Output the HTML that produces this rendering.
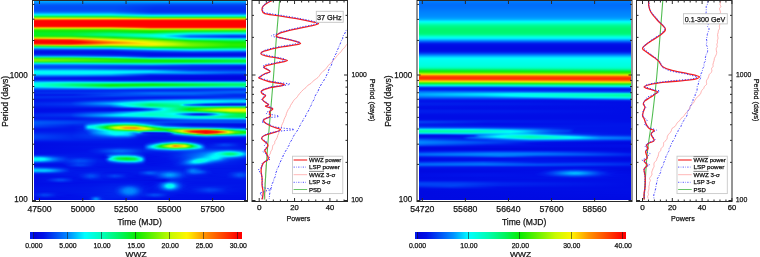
<!DOCTYPE html>
<html><head><meta charset="utf-8"><title>WWZ</title>
<style>
html,body{margin:0;padding:0;background:#fff;}
body{width:760px;height:257px;overflow:hidden;position:relative;font-family:"Liberation Sans", sans-serif;}
.a,.b,.c1,.c2{position:absolute;height:1px;}
.a{left:34px;width:212px;}
.b{left:419px;width:212px;}
.c1{left:30px;width:212px;top:232px;height:7px;}
.c2{left:415px;width:211px;top:232px;height:7px;}
svg{position:absolute;left:0;top:0;will-change:transform;}
svg text{font-family:"Liberation Sans", sans-serif;fill:#111;stroke:#111;stroke-width:0.25px;}
</style></head><body>
<div class="a" style="top:1px;background:linear-gradient(90deg,#00a3ff 0.5px,#00a6ff 90.5px,#00adff 136.5px,#00adff 211.5px)"></div>
<div class="a" style="top:2px;background:linear-gradient(90deg,#008efe 0.5px,#008bfd 211.5px)"></div>
<div class="a" style="top:3px;background:linear-gradient(90deg,#0077fc 0.5px,#0074fb 86.5px,#006afa 130.5px,#006afa 211.5px)"></div>
<div class="a" style="top:4px;background:linear-gradient(90deg,#0064f9 0.5px,#0060f9 83.5px,#0051f6 124.5px,#0051f6 211.5px)"></div>
<div class="a" style="top:5px;background:linear-gradient(90deg,#0057f7 0.5px,#0055f7 81.5px,#0042f4 122.5px,#0042f4 211.5px)"></div>
<div class="a" style="top:6px;background:linear-gradient(90deg,#0052f7 0.5px,#004ff6 81.5px,#003af2 122.5px,#003af2 211.5px)"></div>
<div class="a" style="top:7px;background:linear-gradient(90deg,#0050f6 0.5px,#004df6 80.5px,#0035f1 120.5px,#0035f1 211.5px)"></div>
<div class="a" style="top:8px;background:linear-gradient(90deg,#0050f6 0.5px,#004df6 80.5px,#0033f0 120.5px,#0033f0 211.5px)"></div>
<div class="a" style="top:9px;background:linear-gradient(90deg,#0051f6 0.5px,#004ff6 79.5px,#0031f0 119.5px,#0031f0 211.5px)"></div>
<div class="a" style="top:10px;background:linear-gradient(90deg,#0057f7 0.5px,#0054f7 79.5px,#0031f0 119.5px,#0031f0 211.5px)"></div>
<div class="a" style="top:11px;background:linear-gradient(90deg,#0067f9 0.5px,#0064f9 78.5px,#0035f1 117.5px,#0035f1 211.5px)"></div>
<div class="a" style="top:12px;background:linear-gradient(90deg,#0085fd 0.5px,#0083fd 77.5px,#0042f4 117.5px,#0042f3 211.5px)"></div>
<div class="a" style="top:13px;background:linear-gradient(90deg,#00b5fe 0.5px,#00b4fe 76.5px,#0074fa 107.5px,#0064f8 117.5px,#0064f8 211.5px)"></div>
<div class="a" style="top:14px;background:linear-gradient(90deg,#00e8ee 0.5px,#00e5ef 77.5px,#00a1fd 117.5px,#00a1fd 211.5px)"></div>
<div class="a" style="top:15px;background:linear-gradient(90deg,#02f9aa 0.5px,#02f8ad 77.5px,#00e7e9 117.5px,#00e7e9 211.5px)"></div>
<div class="a" style="top:16px;background:linear-gradient(90deg,#1bf347 0.5px,#1af44a 77.5px,#08f88f 114.5px,#08f892 211.5px)"></div>
<div class="a" style="top:17px;background:linear-gradient(90deg,#74f10d 0.5px,#72f00e 77.5px,#3ef123 117.5px,#3ef123 211.5px)"></div>
<div class="a" style="top:18px;background:linear-gradient(90deg,#dcd801 0.5px,#dad801 78.5px,#b6d702 118.5px,#b6d702 211.5px)"></div>
<div class="a" style="top:19px;background:linear-gradient(90deg,#fd7800 0.5px,#f97600 92.5px,#f47200 148.5px,#f47200 211.5px)"></div>
<div class="a" style="top:20px;background:linear-gradient(90deg,#ff1b00 0.5px,#ff1800 211.5px)"></div>
<div class="a" style="top:21px;background:linear-gradient(90deg,#ff0100 0.5px,#ff0100 211.5px)"></div>
<div class="a" style="top:22px;background:linear-gradient(90deg,#ff0000 0.5px,#ff0000 211.5px)"></div>
<div class="a" style="top:23px;background:linear-gradient(90deg,#ff0000 0.5px,#ff0000 211.5px)"></div>
<div class="a" style="top:24px;background:linear-gradient(90deg,#ff0000 0.5px,#ff0000 211.5px)"></div>
<div class="a" style="top:25px;background:linear-gradient(90deg,#ff0200 0.5px,#ff0000 211.5px)"></div>
<div class="a" style="top:26px;background:linear-gradient(90deg,#fe2400 0.5px,#ff2100 78.5px,#ff0400 120.5px,#ff0400 211.5px)"></div>
<div class="a" style="top:27px;background:linear-gradient(90deg,#f29200 0.5px,#f29000 76.5px,#fe4c00 105.5px,#fe2d00 116.5px,#fe2d00 211.5px)"></div>
<div class="a" style="top:28px;background:linear-gradient(90deg,#b7e300 0.5px,#b9e100 77.5px,#e3ca00 101.5px,#ea9f00 116.5px,#ea9f00 211.5px)"></div>
<div class="a" style="top:29px;background:linear-gradient(90deg,#56ef00 0.5px,#59ef00 77.5px,#8fec00 105.5px,#9fe500 118.5px,#9ce501 211.5px)"></div>
<div class="a" style="top:30px;background:linear-gradient(90deg,#1ded03 0.5px,#22ed05 78.5px,#46ee00 118.5px,#45f00c 167.5px,#3cef10 210.5px,#3cef10 211.5px)"></div>
<div class="a" style="top:31px;background:linear-gradient(90deg,#0cec0c 0.5px,#0bed12 46.5px,#0bee1d 78.5px,#16ec03 110.5px,#17ec05 120.5px,#11f23a 159.5px,#0cf34c 202.5px,#0cf34c 211.5px)"></div>
<div class="a" style="top:32px;background:linear-gradient(90deg,#07ee19 0.5px,#07ef23 39.5px,#03f24a 76.5px,#0aee1a 115.5px,#03f55f 139.5px,#02f88b 157.5px,#01f99e 202.5px,#01f99e 211.5px)"></div>
<div class="a" style="top:33px;background:linear-gradient(90deg,#06ef22 0.5px,#05f02f 37.5px,#00f772 75.5px,#02f66c 116.5px,#00fabf 144.5px,#00efd8 157.5px,#00e6e5 207.5px,#00e6e5 211.5px)"></div>
<div class="a" style="top:34px;background:linear-gradient(90deg,#07ef20 0.5px,#05f034 37.5px,#00f87c 69.5px,#00fa92 84.5px,#00fdb6 117.5px,#00fbdf 133.5px,#00ecf2 143.5px,#00c0f8 156.5px,#009bfb 198.5px,#009bfb 211.5px)"></div>
<div class="a" style="top:35px;background:linear-gradient(90deg,#11ee13 0.5px,#0cef27 37.5px,#02f561 64.5px,#00ffd7 119.5px,#00fdf7 130.5px,#00bafe 145.5px,#008bfd 155.5px,#0058f7 197.5px,#0058f7 211.5px)"></div>
<div class="a" style="top:36px;background:linear-gradient(90deg,#3fee04 0.5px,#33ef0a 37.5px,#1cee16 51.5px,#05f34a 79.5px,#00fec7 119.5px,#00fef3 130.5px,#00c2fe 142.5px,#0084fd 152.5px,#0072fb 156.5px,#003bf2 197.5px,#003bf2 211.5px)"></div>
<div class="a" style="top:37px;background:linear-gradient(90deg,#9be800 0.5px,#8ef200 36.5px,#4cf008 62.5px,#1dee13 80.5px,#03f66d 111.5px,#02f988 118.5px,#00fdcb 131.5px,#00f0ee 140.5px,#009afc 155.5px,#0063f6 197.5px,#0063f6 211.5px)"></div>
<div class="a" style="top:38px;background:linear-gradient(90deg,#e9af00 0.5px,#e5cf00 27.5px,#dad400 38.5px,#aeed00 58.5px,#8ef300 68.5px,#5df103 83.5px,#1cef1d 110.5px,#14f133 117.5px,#03f77b 131.5px,#01f8b6 142.5px,#00e2e8 156.5px,#00bbed 199.5px,#00bbed 211.5px)"></div>
<div class="a" style="top:39px;background:linear-gradient(90deg,#fe4500 0.5px,#fb6500 36.5px,#f3a700 52.5px,#e7df00 64.5px,#bef500 79.5px,#59f105 113.5px,#1cef1c 129.5px,#05f673 148.5px,#02f794 156.5px,#00f0b3 199.5px,#00f0b3 211.5px)"></div>
<div class="a" style="top:40px;background:linear-gradient(90deg,#ff0b00 0.5px,#ff1600 37.5px,#ff4b00 49.5px,#fab000 68.5px,#f3df00 78.5px,#d5f400 94.5px,#aef600 108.5px,#74f201 123.5px,#4df007 133.5px,#13ef20 151.5px,#0df132 157.5px,#03f45d 194.5px,#03f45f 211.5px)"></div>
<div class="a" style="top:41px;background:linear-gradient(90deg,#ff0000 0.5px,#ff0400 39.5px,#ff0f00 46.5px,#ff9000 73.5px,#fcbd00 84.5px,#f3ec00 98.5px,#d4f700 111.5px,#9df600 127.5px,#35ee04 153.5px,#27ee08 160.5px,#0eed12 181.5px,#07ef25 198.5px,#07ef25 211.5px)"></div>
<div class="a" style="top:42px;background:linear-gradient(90deg,#ff0100 0.5px,#ff0400 44.5px,#ff1100 50.5px,#ff8e00 81.5px,#fae500 104.5px,#f5f100 109.5px,#cbf800 125.5px,#80f300 144.5px,#4eef00 156.5px,#14ec06 192.5px,#0fec07 202.5px,#0fec07 211.5px)"></div>
<div class="a" style="top:43px;background:linear-gradient(90deg,#fe1d00 0.5px,#ff1200 38.5px,#ff1d00 44.5px,#fe5e00 62.5px,#fe9900 77.5px,#fed000 100.5px,#fbed00 113.5px,#f0f600 120.5px,#b7f800 138.5px,#67f100 156.5px,#1eec00 197.5px,#1eec00 211.5px)"></div>
<div class="a" style="top:44px;background:linear-gradient(90deg,#e57d01 0.5px,#f55d00 36.5px,#f19000 55.5px,#ebd600 76.5px,#f7ef00 116.5px,#ecf700 122.5px,#baf900 139.5px,#71f200 157.5px,#27ed00 197.5px,#27ed00 211.5px)"></div>
<div class="a" style="top:45px;background:linear-gradient(90deg,#86d911 0.5px,#b2d004 32.5px,#b1d503 44.5px,#9af102 76.5px,#caf301 109.5px,#d1f500 117.5px,#abf700 135.5px,#69f100 159.5px,#25ed00 196.5px,#25ed00 211.5px)"></div>
<div class="a" style="top:46px;background:linear-gradient(90deg,#21f357 0.5px,#34f02b 38.5px,#2df124 76.5px,#7df30b 116.5px,#58f001 151.5px,#1eed06 190.5px,#16ed08 199.5px,#16ed08 211.5px)"></div>
<div class="a" style="top:47px;background:linear-gradient(90deg,#02e6c1 0.5px,#04eca0 42.5px,#06f192 78.5px,#0ef67b 91.5px,#20f33b 119.5px,#1fef1a 142.5px,#28ee13 157.5px,#10ee1c 179.5px,#09f02f 198.5px,#09f02f 211.5px)"></div>
<div class="a" style="top:48px;background:linear-gradient(90deg,#009ef3 0.5px,#00b9ec 46.5px,#00c5e9 76.5px,#00e2e1 87.5px,#03f898 123.5px,#0af45c 156.5px,#02f77f 194.5px,#02f781 211.5px)"></div>
<div class="a" style="top:49px;background:linear-gradient(90deg,#0054f5 0.5px,#0071f7 76.5px,#00a1f7 95.5px,#00dfea 120.5px,#01f1bc 157.5px,#00eed1 201.5px,#00eed1 211.5px)"></div>
<div class="a" style="top:50px;background:linear-gradient(90deg,#0027ed 0.5px,#0031ef 75.5px,#0091fa 124.5px,#00c3f2 157.5px,#00b7f6 207.5px,#00b7f6 211.5px)"></div>
<div class="a" style="top:51px;background:linear-gradient(90deg,#0012e8 0.5px,#0018ea 78.5px,#006ff8 149.5px,#0077f9 158.5px,#006cf8 210.5px,#006cf8 211.5px)"></div>
<div class="a" style="top:52px;background:linear-gradient(90deg,#000fe7 0.5px,#0011e8 83.5px,#003cf2 159.5px,#0033f0 211.5px)"></div>
<div class="a" style="top:53px;background:linear-gradient(90deg,#0017ea 0.5px,#0012e9 114.5px,#001ceb 164.5px,#0017ea 211.5px)"></div>
<div class="a" style="top:54px;background:linear-gradient(90deg,#002eef 0.5px,#002aee 46.5px,#000ee7 120.5px,#000fe7 211.5px)"></div>
<div class="a" style="top:55px;background:linear-gradient(90deg,#0061f5 0.5px,#005ef6 39.5px,#0037f1 85.5px,#0013e8 117.5px,#0016e9 211.5px)"></div>
<div class="a" style="top:56px;background:linear-gradient(90deg,#01b2df 0.5px,#00afe1 38.5px,#007bf7 84.5px,#0033ef 115.5px,#0039f0 206.5px,#0039f0 211.5px)"></div>
<div class="a" style="top:57px;background:linear-gradient(90deg,#0fe77c 0.5px,#0ce77e 37.5px,#02dcc7 79.5px,#01d6d7 86.5px,#0087ec 113.5px,#0082ed 119.5px,#0087f1 211.5px)"></div>
<div class="a" style="top:58px;background:linear-gradient(90deg,#42f01c 0.5px,#30ef1d 39.5px,#12ef31 66.5px,#0ef045 77.5px,#04ee70 90.5px,#01deb4 116.5px,#00e0ca 206.5px,#00e0ca 211.5px)"></div>
<div class="a" style="top:59px;background:linear-gradient(90deg,#77f201 0.5px,#49ef01 46.5px,#29ed07 75.5px,#0eee20 96.5px,#08f14b 117.5px,#02f469 170.5px,#01f67b 201.5px,#01f67b 211.5px)"></div>
<div class="a" style="top:60px;background:linear-gradient(90deg,#7cf301 0.5px,#1fed02 93.5px,#0eed0f 128.5px,#08ee1b 156.5px,#03f246 198.5px,#03f246 211.5px)"></div>
<div class="a" style="top:61px;background:linear-gradient(90deg,#4ef118 0.5px,#2aef16 50.5px,#19ed0e 89.5px,#08ed13 148.5px,#06ef29 172.5px,#04f243 198.5px,#04f243 211.5px)"></div>
<div class="a" style="top:62px;background:linear-gradient(90deg,#13f172 0.5px,#0bf375 39.5px,#08f254 81.5px,#08f24c 120.5px,#03f363 164.5px,#01f57d 199.5px,#01f57d 211.5px)"></div>
<div class="a" style="top:63px;background:linear-gradient(90deg,#01dadd 0.5px,#00dede 39.5px,#01e4d5 56.5px,#01eabe 97.5px,#01ecb7 120.5px,#00e0cc 169.5px,#00e0d6 206.5px,#00e0d6 211.5px)"></div>
<div class="a" style="top:64px;background:linear-gradient(90deg,#0094fb 0.5px,#0098fc 43.5px,#00a9f5 87.5px,#00b9f1 117.5px,#008ef4 157.5px,#0087f6 211.5px)"></div>
<div class="a" style="top:65px;background:linear-gradient(90deg,#0061f9 0.5px,#0065f8 85.5px,#006ef8 118.5px,#004af4 159.5px,#0040f2 211.5px)"></div>
<div class="a" style="top:66px;background:linear-gradient(90deg,#004cf6 0.5px,#0047f5 53.5px,#003af2 130.5px,#0021ec 204.5px,#0021ec 211.5px)"></div>
<div class="a" style="top:67px;background:linear-gradient(90deg,#004df6 0.5px,#004af5 44.5px,#002aee 124.5px,#0025ed 164.5px,#0017ea 203.5px,#0017ea 211.5px)"></div>
<div class="a" style="top:68px;background:linear-gradient(90deg,#0067f9 0.5px,#0064f9 41.5px,#0032f0 125.5px,#001beb 204.5px,#001beb 211.5px)"></div>
<div class="a" style="top:69px;background:linear-gradient(90deg,#0096fe 0.5px,#0092fe 40.5px,#0064f8 118.5px,#0030ef 157.5px,#0029ee 211.5px)"></div>
<div class="a" style="top:70px;background:linear-gradient(90deg,#00cefe 0.5px,#00cbfe 43.5px,#00abfe 116.5px,#0072fa 138.5px,#004af5 157.5px,#003df3 205.5px,#003df3 211.5px)"></div>
<div class="a" style="top:71px;background:linear-gradient(90deg,#00f5fa 0.5px,#00effd 71.5px,#00daff 114.5px,#0079fc 153.5px,#005df8 184.5px,#0055f7 202.5px,#0055f7 211.5px)"></div>
<div class="a" style="top:72px;background:linear-gradient(90deg,#00fef5 0.5px,#00f9fa 75.5px,#00ebff 90.5px,#007ffd 166.5px,#0060f9 198.5px,#0060f9 211.5px)"></div>
<div class="a" style="top:73px;background:linear-gradient(90deg,#00f5fa 0.5px,#00f1fc 51.5px,#00e1fe 77.5px,#0084fc 116.5px,#0077fb 158.5px,#0048f4 197.5px,#0048f4 211.5px)"></div>
<div class="a" style="top:74px;background:linear-gradient(90deg,#00cdfe 0.5px,#00c9fe 42.5px,#00b2fe 76.5px,#0079fb 95.5px,#0044f3 116.5px,#0045f3 159.5px,#0026ed 199.5px,#0026ed 211.5px)"></div>
<div class="a" style="top:75px;background:linear-gradient(90deg,#008efd 0.5px,#008afc 43.5px,#0074fa 77.5px,#001eeb 116.5px,#0010e6 211.5px)"></div>
<div class="a" style="top:76px;background:linear-gradient(90deg,#0057f7 0.5px,#004ef5 48.5px,#003df2 79.5px,#000fe6 114.5px,#0009e1 200.5px,#0009e1 211.5px)"></div>
<div class="a" style="top:77px;background:linear-gradient(90deg,#002eef 0.5px,#0018e9 82.5px,#0009e1 123.5px,#0006de 211.5px)"></div>
<div class="a" style="top:78px;background:linear-gradient(90deg,#001beb 0.5px,#0005dd 158.5px,#0006dd 211.5px)"></div>
<div class="a" style="top:79px;background:linear-gradient(90deg,#0025ed 0.5px,#0021ec 43.5px,#0012e6 88.5px,#000be1 200.5px,#000be1 211.5px)"></div>
<div class="a" style="top:80px;background:linear-gradient(90deg,#004df5 0.5px,#004cf4 39.5px,#0033ef 81.5px,#002aeb 195.5px,#002aeb 211.5px)"></div>
<div class="a" style="top:81px;background:linear-gradient(90deg,#008dfd 0.5px,#009af9 35.5px,#007ff7 80.5px,#0081ef 128.5px,#0080f1 211.5px)"></div>
<div class="a" style="top:82px;background:linear-gradient(90deg,#00d1fd 0.5px,#00e6f0 23.5px,#00e6e2 38.5px,#00dedf 79.5px,#01debe 117.5px,#00dfd0 166.5px,#00e0d1 211.5px)"></div>
<div class="a" style="top:83px;background:linear-gradient(90deg,#00f7f4 0.5px,#00fcbc 28.5px,#00faa7 38.5px,#03f35d 117.5px,#01f784 170.5px,#00f892 202.5px,#00f892 211.5px)"></div>
<div class="a" style="top:84px;background:linear-gradient(90deg,#00ffea 0.5px,#00fca6 25.5px,#00f87e 39.5px,#07ef29 77.5px,#08ed1a 118.5px,#03f34c 167.5px,#00f66f 198.5px,#00f66f 211.5px)"></div>
<div class="a" style="top:85px;background:linear-gradient(90deg,#00feec 0.5px,#00fca9 25.5px,#07ee23 71.5px,#08ed16 76.5px,#06f030 124.5px,#03f358 164.5px,#00f780 197.5px,#00f780 211.5px)"></div>
<div class="a" style="top:86px;background:linear-gradient(90deg,#00eff9 0.5px,#00faab 39.5px,#04f250 76.5px,#02f586 119.5px,#00edbc 200.5px,#00edbc 211.5px)"></div>
<div class="a" style="top:87px;background:linear-gradient(90deg,#00b7fe 0.5px,#00e3e8 38.5px,#01ebae 76.5px,#00dbe2 118.5px,#00b7ec 178.5px,#00aeee 205.5px,#00aeee 211.5px)"></div>
<div class="a" style="top:88px;background:linear-gradient(90deg,#0078fa 0.5px,#0097f8 46.5px,#00aeed 76.5px,#0084f7 110.5px,#0062f6 180.5px,#005cf6 211.5px)"></div>
<div class="a" style="top:89px;background:linear-gradient(90deg,#0049f5 0.5px,#0054f5 55.5px,#005af5 78.5px,#003ff3 122.5px,#003af2 172.5px,#003bf2 211.5px)"></div>
<div class="a" style="top:90px;background:linear-gradient(90deg,#002cef 0.5px,#0030f0 62.5px,#0031f0 152.5px,#0047f5 203.5px,#0047f5 211.5px)"></div>
<div class="a" style="top:91px;background:linear-gradient(90deg,#0025ed 0.5px,#0029ee 52.5px,#003df3 103.5px,#0043f3 126.5px,#0046f4 161.5px,#005af8 201.5px,#005af8 211.5px)"></div>
<div class="a" style="top:92px;background:linear-gradient(90deg,#002bef 0.5px,#002ff0 50.5px,#003cf3 81.5px,#005df8 118.5px,#005af8 211.5px)"></div>
<div class="a" style="top:93px;background:linear-gradient(90deg,#0029ee 0.5px,#002cef 41.5px,#0047f5 84.5px,#0067fa 119.5px,#0064f9 159.5px,#0047f5 200.5px,#0047f5 211.5px)"></div>
<div class="a" style="top:94px;background:linear-gradient(90deg,#001deb 0.5px,#0020ec 39.5px,#0048f5 83.5px,#005af8 122.5px,#0057f8 158.5px,#0032f0 199.5px,#0032f0 211.5px)"></div>
<div class="a" style="top:95px;background:linear-gradient(90deg,#001deb 0.5px,#0020ec 38.5px,#0045f4 78.5px,#0042f4 160.5px,#002aef 200.5px,#002aef 211.5px)"></div>
<div class="a" style="top:96px;background:linear-gradient(90deg,#0029ee 0.5px,#002def 46.5px,#0036f1 81.5px,#002def 129.5px,#002eef 211.5px)"></div>
<div class="a" style="top:97px;background:linear-gradient(90deg,#002cef 0.5px,#0028ee 52.5px,#001eeb 121.5px,#0028ee 163.5px,#003ef3 200.5px,#003ef3 211.5px)"></div>
<div class="a" style="top:98px;background:linear-gradient(90deg,#0024ed 0.5px,#001eeb 53.5px,#001aeb 81.5px,#0036f1 137.5px,#005ef8 199.5px,#005ef8 211.5px)"></div>
<div class="a" style="top:99px;background:linear-gradient(90deg,#0019ea 0.5px,#001eec 63.5px,#0024ed 79.5px,#008cfb 158.5px,#0091fd 211.5px)"></div>
<div class="a" style="top:100px;background:linear-gradient(90deg,#0016ea 0.5px,#001aeb 39.5px,#003af2 77.5px,#00a3fd 121.5px,#00dcfa 157.5px,#00c9ff 193.5px,#00c7ff 211.5px)"></div>
<div class="a" style="top:101px;background:linear-gradient(90deg,#001aea 0.5px,#0020ec 37.5px,#0063f8 77.5px,#00b7fc 101.5px,#00e5f3 117.5px,#00faec 158.5px,#00f0fe 179.5px,#00d5ff 197.5px,#00d5ff 211.5px)"></div>
<div class="a" style="top:102px;background:linear-gradient(90deg,#0021ec 0.5px,#0029ee 36.5px,#008afd 75.5px,#00cffc 90.5px,#00edf3 99.5px,#00fcca 116.5px,#00feda 149.5px,#00fae8 158.5px,#00ddfd 172.5px,#00a7fd 196.5px,#00a7fd 211.5px)"></div>
<div class="a" style="top:103px;background:linear-gradient(90deg,#0026ee 0.5px,#0030f0 36.5px,#0093fe 70.5px,#00b1ff 77.5px,#00f1fe 87.5px,#00fed1 101.5px,#00fa94 116.5px,#00febd 144.5px,#00fdd6 148.5px,#00eae2 151.5px,#00d8f6 157.5px,#0083f9 171.5px,#0073f7 177.5px,#0051f3 197.5px,#0051f3 211.5px)"></div>
<div class="a" style="top:104px;background:linear-gradient(90deg,#0027ee 0.5px,#0033f1 37.5px,#008efe 73.5px,#00a3fe 77.5px,#00f3fe 87.5px,#00fee8 93.5px,#00fca6 106.5px,#00f672 115.5px,#00f775 119.5px,#00fca8 144.5px,#00feb2 145.5px,#00ffd7 147.5px,#00f9ea 148.5px,#00e2f3 149.5px,#00c9f5 150.5px,#00adf7 152.5px,#0074f8 159.5px,#0035ef 171.5px,#002ceb 178.5px,#0025e8 205.5px,#0025e8 211.5px)"></div>
<div class="a" style="top:105px;background:linear-gradient(90deg,#0023ed 0.5px,#002cef 37.5px,#006efa 75.5px,#0098fe 81.5px,#00e7fc 90.5px,#00f5f4 93.5px,#00fed2 100.5px,#00f673 115.5px,#00f774 120.5px,#00fa8e 143.5px,#00fa92 144.5px,#00fb9d 145.5px,#00fdc3 147.5px,#00f9d8 148.5px,#00e9e3 149.5px,#00d2e7 150.5px,#00b8e9 152.5px,#008eeb 157.5px,#005aeb 172.5px,#0060e5 211.5px)"></div>
<div class="a" style="top:106px;background:linear-gradient(90deg,#001deb 0.5px,#0024ed 39.5px,#004df5 76.5px,#008efd 86.5px,#00ccfb 94.5px,#00e2f4 98.5px,#00f6ac 113.5px,#00f99d 117.5px,#00f983 144.5px,#00f990 147.5px,#00efa0 150.5px,#01ddaf 158.5px,#02d0c1 173.5px,#07d2a6 196.5px,#07d2a6 211.5px)"></div>
<div class="a" style="top:107px;background:linear-gradient(90deg,#0017ea 0.5px,#001ceb 45.5px,#0029ed 76.5px,#006ef7 93.5px,#009df3 104.5px,#00dce4 116.5px,#00fec0 130.5px,#00f670 148.5px,#03f254 156.5px,#11f251 170.5px,#16f14d 175.5px,#2af02d 191.5px,#35f12b 197.5px,#35f12b 211.5px)"></div>
<div class="a" style="top:108px;background:linear-gradient(90deg,#0012e9 0.5px,#0013e6 78.5px,#002dec 97.5px,#0048f2 106.5px,#0080f8 116.5px,#00aff8 122.5px,#00fbf0 129.5px,#00fec5 135.5px,#03f246 150.5px,#0aee1b 155.5px,#15ed10 159.5px,#71f307 183.5px,#9ef402 196.5px,#9ef402 211.5px)"></div>
<div class="a" style="top:109px;background:linear-gradient(90deg,#000fe7 0.5px,#000ce3 89.5px,#0018e7 102.5px,#002aee 108.5px,#0059f7 116.5px,#0096fe 122.5px,#00ecfd 128.5px,#00fdf5 130.5px,#00fb9c 140.5px,#03f243 149.5px,#0bed11 154.5px,#24ed02 159.5px,#bbf800 184.5px,#ebf500 196.5px,#ebf400 211.5px)"></div>
<div class="a" style="top:110px;background:linear-gradient(90deg,#000ee6 0.5px,#0014e7 78.5px,#0026eb 96.5px,#0040f1 105.5px,#0074f9 114.5px,#00a8fd 120.5px,#00f2f7 127.5px,#00fee9 130.5px,#00f983 144.5px,#09f032 155.5px,#16ee19 160.5px,#7df402 177.5px,#b7f701 185.5px,#ecf500 195.5px,#f0f300 211.5px)"></div>
<div class="a" style="top:111px;background:linear-gradient(90deg,#000fe7 0.5px,#0013e9 39.5px,#0032ef 77.5px,#006bf8 96.5px,#009afb 106.5px,#00e9f4 120.5px,#00ffdf 128.5px,#00fa9f 147.5px,#02f57d 158.5px,#13f255 168.5px,#28f029 176.5px,#91f401 192.5px,#adf501 196.5px,#b9f500 211.5px)"></div>
<div class="a" style="top:112px;background:linear-gradient(90deg,#0015e9 0.5px,#001ceb 37.5px,#005af7 76.5px,#009cfd 91.5px,#00e7f9 106.5px,#00fade 117.5px,#00ffd3 134.5px,#00fcd7 141.5px,#00d9e1 156.5px,#01d1ce 166.5px,#03daaa 174.5px,#12f575 183.5px,#27f124 191.5px,#4bf114 196.5px,#5df109 206.5px,#60f207 211.5px)"></div>
<div class="a" style="top:113px;background:linear-gradient(90deg,#001eec 0.5px,#0027ee 36.5px,#0084fd 75.5px,#00beff 87.5px,#00f2fa 98.5px,#00fede 109.5px,#00ffca 116.5px,#00ffd4 129.5px,#00ffee 138.5px,#00fbf5 140.5px,#00c4f8 146.5px,#0094f9 151.5px,#006cf5 157.5px,#005bf0 162.5px,#005aec 167.5px,#006deb 172.5px,#0097ea 177.5px,#01ecdc 183.5px,#02fbbf 186.5px,#06f877 192.5px,#10f34c 197.5px,#16f12f 204.5px,#19f023 211.5px)"></div>
<div class="a" style="top:114px;background:linear-gradient(90deg,#0025ed 0.5px,#0030f0 36.5px,#0090fe 67.5px,#00f3fe 90.5px,#00fee7 101.5px,#00ffc3 116.5px,#00ffcd 128.5px,#00ffe6 136.5px,#00fef4 139.5px,#00f1f9 141.5px,#00bafe 146.5px,#0067f8 153.5px,#003af0 158.5px,#002bea 162.5px,#002bea 168.5px,#003bef 172.5px,#0065f7 176.5px,#00b3fc 181.5px,#00e3f4 184.5px,#00fae9 186.5px,#00fec8 189.5px,#01f87d 196.5px,#02f45b 202.5px,#04f246 210.5px,#04f244 211.5px)"></div>
<div class="a" style="top:115px;background:linear-gradient(90deg,#0027ee 0.5px,#0031f0 36.5px,#008ffe 64.5px,#00d6ff 81.5px,#00f0fd 89.5px,#00fecf 117.5px,#00ffce 130.5px,#00ffde 138.5px,#00f2f0 144.5px,#00ddf6 147.5px,#0092f4 155.5px,#0077f1 160.5px,#006fee 166.5px,#007cef 171.5px,#0098f1 175.5px,#00e1ec 181.5px,#00f9d3 185.5px,#00fdb0 189.5px,#00f774 196.5px,#02f354 204.5px,#03f249 211.5px)"></div>
<div class="a" style="top:116px;background:linear-gradient(90deg,#0024ed 0.5px,#0029ee 36.5px,#008bfd 71.5px,#00adfe 82.5px,#00d9f7 104.5px,#00e6f1 114.5px,#00fadc 134.5px,#00fde0 145.5px,#00dfe4 159.5px,#00dddf 169.5px,#00eecc 177.5px,#00fbb8 182.5px,#00f66f 195.5px,#02f459 204.5px,#02f354 211.5px)"></div>
<div class="a" style="top:117px;background:linear-gradient(90deg,#001fec 0.5px,#0020ec 37.5px,#0079fa 90.5px,#00a0fb 117.5px,#00e8f4 139.5px,#00f5df 162.5px,#00f9cc 175.5px,#00f78f 197.5px,#01f689 211.5px)"></div>
<div class="a" style="top:118px;background:linear-gradient(90deg,#001eec 0.5px,#0019eb 38.5px,#004cf5 95.5px,#0060f8 117.5px,#00a9fb 143.5px,#00c9f6 157.5px,#00e3e7 187.5px,#00e2dd 200.5px,#00e2dc 211.5px)"></div>
<div class="a" style="top:119px;background:linear-gradient(90deg,#0028ee 0.5px,#001eec 41.5px,#0035f1 100.5px,#0039f1 117.5px,#0082fb 157.5px,#0094fa 197.5px,#0094fa 211.5px)"></div>
<div class="a" style="top:120px;background:linear-gradient(90deg,#003cf3 0.5px,#0029ee 58.5px,#0035f1 94.5px,#002bef 117.5px,#0055f7 159.5px,#005df8 211.5px)"></div>
<div class="a" style="top:121px;background:linear-gradient(90deg,#0050f6 0.5px,#0034f1 53.5px,#0042f3 73.5px,#0058f7 90.5px,#004ef5 102.5px,#003cf2 114.5px,#0043f4 136.5px,#004ff6 162.5px,#004ef6 211.5px)"></div>
<div class="a" style="top:122px;background:linear-gradient(90deg,#0059f8 0.5px,#0039f2 50.5px,#005bf8 67.5px,#0090fb 84.5px,#0097fa 92.5px,#0088fb 101.5px,#0064f9 108.5px,#0049f5 119.5px,#0040f3 136.5px,#0049f5 211.5px)"></div>
<div class="a" style="top:123px;background:linear-gradient(90deg,#0058f8 0.5px,#0035f1 48.5px,#0041f4 51.5px,#005bf8 55.5px,#0077fb 62.5px,#00a5f9 70.5px,#00dbe7 82.5px,#01e3df 88.5px,#01e4dd 92.5px,#01dce6 98.5px,#00d0ea 101.5px,#0094fb 109.5px,#0062f9 116.5px,#0044f4 123.5px,#0030f0 134.5px,#0020ec 158.5px,#0027ed 211.5px)"></div>
<div class="a" style="top:124px;background:linear-gradient(90deg,#0052f7 0.5px,#002eef 39.5px,#002eef 48.5px,#003ff3 50.5px,#007dfb 54.5px,#00b7fa 62.5px,#00e5eb 68.5px,#06f491 81.5px,#15f679 91.5px,#0af296 101.5px,#01e6d4 107.5px,#01dde3 109.5px,#0095fa 116.5px,#0064f8 121.5px,#003ef3 128.5px,#002cef 135.5px,#0012e8 155.5px,#0010e6 211.5px)"></div>
<div class="a" style="top:125px;background:linear-gradient(90deg,#0049f6 0.5px,#0024ed 38.5px,#0029ee 48.5px,#0034f1 49.5px,#0047f5 50.5px,#007efc 52.5px,#009dfe 53.5px,#00b6fe 54.5px,#00cafd 56.5px,#00ecf0 61.5px,#00faaf 68.5px,#04f56e 73.5px,#28f126 80.5px,#62f21c 89.5px,#68f21b 91.5px,#4ff123 100.5px,#3af129 102.5px,#2bf341 104.5px,#16f67a 108.5px,#04eda6 112.5px,#01e1dc 116.5px,#00bdec 119.5px,#009bf5 122.5px,#0068f7 128.5px,#0053f5 131.5px,#002bee 146.5px,#001bea 159.5px,#000de5 209.5px,#000de5 211.5px)"></div>
<div class="a" style="top:126px;background:linear-gradient(90deg,#003ff3 0.5px,#001deb 38.5px,#0021ec 47.5px,#0026ed 48.5px,#0034f1 49.5px,#004ef6 50.5px,#0070fa 51.5px,#00c5ff 53.5px,#00e5fe 54.5px,#00f1fb 55.5px,#00fde0 60.5px,#00fdbc 63.5px,#02f45d 69.5px,#0cef26 72.5px,#17ee1b 73.5px,#87f402 80.5px,#b1f501 84.5px,#d2e201 90.5px,#cbdf01 97.5px,#c5df02 100.5px,#a9e805 103.5px,#77f317 107.5px,#3cf227 111.5px,#2df231 112.5px,#11f578 116.5px,#03eda1 119.5px,#01e4c8 122.5px,#00d9e3 125.5px,#00a2f2 130.5px,#008ff4 134.5px,#0062f5 147.5px,#0048f2 157.5px,#0016e9 203.5px,#0013e8 211.5px)"></div>
<div class="a" style="top:127px;background:linear-gradient(90deg,#0031f0 0.5px,#0019ea 38.5px,#001fec 47.5px,#0024ed 48.5px,#0033f0 49.5px,#004df5 50.5px,#0071fb 51.5px,#00c9ff 53.5px,#00e8fe 54.5px,#00f2fb 55.5px,#00fedf 60.5px,#00fdb5 63.5px,#02f45b 68.5px,#0bee1a 71.5px,#28ed04 73.5px,#b1f700 79.5px,#d0f700 81.5px,#ebf500 84.5px,#f5d900 87.5px,#fab700 90.5px,#fbad00 92.5px,#f8a400 100.5px,#f4b200 102.5px,#e3e301 106.5px,#baf402 110.5px,#86f40a 113.5px,#2af125 118.5px,#17f243 120.5px,#0af56e 123.5px,#01eab4 129.5px,#00e5c4 131.5px,#01dbdc 140.5px,#01c3e0 145.5px,#019de4 157.5px,#0183eb 175.5px,#0064f4 188.5px,#003bf1 201.5px,#002eee 211.5px)"></div>
<div class="a" style="top:128px;background:linear-gradient(90deg,#0022ec 0.5px,#0017ea 38.5px,#0023ed 48.5px,#002fef 49.5px,#0044f4 50.5px,#0082fc 52.5px,#00a4fe 53.5px,#00bcfe 54.5px,#00cbfc 56.5px,#00ecf3 60.5px,#00fbc7 64.5px,#01f671 69.5px,#0bf030 72.5px,#15ef1f 73.5px,#7af303 78.5px,#a8f601 80.5px,#c2f601 82.5px,#def201 85.5px,#e9e201 87.5px,#f3b700 91.5px,#fba000 100.5px,#fda800 102.5px,#f7d900 107.5px,#ebf100 110.5px,#d6f700 112.5px,#a8f701 115.5px,#59f006 119.5px,#31ef14 122.5px,#15ef21 125.5px,#05f35b 130.5px,#06f461 132.5px,#11f46c 138.5px,#15ef7e 144.5px,#20e884 152.5px,#23e48d 158.5px,#28df97 171.5px,#04d6c7 185.5px,#01a2e8 195.5px,#0087f3 201.5px,#0070f7 211.5px)"></div>
<div class="a" style="top:129px;background:linear-gradient(90deg,#0018ea 0.5px,#0017ea 39.5px,#0022ec 48.5px,#0037f1 50.5px,#0074fb 53.5px,#0083fc 54.5px,#009efe 58.5px,#00dcf5 63.5px,#00f0e9 65.5px,#00fbae 70.5px,#09f569 74.5px,#28f126 78.5px,#5af319 81.5px,#93f10e 87.5px,#afe506 91.5px,#c6dc02 99.5px,#dbdf01 103.5px,#d8e701 106.5px,#bef502 111.5px,#9ff602 114.5px,#4cf009 120.5px,#20ee0e 126.5px,#0aee1d 130.5px,#12ee18 132.5px,#46f116 138.5px,#6af31c 145.5px,#82ee1d 149.5px,#91d621 158.5px,#9fc624 168.5px,#9ac426 172.5px,#44e334 183.5px,#3bec40 185.5px,#29ed6f 190.5px,#04e2ac 198.5px,#01dfc7 201.5px,#00d8e3 208.5px,#00cce7 211.5px)"></div>
<div class="a" style="top:130px;background:linear-gradient(90deg,#0016ea 0.5px,#0018ea 39.5px,#0023ec 48.5px,#0038f2 51.5px,#0063f9 55.5px,#0097ff 61.5px,#00d2fa 66.5px,#00f4eb 70.5px,#01fcb9 75.5px,#09f882 79.5px,#15f76a 82.5px,#33f233 92.5px,#39f12c 96.5px,#46f12c 99.5px,#6cf21f 103.5px,#73f21c 105.5px,#54f22f 111.5px,#25ef39 117.5px,#16f049 121.5px,#06f047 130.5px,#08ef3e 131.5px,#16ee23 133.5px,#5df104 138.5px,#a4f701 143.5px,#d8f301 147.5px,#e0eb01 148.5px,#e6a201 153.5px,#e97101 158.5px,#ed4702 166.5px,#ed3702 171.5px,#e94002 173.5px,#d09302 182.5px,#c6ca09 186.5px,#a2e217 190.5px,#6af222 194.5px,#38f22b 197.5px,#29f132 198.5px,#14f35b 201.5px,#02f48a 209.5px,#02f296 211.5px)"></div>
<div class="a" style="top:131px;background:linear-gradient(90deg,#001beb 0.5px,#001aeb 38.5px,#0027ed 49.5px,#0035f1 52.5px,#007bfc 59.5px,#00a7ff 64.5px,#00e3fc 71.5px,#00fbf1 75.5px,#01fdc7 81.5px,#04f6a9 94.5px,#09ebaa 99.5px,#10ed9c 101.5px,#18f37e 104.5px,#18f07d 105.5px,#13d1a2 109.5px,#09c8ba 114.5px,#02c9c6 121.5px,#01d0b5 130.5px,#02d1ab 131.5px,#0fdc69 135.5px,#1ded40 137.5px,#3ff124 139.5px,#88f505 143.5px,#d9f201 147.5px,#e5e701 148.5px,#fb9b00 152.5px,#fd4a00 156.5px,#fe2b00 158.5px,#fe1200 162.5px,#fe0400 172.5px,#fd2700 182.5px,#fd2f00 183.5px,#f68501 188.5px,#e9bd01 191.5px,#dee701 193.5px,#d2f201 194.5px,#9af602 197.5px,#58f10e 200.5px,#3ff014 202.5px,#10ef20 208.5px,#07f035 211.5px)"></div>
<div class="a" style="top:132px;background:linear-gradient(90deg,#0023ed 0.5px,#001deb 38.5px,#002def 51.5px,#003ff3 54.5px,#0077fc 59.5px,#00a3ff 64.5px,#00d3ff 70.5px,#00fbfd 76.5px,#00ffec 81.5px,#00faf2 89.5px,#00e9f1 94.5px,#00bdf2 99.5px,#01c0ec 101.5px,#01d2e4 103.5px,#01d7e1 104.5px,#01cce1 105.5px,#0178e5 108.5px,#0162e5 109.5px,#0153e4 110.5px,#0045e7 113.5px,#0042e9 119.5px,#0056e5 130.5px,#006edd 133.5px,#018bd5 135.5px,#03cac2 137.5px,#0de493 139.5px,#1af360 141.5px,#2af235 143.5px,#4ff324 145.5px,#8ef116 148.5px,#bede04 151.5px,#ccd402 152.5px,#e98101 156.5px,#f94801 160.5px,#fd2b00 163.5px,#fe0500 171.5px,#fe0d00 175.5px,#fd2600 182.5px,#fd2f00 183.5px,#f59401 189.5px,#e7e201 193.5px,#dff101 194.5px,#acf601 197.5px,#66f102 200.5px,#55f003 201.5px,#15ee13 209.5px,#0bee1a 211.5px)"></div>
<div class="a" style="top:133px;background:linear-gradient(90deg,#002def 0.5px,#0021ec 38.5px,#0030f0 52.5px,#0043f4 55.5px,#006cfb 59.5px,#0094fe 64.5px,#00f4ff 76.5px,#00fef4 81.5px,#00f8fe 88.5px,#00e3fe 93.5px,#00bffe 96.5px,#0096fe 99.5px,#0088fc 101.5px,#0086fa 104.5px,#007ef9 105.5px,#0033f0 109.5px,#0021ec 111.5px,#0013e7 116.5px,#0016e5 130.5px,#0028e9 134.5px,#0032ec 135.5px,#0046ee 136.5px,#0082ed 138.5px,#01c6dd 140.5px,#02dace 141.5px,#08e6a1 144.5px,#22f26d 148.5px,#3bf036 151.5px,#81de23 155.5px,#abd219 158.5px,#c6bf0d 161.5px,#cd9203 164.5px,#eb3c02 171.5px,#ec3a02 172.5px,#d19202 182.5px,#c7ca08 186.5px,#a7e612 191.5px,#87f318 194.5px,#3bf122 199.5px,#20f026 201.5px,#04f35a 211.5px)"></div>
<div class="a" style="top:134px;background:linear-gradient(90deg,#0037f2 0.5px,#0024ed 37.5px,#0034f1 53.5px,#004ef6 57.5px,#009efe 69.5px,#00ebfd 79.5px,#00f2fb 82.5px,#00e4ff 89.5px,#00d5ff 93.5px,#00bfff 95.5px,#005df8 102.5px,#002eef 109.5px,#0017ea 116.5px,#0012e7 131.5px,#0020eb 135.5px,#0037f1 137.5px,#0073f6 140.5px,#008df2 142.5px,#02d0da 148.5px,#03dbc4 150.5px,#17e39b 154.5px,#38ed53 161.5px,#3ee43b 163.5px,#5cd530 166.5px,#99c526 171.5px,#9bc425 172.5px,#46e233 183.5px,#3ceb3c 185.5px,#32f257 189.5px,#04eb98 201.5px,#01e8bc 211.5px)"></div>
<div class="a" style="top:135px;background:linear-gradient(90deg,#003ff4 0.5px,#0027ee 37.5px,#0036f1 54.5px,#0078fc 69.5px,#00aafe 77.5px,#00c1fe 81.5px,#00b4fe 92.5px,#00a9fe 94.5px,#0063f9 100.5px,#0039f2 103.5px,#0028ee 106.5px,#0013e9 117.5px,#0013e9 132.5px,#0022ec 137.5px,#005ff5 146.5px,#007ef3 150.5px,#0198e9 154.5px,#04d6cb 162.5px,#14dbaf 167.5px,#26e098 171.5px,#25df99 173.5px,#04d8c4 185.5px,#03d6d2 189.5px,#00b1ec 204.5px,#00a5f1 211.5px)"></div>
<div class="a" style="top:136px;background:linear-gradient(90deg,#0043f5 0.5px,#0028ee 37.5px,#0034f1 55.5px,#005ef8 71.5px,#0083fc 81.5px,#007cfb 93.5px,#0052f6 99.5px,#0028ee 103.5px,#001beb 106.5px,#000fe7 118.5px,#0012e8 136.5px,#002bee 147.5px,#004ef3 155.5px,#0078f2 164.5px,#028fe7 172.5px,#0072f5 188.5px,#0057f5 210.5px,#0056f5 211.5px)"></div>
<div class="a" style="top:137px;background:linear-gradient(90deg,#0042f4 0.5px,#0028ee 38.5px,#0034f1 61.5px,#0053f6 82.5px,#004cf5 94.5px,#0027ee 101.5px,#0016ea 105.5px,#000de6 119.5px,#0012e8 145.5px,#0034ef 166.5px,#0040f1 172.5px,#002dee 188.5px,#0027ed 211.5px)"></div>
<div class="a" style="top:138px;background:linear-gradient(90deg,#003cf3 0.5px,#0026ed 40.5px,#002fef 71.5px,#0033f0 85.5px,#002cef 95.5px,#0012e9 105.5px,#000de6 128.5px,#0015e9 164.5px,#0019ea 175.5px,#0014e9 207.5px,#0014e9 211.5px)"></div>
<div class="a" style="top:139px;background:linear-gradient(90deg,#0031f0 0.5px,#0022ec 44.5px,#0022ec 86.5px,#0018ea 98.5px,#000ee7 111.5px,#0014e9 138.5px,#000ee6 188.5px,#000ee7 211.5px)"></div>
<div class="a" style="top:140px;background:linear-gradient(90deg,#0024ed 0.5px,#001deb 65.5px,#0016ea 95.5px,#000ee7 116.5px,#0018ea 127.5px,#0030ef 141.5px,#000fe7 164.5px,#000de6 211.5px)"></div>
<div class="a" style="top:141px;background:linear-gradient(90deg,#0018ea 0.5px,#0017ea 84.5px,#0010e8 113.5px,#001beb 121.5px,#0039f1 128.5px,#006af5 138.5px,#0076f6 141.5px,#0052f3 151.5px,#002bee 158.5px,#0013e9 165.5px,#000ee7 177.5px,#000ee7 202.5px,#000ee7 211.5px)"></div>
<div class="a" style="top:142px;background:linear-gradient(90deg,#0010e7 0.5px,#0017ea 80.5px,#0011e8 111.5px,#0026ed 118.5px,#0049f4 123.5px,#0080f6 128.5px,#01afe5 135.5px,#03d8d3 140.5px,#03d7d4 142.5px,#01aee4 150.5px,#0079f7 156.5px,#0038f1 162.5px,#001aeb 167.5px,#000fe7 172.5px,#001aeb 193.5px,#000ee7 208.5px,#000ee7 211.5px)"></div>
<div class="a" style="top:143px;background:linear-gradient(90deg,#000de5 0.5px,#0015e9 84.5px,#0011e8 109.5px,#001eec 112.5px,#004cf5 118.5px,#0092f7 123.5px,#00d0e3 127.5px,#01dbd9 128.5px,#09e5a0 133.5px,#2ef35b 140.5px,#30f358 141.5px,#18e98a 150.5px,#05e1ae 153.5px,#00d7de 156.5px,#0097f6 160.5px,#0054f6 164.5px,#0026ee 168.5px,#0013e9 171.5px,#0014e9 177.5px,#002eef 190.5px,#0023ed 197.5px,#0011e8 206.5px,#000fe8 211.5px)"></div>
<div class="a" style="top:144px;background:linear-gradient(90deg,#000ce4 0.5px,#0014e9 86.5px,#0011e8 108.5px,#001aeb 110.5px,#0032f0 112.5px,#0078fa 117.5px,#00b5f7 120.5px,#00dcea 122.5px,#00e8c9 124.5px,#04f288 127.5px,#2cf12f 132.5px,#83f01b 137.5px,#ace210 140.5px,#afe00f 141.5px,#90eb19 146.5px,#71f320 150.5px,#5ff324 151.5px,#2df134 153.5px,#13f464 155.5px,#03f190 157.5px,#00e5d6 160.5px,#00dde7 161.5px,#00b3f7 163.5px,#0084fb 165.5px,#0044f4 168.5px,#0024ed 170.5px,#0016e9 172.5px,#001beb 178.5px,#003df3 189.5px,#0038f2 194.5px,#0017ea 204.5px,#0010e8 211.5px)"></div>
<div class="a" style="top:145px;background:linear-gradient(90deg,#000ce4 0.5px,#0015e9 88.5px,#0013e9 108.5px,#0024ed 110.5px,#004bf5 112.5px,#0091fd 115.5px,#00d1fb 118.5px,#00e5f2 119.5px,#00f5ce 121.5px,#00f99c 123.5px,#08f13d 126.5px,#14ef25 127.5px,#43f013 129.5px,#9ef602 133.5px,#d7f201 136.5px,#e2e501 137.5px,#f2aa01 140.5px,#f3a501 141.5px,#edbd01 144.5px,#dfee01 149.5px,#d7f301 150.5px,#c6f502 151.5px,#89f505 153.5px,#27f01d 156.5px,#10f02e 157.5px,#05f24e 158.5px,#00f895 160.5px,#00f5cb 162.5px,#00e3f2 164.5px,#00ccfb 165.5px,#0089fc 167.5px,#004cf5 169.5px,#0035f1 170.5px,#0025ed 171.5px,#0018ea 173.5px,#0023ed 180.5px,#003ef3 189.5px,#0039f2 194.5px,#0016ea 205.5px,#0011e8 211.5px)"></div>
<div class="a" style="top:146px;background:linear-gradient(90deg,#000ce4 0.5px,#0015e9 67.5px,#0018ea 92.5px,#0016ea 108.5px,#001deb 109.5px,#002cef 110.5px,#005ef8 112.5px,#009dfe 114.5px,#00e1fd 117.5px,#00f2f6 118.5px,#00fbe5 119.5px,#00fb9a 122.5px,#05f13e 125.5px,#0cef21 126.5px,#1eee12 127.5px,#66f103 130.5px,#acf601 133.5px,#def101 136.5px,#ebcf01 138.5px,#f1ab01 140.5px,#f2a601 141.5px,#edbc01 144.5px,#e3ec01 149.5px,#ddf301 150.5px,#cdf501 151.5px,#b5f601 152.5px,#52f007 155.5px,#17ee1b 157.5px,#08f035 158.5px,#01f77b 160.5px,#00fdcd 163.5px,#00fbe4 164.5px,#00f1f5 165.5px,#00d6fd 166.5px,#0084fd 168.5px,#0061f9 169.5px,#0044f4 170.5px,#002ff0 171.5px,#0022ed 172.5px,#001ceb 174.5px,#002eef 186.5px,#0031f0 192.5px,#0014e9 207.5px,#0012e9 211.5px)"></div>
<div class="a" style="top:147px;background:linear-gradient(90deg,#000ce4 0.5px,#0013e9 60.5px,#0024ed 85.5px,#0019ea 108.5px,#0020ec 109.5px,#002eef 110.5px,#0060f9 112.5px,#0099fe 114.5px,#00d1fe 117.5px,#00e3fa 118.5px,#00f4dd 120.5px,#00f9a3 123.5px,#05f460 126.5px,#1df030 129.5px,#39f224 131.5px,#83f319 136.5px,#aae210 140.5px,#aae211 142.5px,#7df41c 150.5px,#70f31e 151.5px,#2ff129 154.5px,#1ef135 155.5px,#09f35f 157.5px,#00f9a8 160.5px,#00f0ed 164.5px,#00e6f9 165.5px,#00cdfe 166.5px,#0065f9 169.5px,#004af5 170.5px,#0035f1 171.5px,#0028ee 172.5px,#0021ec 174.5px,#0027ee 192.5px,#0014e9 211.5px)"></div>
<div class="a" style="top:148px;background:linear-gradient(90deg,#000ce5 0.5px,#0012e9 56.5px,#002aee 73.5px,#0037f1 85.5px,#002bef 97.5px,#001deb 108.5px,#002cef 110.5px,#0076fb 114.5px,#00a6fd 118.5px,#00deec 122.5px,#06ea99 130.5px,#2ef45c 140.5px,#2df45e 142.5px,#18ee84 151.5px,#03e9a8 155.5px,#00e2e8 160.5px,#00c7f6 163.5px,#00aefd 165.5px,#005bf8 169.5px,#0039f2 171.5px,#002bef 173.5px,#0029ee 196.5px,#0018ea 211.5px)"></div>
<div class="a" style="top:149px;background:linear-gradient(90deg,#000de6 0.5px,#0011e8 53.5px,#0023ed 65.5px,#004ff6 82.5px,#004ef6 90.5px,#0022ec 108.5px,#0028ee 110.5px,#004ef6 114.5px,#0064f8 118.5px,#008ff9 123.5px,#02dbd6 139.5px,#03dcd5 142.5px,#01c3e3 151.5px,#008efb 161.5px,#0063f9 167.5px,#003ef3 171.5px,#0037f1 174.5px,#0043f3 194.5px,#0032f0 204.5px,#0023ed 211.5px)"></div>
<div class="a" style="top:150px;background:linear-gradient(90deg,#000de6 0.5px,#0011e8 52.5px,#0023ed 63.5px,#0060f8 81.5px,#0063f9 88.5px,#004df6 96.5px,#0025ed 108.5px,#002bef 112.5px,#004ef5 124.5px,#007ff7 140.5px,#0070f8 152.5px,#005bf8 162.5px,#0048f5 172.5px,#005df8 182.5px,#007cfa 192.5px,#007af9 197.5px,#0060f7 203.5px,#0036f1 211.5px)"></div>
<div class="a" style="top:151px;background:linear-gradient(90deg,#000de6 0.5px,#0012e9 52.5px,#0023ed 63.5px,#0060f9 81.5px,#0065f9 87.5px,#0052f7 95.5px,#0025ed 108.5px,#0023ed 118.5px,#0042f3 144.5px,#0057f7 170.5px,#0069fa 176.5px,#0095fd 183.5px,#00b3f9 187.5px,#00cbf1 192.5px,#00ceef 196.5px,#00bef3 200.5px,#0093fc 205.5px,#005cf8 210.5px,#0055f7 211.5px)"></div>
<div class="a" style="top:152px;background:linear-gradient(90deg,#000de5 0.5px,#0014e9 54.5px,#0026ed 66.5px,#0052f7 81.5px,#0056f7 88.5px,#0042f4 97.5px,#001eec 109.5px,#001aea 122.5px,#002bef 142.5px,#0053f7 162.5px,#0071fb 172.5px,#0092fe 177.5px,#00dffa 184.5px,#00ecef 186.5px,#00f5c2 192.5px,#00f5b9 195.5px,#00f4bf 198.5px,#00eddc 202.5px,#00e7f0 204.5px,#00cffa 206.5px,#0086fd 210.5px,#0079fc 211.5px)"></div>
<div class="a" style="top:153px;background:linear-gradient(90deg,#000fe7 0.5px,#0016ea 58.5px,#0025ed 70.5px,#0044f4 78.5px,#004ff6 86.5px,#0048f5 94.5px,#002cef 103.5px,#0017ea 111.5px,#0016ea 128.5px,#0027ee 143.5px,#005ff9 163.5px,#0080fd 171.5px,#00a1ff 175.5px,#00f3fb 182.5px,#00feda 186.5px,#00fa92 192.5px,#00f882 195.5px,#00f98a 198.5px,#00fba8 201.5px,#00fbe3 205.5px,#00edfa 207.5px,#00c0ff 209.5px,#00a8ff 210.5px,#0095fe 211.5px)"></div>
<div class="a" style="top:154px;background:linear-gradient(90deg,#001beb 0.5px,#0014e9 49.5px,#001aea 69.5px,#0028ee 72.5px,#004df6 76.5px,#006bf8 84.5px,#006bf8 93.5px,#004bf5 101.5px,#001fec 108.5px,#0012e9 112.5px,#0017ea 132.5px,#002def 145.5px,#006cfa 164.5px,#008afe 170.5px,#00bbff 175.5px,#00fafe 181.5px,#00ffe3 185.5px,#00fca9 190.5px,#00f98b 193.5px,#00f882 196.5px,#00f991 199.5px,#00fdb6 202.5px,#00fbe2 205.5px,#00eefa 207.5px,#00c1ff 209.5px,#00a9ff 210.5px,#0096fe 211.5px)"></div>
<div class="a" style="top:155px;background:linear-gradient(90deg,#003cf2 0.5px,#0038f1 9.5px,#001eeb 25.5px,#0017ea 41.5px,#0015e9 69.5px,#001eec 71.5px,#003af2 73.5px,#006ffa 76.5px,#009bfc 80.5px,#00b0f3 84.5px,#00b1f2 93.5px,#0092f9 100.5px,#007bf9 102.5px,#0046f4 106.5px,#001aeb 110.5px,#0010e8 113.5px,#0018ea 133.5px,#002eef 145.5px,#005ff9 159.5px,#0089fe 168.5px,#00aeff 172.5px,#00edff 178.5px,#00fffc 182.5px,#00fce7 187.5px,#00fabe 193.5px,#00f8b8 196.5px,#00f3c9 200.5px,#00e8ee 204.5px,#00d2fa 206.5px,#0088fd 210.5px,#007bfc 211.5px)"></div>
<div class="a" style="top:156px;background:linear-gradient(90deg,#0078fa 0.5px,#0078fa 6.5px,#0060f7 12.5px,#0037f1 21.5px,#001beb 34.5px,#0017ea 57.5px,#0010e8 69.5px,#0018ea 71.5px,#0024ed 72.5px,#0038f1 73.5px,#008ffd 76.5px,#00c6fc 78.5px,#00d9f6 79.5px,#00e4ee 80.5px,#00ebcd 83.5px,#00ecc3 86.5px,#00ecbf 93.5px,#00e3e0 100.5px,#00dde9 101.5px,#0090fb 105.5px,#0027ee 110.5px,#0012e8 112.5px,#000fe8 121.5px,#001eec 138.5px,#003df3 150.5px,#0074fb 162.5px,#009aff 168.5px,#00f2ff 177.5px,#00fdfc 180.5px,#00fbfd 184.5px,#00e4f5 190.5px,#00d6ef 197.5px,#00b6f7 202.5px,#008dfc 206.5px,#005ff8 210.5px,#0058f7 211.5px)"></div>
<div class="a" style="top:157px;background:linear-gradient(90deg,#00c1fe 0.5px,#00c2fd 6.5px,#00b5fe 9.5px,#0063f9 18.5px,#003df3 25.5px,#0021ec 34.5px,#0023ed 50.5px,#000fe7 69.5px,#0017ea 71.5px,#0024ed 72.5px,#003cf2 73.5px,#005ff8 74.5px,#00b2fc 76.5px,#00d6f7 77.5px,#00efec 78.5px,#00f9d9 79.5px,#00f999 82.5px,#01f887 83.5px,#01f675 85.5px,#02f461 92.5px,#02f571 95.5px,#01f895 100.5px,#00efd1 103.5px,#00dcf2 105.5px,#00c5f9 106.5px,#00a7fc 107.5px,#005af7 109.5px,#003af2 110.5px,#0023ed 111.5px,#0015e9 112.5px,#000ee7 114.5px,#0016ea 133.5px,#002cef 145.5px,#004ff6 154.5px,#0084fd 162.5px,#00d5ff 172.5px,#00fdfd 178.5px,#00fdfb 182.5px,#00f3ff 184.5px,#00affe 190.5px,#0092fc 195.5px,#0069f9 203.5px,#003af2 211.5px)"></div>
<div class="a" style="top:158px;background:linear-gradient(90deg,#00f1fe 0.5px,#00f2fd 7.5px,#00e2ff 10.5px,#00a4ff 15.5px,#007efd 18.5px,#0050f7 24.5px,#002def 32.5px,#0027ee 36.5px,#0033f0 46.5px,#001eec 59.5px,#0012e9 68.5px,#0018ea 70.5px,#0024ed 71.5px,#003bf2 72.5px,#005ef7 73.5px,#00c2fc 75.5px,#00e5f5 76.5px,#00f5e6 77.5px,#00fcd2 78.5px,#02f45c 83.5px,#03f34c 84.5px,#06f02e 89.5px,#07ee21 92.5px,#06ef28 94.5px,#03f353 100.5px,#02f568 101.5px,#00fcbe 104.5px,#00f3ea 106.5px,#00dff9 107.5px,#00b0fd 108.5px,#0079fb 109.5px,#004df5 110.5px,#002cef 111.5px,#0018ea 112.5px,#0010e7 113.5px,#0013e9 131.5px,#0027ee 144.5px,#0043f4 151.5px,#006efb 157.5px,#00c8fe 165.5px,#00e2fc 169.5px,#00f8fe 179.5px,#00f1fe 182.5px,#00deff 184.5px,#008dfe 189.5px,#0067f9 193.5px,#0046f4 201.5px,#0027ee 211.5px)"></div>
<div class="a" style="top:159px;background:linear-gradient(90deg,#00fafc 0.5px,#00f8fc 8.5px,#00eeff 10.5px,#00ccff 13.5px,#0086fe 18.5px,#0055f7 24.5px,#0034f1 31.5px,#002eef 35.5px,#0041f4 44.5px,#003af2 51.5px,#001aeb 64.5px,#0016ea 69.5px,#001deb 70.5px,#002cef 71.5px,#0046f4 72.5px,#006bf9 73.5px,#00cdfd 75.5px,#00e8f5 76.5px,#00f8d8 78.5px,#00fbb5 80.5px,#01f677 83.5px,#02f460 85.5px,#06f033 92.5px,#06f035 94.5px,#03f354 100.5px,#02f566 101.5px,#00fecf 105.5px,#00fce5 106.5px,#00ecf6 107.5px,#00befd 108.5px,#0084fc 109.5px,#0054f6 110.5px,#0030f0 111.5px,#0019ea 112.5px,#0010e7 113.5px,#0012e9 131.5px,#0023ed 143.5px,#003bf3 149.5px,#0063f9 154.5px,#0089fd 157.5px,#00d7fc 162.5px,#00edf8 164.5px,#00f8f0 168.5px,#00f7fe 173.5px,#00e2ff 177.5px,#00d4ff 181.5px,#00b5ff 184.5px,#006dfa 189.5px,#004bf5 193.5px,#0031f0 200.5px,#001deb 211.5px)"></div>
<div class="a" style="top:160px;background:linear-gradient(90deg,#00e1fe 0.5px,#00dffd 6.5px,#00cbff 10.5px,#0094fe 15.5px,#006cfa 19.5px,#0046f5 25.5px,#0033f0 31.5px,#0035f1 36.5px,#004bf6 44.5px,#0045f5 50.5px,#001deb 63.5px,#0017ea 69.5px,#001beb 70.5px,#0026ed 71.5px,#0039f1 72.5px,#0053f6 73.5px,#0097fc 75.5px,#00b0fb 76.5px,#00dfef 79.5px,#00f3b4 84.5px,#01f788 92.5px,#01f78c 96.5px,#01f897 100.5px,#00f8b4 102.5px,#00eee6 105.5px,#00e6f4 106.5px,#00cefb 107.5px,#0073fa 109.5px,#004af5 110.5px,#002bef 111.5px,#0018ea 112.5px,#000fe7 113.5px,#0012e9 133.5px,#0022ec 143.5px,#0039f2 148.5px,#005df8 152.5px,#0087fd 155.5px,#00d8fe 159.5px,#00e8fc 160.5px,#00f7f1 162.5px,#00fee1 166.5px,#00feea 169.5px,#00f7fb 172.5px,#00c0ff 177.5px,#008efd 183.5px,#004bf5 190.5px,#0031f0 195.5px,#001deb 207.5px,#0019ea 211.5px)"></div>
<div class="a" style="top:161px;background:linear-gradient(90deg,#009dfd 0.5px,#0099fd 6.5px,#007bfa 12.5px,#004df5 19.5px,#0033f0 26.5px,#002def 32.5px,#0038f2 37.5px,#004bf6 44.5px,#0046f5 50.5px,#001deb 63.5px,#0018ea 70.5px,#0027ee 72.5px,#006af8 76.5px,#0099f9 80.5px,#00c6ee 84.5px,#00e1e4 90.5px,#00e3dc 94.5px,#00e2e2 100.5px,#00d8ec 102.5px,#00a3fc 106.5px,#008dfc 107.5px,#0037f1 110.5px,#0021ec 111.5px,#0014e9 112.5px,#000ee6 114.5px,#0014e9 136.5px,#0022ec 143.5px,#0037f1 147.5px,#005ef8 151.5px,#0089fe 154.5px,#00f1fe 159.5px,#00fdf1 161.5px,#00fee3 164.5px,#00fae7 167.5px,#00eff7 170.5px,#00d7fe 172.5px,#009cfe 176.5px,#0078fb 180.5px,#003df3 189.5px,#0026ed 196.5px,#0017ea 211.5px)"></div>
<div class="a" style="top:162px;background:linear-gradient(90deg,#0053f6 0.5px,#004cf5 8.5px,#0026ed 22.5px,#0023ed 30.5px,#0033f0 37.5px,#0043f4 44.5px,#003cf3 51.5px,#001beb 63.5px,#0017ea 71.5px,#002aee 74.5px,#0065f7 82.5px,#0079f9 85.5px,#0091f8 92.5px,#008ff9 100.5px,#007cf9 103.5px,#0052f6 107.5px,#0023ed 110.5px,#0011e8 112.5px,#0011e8 132.5px,#001ceb 141.5px,#0032f0 146.5px,#0056f7 150.5px,#008cfe 154.5px,#00d6ff 158.5px,#00ecfc 160.5px,#00edf4 164.5px,#00e5f7 166.5px,#00bafd 170.5px,#0081fc 174.5px,#005df8 178.5px,#0037f1 186.5px,#0022ec 195.5px,#0016ea 211.5px)"></div>
<div class="a" style="top:163px;background:linear-gradient(90deg,#0023ec 0.5px,#001bea 15.5px,#0016ea 27.5px,#0027ee 35.5px,#003ef3 43.5px,#003af2 50.5px,#0018ea 63.5px,#0016e9 72.5px,#0042f3 87.5px,#004df5 94.5px,#0048f4 101.5px,#002def 107.5px,#0012e9 111.5px,#000ee7 119.5px,#0016ea 138.5px,#0027ee 144.5px,#0048f5 149.5px,#0093fe 156.5px,#00b1fe 159.5px,#00b8fd 161.5px,#00affc 164.5px,#008dfc 168.5px,#0054f6 174.5px,#0036f1 180.5px,#0020ec 192.5px,#0016ea 211.5px)"></div>
<div class="a" style="top:164px;background:linear-gradient(90deg,#0010e6 0.5px,#0011e8 28.5px,#0023ed 35.5px,#003ff3 43.5px,#003ff3 48.5px,#0017ea 62.5px,#0015e9 73.5px,#0029ee 94.5px,#0022ed 103.5px,#000fe8 113.5px,#0015e9 137.5px,#0024ed 144.5px,#0044f4 150.5px,#006ffa 157.5px,#0076fa 161.5px,#0067f9 165.5px,#0035f1 174.5px,#0023ed 182.5px,#0016ea 208.5px,#0015e9 211.5px)"></div>
<div class="a" style="top:165px;background:linear-gradient(90deg,#000fe6 0.5px,#0011e8 30.5px,#002bef 38.5px,#003df3 44.5px,#003af2 49.5px,#0018ea 60.5px,#0013e9 72.5px,#0019ea 100.5px,#0010e8 118.5px,#0017ea 139.5px,#002cef 148.5px,#0048f5 156.5px,#0048f5 161.5px,#0024ed 174.5px,#0018ea 195.5px,#0015e9 211.5px)"></div>
<div class="a" style="top:166px;background:linear-gradient(90deg,#0020eb 0.5px,#0012e9 31.5px,#0023ed 39.5px,#002eef 46.5px,#0013e9 62.5px,#0014e9 135.5px,#0022ed 148.5px,#0037f1 158.5px,#001deb 172.5px,#0014e9 211.5px)"></div>
<div class="a" style="top:167px;background:linear-gradient(90deg,#004bf5 0.5px,#0033f0 17.5px,#0015e9 33.5px,#0018ea 39.5px,#001ceb 49.5px,#0012e9 66.5px,#0017ea 139.5px,#0020ec 150.5px,#003af2 158.5px,#0031f0 162.5px,#001beb 169.5px,#0014e9 211.5px)"></div>
<div class="a" style="top:168px;background:linear-gradient(90deg,#0083fc 0.5px,#0071fa 12.5px,#0036f1 26.5px,#0014e9 36.5px,#0018ea 131.5px,#001ceb 149.5px,#002ff0 153.5px,#004af5 157.5px,#004bf6 160.5px,#001fec 168.5px,#0015e9 177.5px,#0014e9 211.5px)"></div>
<div class="a" style="top:169px;background:linear-gradient(90deg,#00b6ff 0.5px,#00acfe 11.5px,#0095fe 16.5px,#002eef 31.5px,#0017ea 36.5px,#0016ea 108.5px,#0020ec 139.5px,#001ceb 148.5px,#0029ee 151.5px,#0063f9 157.5px,#0068fa 159.5px,#0057f7 162.5px,#002aef 168.5px,#0018ea 174.5px,#0016ea 200.5px,#0016ea 211.5px)"></div>
<div class="a" style="top:170px;background:linear-gradient(90deg,#00c6ff 0.5px,#00c5ff 11.5px,#00b4ff 15.5px,#0051f7 27.5px,#001ceb 35.5px,#0015e9 42.5px,#0016ea 104.5px,#0029ee 116.5px,#0025ed 126.5px,#0031f0 136.5px,#0021ec 148.5px,#002eef 151.5px,#0074fc 157.5px,#007afc 159.5px,#0062f9 163.5px,#0023ed 172.5px,#0016ea 177.5px,#0018ea 198.5px,#001beb 209.5px,#001aea 211.5px)"></div>
<div class="a" style="top:171px;background:linear-gradient(90deg,#00a4fd 0.5px,#00abfe 10.5px,#0099fd 15.5px,#0039f2 29.5px,#0019ea 36.5px,#0018ea 49.5px,#001beb 60.5px,#0015e9 79.5px,#0018ea 103.5px,#002bef 109.5px,#0040f3 114.5px,#003ff3 118.5px,#0031f0 124.5px,#003ef3 130.5px,#0049f5 136.5px,#0039f2 142.5px,#0027ee 148.5px,#0031f0 151.5px,#0053f7 154.5px,#0076fc 157.5px,#007bfc 159.5px,#005ef8 166.5px,#0024ed 173.5px,#0016ea 178.5px,#0017ea 195.5px,#0027ed 206.5px,#0021ec 211.5px)"></div>
<div class="a" style="top:172px;background:linear-gradient(90deg,#0061f7 0.5px,#0067f8 10.5px,#0055f6 17.5px,#0021ec 31.5px,#0016ea 38.5px,#001ceb 49.5px,#0024ed 58.5px,#0015e9 71.5px,#0013e9 93.5px,#0019ea 103.5px,#0030f0 108.5px,#0051f7 113.5px,#0058f8 116.5px,#003ff3 123.5px,#0041f4 126.5px,#0066fa 134.5px,#0063f9 138.5px,#002fef 148.5px,#0031f0 151.5px,#004af5 154.5px,#0068fa 157.5px,#006efb 160.5px,#0061f9 165.5px,#0043f4 169.5px,#0024ed 173.5px,#0016ea 178.5px,#0017ea 193.5px,#002eef 201.5px,#0037f1 206.5px,#002bee 211.5px)"></div>
<div class="a" style="top:173px;background:linear-gradient(90deg,#002eef 0.5px,#002fef 13.5px,#0016ea 35.5px,#001aeb 46.5px,#0032f0 56.5px,#0027ee 62.5px,#0018ea 69.5px,#001fec 83.5px,#0013e9 96.5px,#0018ea 103.5px,#002fef 108.5px,#0056f7 114.5px,#0056f7 117.5px,#0045f5 122.5px,#0048f5 125.5px,#0080fd 133.5px,#0086fd 136.5px,#007afc 139.5px,#0035f1 148.5px,#002fef 151.5px,#003cf2 154.5px,#0054f6 158.5px,#0053f6 162.5px,#0040f3 167.5px,#001fec 173.5px,#0014e9 180.5px,#0019ea 193.5px,#002ff0 199.5px,#0047f5 204.5px,#0047f5 207.5px,#0036f1 211.5px)"></div>
<div class="a" style="top:174px;background:linear-gradient(90deg,#0017ea 0.5px,#0017ea 43.5px,#0027ee 49.5px,#0040f3 55.5px,#003df3 59.5px,#001deb 67.5px,#001eeb 72.5px,#0030f0 80.5px,#0025ed 86.5px,#0013e9 94.5px,#0015e9 103.5px,#0029ee 109.5px,#0041f3 115.5px,#003ff3 122.5px,#004cf6 125.5px,#0094ff 133.5px,#009dff 136.5px,#008cfe 139.5px,#0039f2 148.5px,#002cef 151.5px,#0031f0 155.5px,#003af2 160.5px,#0016ea 175.5px,#0017ea 191.5px,#0024ed 196.5px,#0052f7 204.5px,#0052f7 207.5px,#003ef3 211.5px)"></div>
<div class="a" style="top:175px;background:linear-gradient(90deg,#000fe7 0.5px,#0017ea 43.5px,#0025ed 48.5px,#0049f5 55.5px,#0049f5 58.5px,#0020ec 67.5px,#0020ec 71.5px,#003ef3 80.5px,#0036f1 84.5px,#0017ea 92.5px,#0011e8 102.5px,#0020ec 111.5px,#0035f1 122.5px,#0051f7 126.5px,#0094ff 133.5px,#009dff 136.5px,#008cfe 139.5px,#0038f2 148.5px,#0026ed 152.5px,#0021ec 163.5px,#0014e9 176.5px,#0018ea 192.5px,#0029ee 197.5px,#0052f7 204.5px,#0052f7 207.5px,#003ef3 211.5px)"></div>
<div class="a" style="top:176px;background:linear-gradient(90deg,#000de6 0.5px,#0013e9 35.5px,#0017ea 44.5px,#002aee 49.5px,#0049f5 55.5px,#0049f5 58.5px,#001fec 67.5px,#001fec 71.5px,#003ef3 80.5px,#0036f1 84.5px,#0017ea 92.5px,#0010e8 103.5px,#001ceb 118.5px,#0030f0 123.5px,#0080fd 133.5px,#0086fd 136.5px,#007afc 139.5px,#0032f0 148.5px,#001fec 153.5px,#0014e9 177.5px,#0017ea 192.5px,#0025ed 197.5px,#0047f5 204.5px,#0047f5 207.5px,#0036f1 211.5px)"></div>
<div class="a" style="top:177px;background:linear-gradient(90deg,#000de6 0.5px,#0013e9 16.5px,#001eec 27.5px,#0012e9 41.5px,#001ceb 47.5px,#003ff3 55.5px,#003cf3 59.5px,#001ceb 67.5px,#001deb 72.5px,#0030f0 80.5px,#0024ed 86.5px,#0012e9 94.5px,#0010e8 115.5px,#001deb 121.5px,#0044f4 128.5px,#0061f9 133.5px,#0066fa 137.5px,#004ef6 142.5px,#0026ed 149.5px,#0018ea 156.5px,#0015e9 191.5px,#0023ed 198.5px,#0037f1 205.5px,#002eef 210.5px,#002bee 211.5px)"></div>
<div class="a" style="top:178px;background:linear-gradient(90deg,#000de6 0.5px,#0013e9 13.5px,#0032f0 24.5px,#002eef 29.5px,#0013e9 39.5px,#0015e9 46.5px,#0030f0 56.5px,#0025ed 62.5px,#0017ea 69.5px,#001fec 82.5px,#000fe8 96.5px,#0012e8 119.5px,#002bee 128.5px,#0046f4 135.5px,#0045f4 139.5px,#001ceb 150.5px,#0014e9 163.5px,#0017ea 195.5px,#0027ed 206.5px,#0021ec 211.5px)"></div>
<div class="a" style="top:179px;background:linear-gradient(90deg,#000de6 0.5px,#0012e9 11.5px,#002cef 18.5px,#0044f4 24.5px,#0042f4 28.5px,#0015ea 39.5px,#0011e8 46.5px,#0021ec 57.5px,#0014e9 70.5px,#0013e9 87.5px,#000fe7 119.5px,#0016e8 130.5px,#0034f1 137.5px,#002def 142.5px,#0017ea 151.5px,#0015e9 195.5px,#001ceb 208.5px,#001aea 211.5px)"></div>
<div class="a" style="top:180px;background:linear-gradient(90deg,#000de6 0.5px,#0011e9 11.5px,#002cef 18.5px,#0044f4 24.5px,#0042f4 28.5px,#0015ea 39.5px,#0010e8 47.5px,#0017ea 60.5px,#000be3 126.5px,#000ee4 130.5px,#0023ed 134.5px,#0033f1 137.5px,#002ef0 141.5px,#0018ea 149.5px,#0014e9 195.5px,#0016ea 211.5px)"></div>
<div class="a" style="top:181px;background:linear-gradient(90deg,#000de6 0.5px,#0013e9 13.5px,#0031f0 24.5px,#002def 29.5px,#0012e9 39.5px,#0012e8 53.5px,#0012e9 93.5px,#0010e7 124.5px,#0019e9 129.5px,#0049f4 136.5px,#0046f4 139.5px,#001fec 146.5px,#0015e9 152.5px,#0015e9 211.5px)"></div>
<div class="a" style="top:182px;background:linear-gradient(90deg,#000de6 0.5px,#0012e9 16.5px,#001deb 26.5px,#000fe8 42.5px,#0015e9 95.5px,#000ee7 118.5px,#0019ea 124.5px,#0033f0 128.5px,#0072fa 134.5px,#007afb 136.5px,#0072fa 138.5px,#002def 145.5px,#001aea 149.5px,#0014e9 161.5px,#0014e9 211.5px)"></div>
<div class="a" style="top:183px;background:linear-gradient(90deg,#000ee7 0.5px,#000fe8 36.5px,#001aeb 98.5px,#000ee7 114.5px,#0014e9 121.5px,#0022ed 124.5px,#0041f4 127.5px,#0083fc 131.5px,#00a7fe 133.5px,#00b3fe 134.5px,#00bafe 136.5px,#00b5fe 137.5px,#0099fe 139.5px,#0053f7 143.5px,#002ff0 146.5px,#001ceb 149.5px,#0014e9 156.5px,#0014e9 211.5px)"></div>
<div class="a" style="top:184px;background:linear-gradient(90deg,#000ee7 0.5px,#0015e9 61.5px,#001deb 86.5px,#0027ee 95.5px,#0010e8 111.5px,#0012e9 119.5px,#0022ec 123.5px,#0042f4 126.5px,#007bfc 129.5px,#00cafe 132.5px,#00defd 133.5px,#00eafa 134.5px,#00eff8 136.5px,#00ebfa 137.5px,#00dffd 138.5px,#00cbfe 139.5px,#007cfc 142.5px,#0045f4 145.5px,#0025ed 148.5px,#0017ea 152.5px,#0015e9 211.5px)"></div>
<div class="a" style="top:185px;background:linear-gradient(90deg,#000fe8 0.5px,#0015e9 58.5px,#001deb 83.5px,#0038f1 94.5px,#0031f0 99.5px,#0017ea 107.5px,#0011e8 117.5px,#001eec 122.5px,#003bf3 125.5px,#005cf8 127.5px,#008bfe 129.5px,#00cdff 131.5px,#00e9fd 132.5px,#00f8f6 133.5px,#00feea 135.5px,#00fdef 137.5px,#00f8f6 138.5px,#00eafd 139.5px,#00acff 141.5px,#008cfe 142.5px,#005ef9 144.5px,#003df3 146.5px,#0022ec 149.5px,#0016ea 154.5px,#0019ea 183.5px,#0015e9 211.5px)"></div>
<div class="a" style="top:186px;background:linear-gradient(90deg,#0010e8 0.5px,#0016ea 57.5px,#0020ec 82.5px,#0038f1 88.5px,#004df6 93.5px,#004df6 97.5px,#001ceb 107.5px,#0012e9 115.5px,#001beb 121.5px,#0030f0 124.5px,#004bf6 126.5px,#0073fb 128.5px,#008cfe 129.5px,#00cdff 131.5px,#00eafd 132.5px,#00f8f6 133.5px,#00feea 135.5px,#00fdef 137.5px,#00f8f6 138.5px,#00eafd 139.5px,#00acff 141.5px,#008dfe 142.5px,#005ef9 144.5px,#003df3 146.5px,#0022ec 149.5px,#0017ea 153.5px,#001eeb 168.5px,#0021ec 180.5px,#0015e9 200.5px,#0015e9 211.5px)"></div>
<div class="a" style="top:187px;background:linear-gradient(90deg,#0012e9 0.5px,#0017ea 53.5px,#0020ec 80.5px,#0032f0 85.5px,#0062f9 92.5px,#0069fa 95.5px,#0061f9 98.5px,#0026ed 106.5px,#0016ea 111.5px,#0016ea 119.5px,#0025ed 123.5px,#0045f4 126.5px,#007dfc 129.5px,#00ccfe 132.5px,#00dffd 133.5px,#00ebfa 134.5px,#00f0f7 136.5px,#00ebfa 137.5px,#00dffd 138.5px,#00ccfe 139.5px,#007dfc 142.5px,#0046f4 145.5px,#0026ed 148.5px,#0018ea 152.5px,#001aeb 161.5px,#002def 175.5px,#0020ec 186.5px,#0015e9 199.5px,#0015e9 211.5px)"></div>
<div class="a" style="top:188px;background:linear-gradient(90deg,#0013e9 0.5px,#0018ea 53.5px,#0021ec 79.5px,#002eef 83.5px,#004df6 87.5px,#0070fb 91.5px,#007cfd 94.5px,#0079fc 97.5px,#0067fa 100.5px,#002def 106.5px,#001aeb 110.5px,#0015e9 118.5px,#0021ec 123.5px,#003af2 126.5px,#0064f9 129.5px,#00aafe 133.5px,#00b6fe 134.5px,#00bcfd 136.5px,#00b6fe 137.5px,#009afe 139.5px,#0055f7 143.5px,#0030f0 146.5px,#001eeb 149.5px,#0017ea 155.5px,#0026ee 165.5px,#0039f2 174.5px,#0033f1 181.5px,#0019ea 193.5px,#0015e9 211.5px)"></div>
<div class="a" style="top:189px;background:linear-gradient(90deg,#0014e9 0.5px,#0018ea 54.5px,#0022ed 79.5px,#0033f0 83.5px,#0058f8 87.5px,#0077fc 90.5px,#0086fe 93.5px,#0086fe 97.5px,#0076fc 100.5px,#0033f1 106.5px,#001ceb 110.5px,#0014e9 117.5px,#001deb 123.5px,#0036f1 127.5px,#0075fb 133.5px,#007ffb 135.5px,#007bfb 137.5px,#0055f7 141.5px,#002eef 145.5px,#001beb 149.5px,#0018ea 156.5px,#002aee 165.5px,#0042f4 174.5px,#003cf3 180.5px,#001beb 192.5px,#0014e9 207.5px,#0014e9 211.5px)"></div>
<div class="a" style="top:190px;background:linear-gradient(90deg,#0014e9 0.5px,#0018ea 53.5px,#0023ed 79.5px,#0035f1 83.5px,#005ef9 87.5px,#007efd 90.5px,#008aff 93.5px,#0088ff 98.5px,#0073fc 101.5px,#0037f1 106.5px,#0021ec 109.5px,#0016ea 114.5px,#001aea 123.5px,#002eef 128.5px,#0050f6 134.5px,#0050f6 137.5px,#001fec 146.5px,#0016ea 152.5px,#001fec 161.5px,#0042f4 174.5px,#003cf3 180.5px,#001beb 192.5px,#0014e9 207.5px,#0014e9 211.5px)"></div>
<div class="a" style="top:191px;background:linear-gradient(90deg,#0014e9 0.5px,#0015e9 19.5px,#0019ea 57.5px,#0024ed 79.5px,#0035f1 83.5px,#005ef9 87.5px,#007efd 90.5px,#008aff 93.5px,#0088ff 98.5px,#0073fc 101.5px,#0037f1 106.5px,#0021ec 109.5px,#0017ea 115.5px,#0020ec 127.5px,#0034f0 135.5px,#0028ee 141.5px,#0016ea 148.5px,#0018ea 158.5px,#003af2 175.5px,#002def 183.5px,#0018ea 193.5px,#0013e9 211.5px)"></div>
<div class="a" style="top:192px;background:linear-gradient(90deg,#0015e9 0.5px,#0020ec 12.5px,#0013e9 26.5px,#0020ec 77.5px,#002def 82.5px,#004ef6 86.5px,#0077fc 90.5px,#0086fe 93.5px,#0086fe 97.5px,#0076fc 100.5px,#0033f1 106.5px,#0022ec 109.5px,#001deb 114.5px,#0021ec 125.5px,#001fec 139.5px,#0013e9 151.5px,#001ceb 164.5px,#002cef 175.5px,#0020ec 185.5px,#0013e9 198.5px,#0012e9 211.5px)"></div>
<div class="a" style="top:193px;background:linear-gradient(90deg,#0018ea 0.5px,#002ff0 10.5px,#0024ed 16.5px,#0014e9 24.5px,#0016ea 49.5px,#0024ed 80.5px,#0035f1 84.5px,#0071fb 91.5px,#007cfd 94.5px,#0079fc 97.5px,#0067fa 100.5px,#002eef 106.5px,#0022ec 109.5px,#0028ee 114.5px,#0035f1 120.5px,#002bef 126.5px,#001aeb 135.5px,#0012e9 154.5px,#001fec 178.5px,#0011e9 199.5px,#0011e9 211.5px)"></div>
<div class="a" style="top:194px;background:linear-gradient(90deg,#001aeb 0.5px,#003cf3 9.5px,#003af2 13.5px,#0017ea 22.5px,#0011e8 34.5px,#0024ed 81.5px,#003af2 86.5px,#0062f9 92.5px,#0069fa 95.5px,#0061f9 98.5px,#0028ee 106.5px,#0023ed 110.5px,#0045f5 119.5px,#0043f4 123.5px,#001aeb 133.5px,#0010e8 146.5px,#0015e9 181.5px,#0010e8 211.5px)"></div>
<div class="a" style="top:195px;background:linear-gradient(90deg,#0019ea 0.5px,#003cf3 9.5px,#0039f2 13.5px,#0016ea 22.5px,#000fe8 34.5px,#001aeb 57.5px,#0022ed 63.5px,#001deb 72.5px,#0025ed 83.5px,#004ef6 93.5px,#004df6 97.5px,#0022ec 106.5px,#0022ec 110.5px,#0045f4 119.5px,#0042f4 123.5px,#0018ea 133.5px,#000fe8 143.5px,#000fe8 211.5px)"></div>
<div class="a" style="top:196px;background:linear-gradient(90deg,#0014e9 0.5px,#002def 10.5px,#0025ed 15.5px,#0011e8 23.5px,#0012e9 46.5px,#0019ea 55.5px,#0037f1 61.5px,#0034f1 63.5px,#001eeb 68.5px,#0023ed 84.5px,#003af2 94.5px,#0031f0 99.5px,#001beb 106.5px,#001deb 111.5px,#0033f1 120.5px,#002bef 125.5px,#0013e9 133.5px,#000fe8 151.5px,#000fe8 211.5px)"></div>
<div class="a" style="top:197px;background:linear-gradient(90deg,#0010e8 0.5px,#001beb 12.5px,#000ee7 26.5px,#0015e9 53.5px,#0022ed 56.5px,#0055f7 60.5px,#005df8 61.5px,#005df8 62.5px,#0049f5 64.5px,#0026ed 67.5px,#001deb 70.5px,#0022ec 87.5px,#0029ee 96.5px,#0014e9 108.5px,#001eec 122.5px,#000fe7 136.5px,#000ee7 211.5px)"></div>
<div class="a" style="top:198px;background:linear-gradient(90deg,#000ee7 0.5px,#000ee7 21.5px,#0013e9 51.5px,#0018ea 54.5px,#0027ee 56.5px,#004af5 58.5px,#0074fb 60.5px,#0080fd 61.5px,#0080fd 62.5px,#0074fb 63.5px,#0039f2 66.5px,#0023ed 68.5px,#001ceb 72.5px,#001deb 97.5px,#0010e8 111.5px,#000ee7 211.5px)"></div>
<div class="a" style="top:199px;background:linear-gradient(90deg,#000de6 0.5px,#0011e8 49.5px,#0018ea 54.5px,#0028ee 56.5px,#004ef6 58.5px,#007cfd 60.5px,#0089fe 61.5px,#0089fe 62.5px,#007cfd 63.5px,#003cf2 66.5px,#0024ed 68.5px,#001ceb 72.5px,#0016ea 99.5px,#000ee6 116.5px,#000de6 211.5px)"></div>
<div class="b" style="top:1px;background:linear-gradient(90deg,#007cfd 0.5px,#007cfd 211.5px)"></div>
<div class="b" style="top:2px;background:linear-gradient(90deg,#0077fc 0.5px,#0077fc 211.5px)"></div>
<div class="b" style="top:3px;background:linear-gradient(90deg,#0071fb 0.5px,#0071fb 211.5px)"></div>
<div class="b" style="top:4px;background:linear-gradient(90deg,#006ffb 0.5px,#006ffb 211.5px)"></div>
<div class="b" style="top:5px;background:linear-gradient(90deg,#006efb 0.5px,#006efb 211.5px)"></div>
<div class="b" style="top:6px;background:linear-gradient(90deg,#0070fb 0.5px,#0070fb 211.5px)"></div>
<div class="b" style="top:7px;background:linear-gradient(90deg,#0072fb 0.5px,#0072fb 211.5px)"></div>
<div class="b" style="top:8px;background:linear-gradient(90deg,#0074fc 0.5px,#0074fc 211.5px)"></div>
<div class="b" style="top:9px;background:linear-gradient(90deg,#0078fc 0.5px,#0078fc 211.5px)"></div>
<div class="b" style="top:10px;background:linear-gradient(90deg,#007bfd 0.5px,#007bfd 211.5px)"></div>
<div class="b" style="top:11px;background:linear-gradient(90deg,#007ffd 0.5px,#007ffd 211.5px)"></div>
<div class="b" style="top:12px;background:linear-gradient(90deg,#0082fe 0.5px,#0082fe 211.5px)"></div>
<div class="b" style="top:13px;background:linear-gradient(90deg,#0085fe 0.5px,#0085fe 211.5px)"></div>
<div class="b" style="top:14px;background:linear-gradient(90deg,#0088fe 0.5px,#0088fe 211.5px)"></div>
<div class="b" style="top:15px;background:linear-gradient(90deg,#008bff 0.5px,#008bff 211.5px)"></div>
<div class="b" style="top:16px;background:linear-gradient(90deg,#0090ff 0.5px,#0090ff 211.5px)"></div>
<div class="b" style="top:17px;background:linear-gradient(90deg,#0098ff 0.5px,#0098ff 211.5px)"></div>
<div class="b" style="top:18px;background:linear-gradient(90deg,#00a4ff 0.5px,#00a4ff 211.5px)"></div>
<div class="b" style="top:19px;background:linear-gradient(90deg,#00b7ff 0.5px,#00b7ff 211.5px)"></div>
<div class="b" style="top:20px;background:linear-gradient(90deg,#00d6ff 0.5px,#00d6ff 211.5px)"></div>
<div class="b" style="top:21px;background:linear-gradient(90deg,#00f5f9 0.5px,#00f5f9 211.5px)"></div>
<div class="b" style="top:22px;background:linear-gradient(90deg,#00ffe4 0.5px,#00ffe4 211.5px)"></div>
<div class="b" style="top:23px;background:linear-gradient(90deg,#00ffc9 0.5px,#00ffc9 211.5px)"></div>
<div class="b" style="top:24px;background:linear-gradient(90deg,#00fdae 0.5px,#00fdae 211.5px)"></div>
<div class="b" style="top:25px;background:linear-gradient(90deg,#00fb97 0.5px,#00fb97 211.5px)"></div>
<div class="b" style="top:26px;background:linear-gradient(90deg,#00f987 0.5px,#00f987 211.5px)"></div>
<div class="b" style="top:27px;background:linear-gradient(90deg,#00f87c 0.5px,#00f87c 211.5px)"></div>
<div class="b" style="top:28px;background:linear-gradient(90deg,#00f774 0.5px,#00f774 211.5px)"></div>
<div class="b" style="top:29px;background:linear-gradient(90deg,#00f670 0.5px,#00f670 211.5px)"></div>
<div class="b" style="top:30px;background:linear-gradient(90deg,#00f66e 0.5px,#00f66e 211.5px)"></div>
<div class="b" style="top:31px;background:linear-gradient(90deg,#00f66f 0.5px,#00f66f 211.5px)"></div>
<div class="b" style="top:32px;background:linear-gradient(90deg,#00f672 0.5px,#00f672 211.5px)"></div>
<div class="b" style="top:33px;background:linear-gradient(90deg,#00f77a 0.5px,#00f77a 211.5px)"></div>
<div class="b" style="top:34px;background:linear-gradient(90deg,#00fa8d 0.5px,#00fa8d 211.5px)"></div>
<div class="b" style="top:35px;background:linear-gradient(90deg,#00fdaf 0.5px,#00fdaf 211.5px)"></div>
<div class="b" style="top:36px;background:linear-gradient(90deg,#00ffd1 0.5px,#00ffd1 211.5px)"></div>
<div class="b" style="top:37px;background:linear-gradient(90deg,#00fbec 0.5px,#00fbec 211.5px)"></div>
<div class="b" style="top:38px;background:linear-gradient(90deg,#00e9fb 0.5px,#00e9fb 211.5px)"></div>
<div class="b" style="top:39px;background:linear-gradient(90deg,#00c2ff 0.5px,#00c2ff 211.5px)"></div>
<div class="b" style="top:40px;background:linear-gradient(90deg,#0090fe 0.5px,#0090fe 211.5px)"></div>
<div class="b" style="top:41px;background:linear-gradient(90deg,#0064f9 0.5px,#0064f9 211.5px)"></div>
<div class="b" style="top:42px;background:linear-gradient(90deg,#003ef3 0.5px,#003ef3 211.5px)"></div>
<div class="b" style="top:43px;background:linear-gradient(90deg,#0021ec 0.5px,#0021ec 211.5px)"></div>
<div class="b" style="top:44px;background:linear-gradient(90deg,#0012e8 0.5px,#0012e8 211.5px)"></div>
<div class="b" style="top:45px;background:linear-gradient(90deg,#000de5 0.5px,#000de5 211.5px)"></div>
<div class="b" style="top:46px;background:linear-gradient(90deg,#000be4 0.5px,#000be4 211.5px)"></div>
<div class="b" style="top:47px;background:linear-gradient(90deg,#000ae3 0.5px,#000ae3 211.5px)"></div>
<div class="b" style="top:48px;background:linear-gradient(90deg,#000ae2 0.5px,#000ae2 211.5px)"></div>
<div class="b" style="top:49px;background:linear-gradient(90deg,#000be3 0.5px,#000be3 211.5px)"></div>
<div class="b" style="top:50px;background:linear-gradient(90deg,#000ee6 0.5px,#000ee6 211.5px)"></div>
<div class="b" style="top:51px;background:linear-gradient(90deg,#0017e9 0.5px,#0017e9 211.5px)"></div>
<div class="b" style="top:52px;background:linear-gradient(90deg,#002bee 0.5px,#002bee 211.5px)"></div>
<div class="b" style="top:53px;background:linear-gradient(90deg,#0048f5 0.5px,#0048f5 211.5px)"></div>
<div class="b" style="top:54px;background:linear-gradient(90deg,#006efb 0.5px,#006efb 211.5px)"></div>
<div class="b" style="top:55px;background:linear-gradient(90deg,#0096fe 0.5px,#0096fe 211.5px)"></div>
<div class="b" style="top:56px;background:linear-gradient(90deg,#00bfff 0.5px,#00bfff 211.5px)"></div>
<div class="b" style="top:57px;background:linear-gradient(90deg,#00e2fe 0.5px,#00e2fe 211.5px)"></div>
<div class="b" style="top:58px;background:linear-gradient(90deg,#00f9fb 0.5px,#00f9fb 211.5px)"></div>
<div class="b" style="top:59px;background:linear-gradient(90deg,#00fff4 0.5px,#00fff4 211.5px)"></div>
<div class="b" style="top:60px;background:linear-gradient(90deg,#00fff0 0.5px,#00fff0 211.5px)"></div>
<div class="b" style="top:61px;background:linear-gradient(90deg,#00ffed 0.5px,#00ffed 211.5px)"></div>
<div class="b" style="top:62px;background:linear-gradient(90deg,#00ffe9 0.5px,#00ffe9 211.5px)"></div>
<div class="b" style="top:63px;background:linear-gradient(90deg,#00ffe5 0.5px,#00ffe5 211.5px)"></div>
<div class="b" style="top:64px;background:linear-gradient(90deg,#00ffe1 0.5px,#00ffe2 211.5px)"></div>
<div class="b" style="top:65px;background:linear-gradient(90deg,#00ffdb 0.5px,#00ffdf 211.5px)"></div>
<div class="b" style="top:66px;background:linear-gradient(90deg,#00ffd1 0.5px,#00ffd9 211.5px)"></div>
<div class="b" style="top:67px;background:linear-gradient(90deg,#00febd 0.5px,#00ffcd 211.5px)"></div>
<div class="b" style="top:68px;background:linear-gradient(90deg,#00fb9a 0.5px,#00fca5 95.5px,#00feb7 211.5px)"></div>
<div class="b" style="top:69px;background:linear-gradient(90deg,#01f669 0.5px,#01f773 84.5px,#00fa91 211.5px)"></div>
<div class="b" style="top:70px;background:linear-gradient(90deg,#08f031 0.5px,#05f13b 86.5px,#02f45d 211.5px)"></div>
<div class="b" style="top:71px;background:linear-gradient(90deg,#1eed0a 0.5px,#13ee11 103.5px,#0cef28 211.5px)"></div>
<div class="b" style="top:72px;background:linear-gradient(90deg,#51f000 0.5px,#44ef01 80.5px,#27ed08 211.5px)"></div>
<div class="b" style="top:73px;background:linear-gradient(90deg,#9ff000 0.5px,#91f200 72.5px,#5ff000 209.5px,#5ff000 211.5px)"></div>
<div class="b" style="top:74px;background:linear-gradient(90deg,#e9d100 0.5px,#e2da00 70.5px,#b1ea00 211.5px)"></div>
<div class="b" style="top:75px;background:linear-gradient(90deg,#fe8000 0.5px,#fa8f00 92.5px,#f3aa00 167.5px,#efbb00 211.5px)"></div>
<div class="b" style="top:76px;background:linear-gradient(90deg,#ff4900 0.5px,#ff5300 92.5px,#fe7100 211.5px)"></div>
<div class="b" style="top:77px;background:linear-gradient(90deg,#ff3300 0.5px,#ff3d00 157.5px,#ff4300 211.5px)"></div>
<div class="b" style="top:78px;background:linear-gradient(90deg,#ff3600 0.5px,#ff3100 211.5px)"></div>
<div class="b" style="top:79px;background:linear-gradient(90deg,#ff5a00 0.5px,#ff4d00 96.5px,#ff3a00 211.5px)"></div>
<div class="b" style="top:80px;background:linear-gradient(90deg,#faa100 0.5px,#fd9200 81.5px,#ff6600 211.5px)"></div>
<div class="b" style="top:81px;background:linear-gradient(90deg,#d2e200 0.5px,#dede00 74.5px,#ead400 114.5px,#f6b200 211.5px)"></div>
<div class="b" style="top:82px;background:linear-gradient(90deg,#6cf109 0.5px,#7cf106 68.5px,#b7eb01 177.5px,#c2e801 211.5px)"></div>
<div class="b" style="top:83px;background:linear-gradient(90deg,#1af237 0.5px,#21f129 72.5px,#2ef019 118.5px,#56f00e 211.5px)"></div>
<div class="b" style="top:84px;background:linear-gradient(90deg,#02f891 0.5px,#03f782 71.5px,#0ff452 185.5px,#12f349 211.5px)"></div>
<div class="b" style="top:85px;background:linear-gradient(90deg,#00e4de 0.5px,#00e9d1 78.5px,#01f9a4 211.5px)"></div>
<div class="b" style="top:86px;background:linear-gradient(90deg,#0091f8 0.5px,#009ff5 71.5px,#00e0eb 211.5px)"></div>
<div class="b" style="top:87px;background:linear-gradient(90deg,#0042f2 0.5px,#004df3 75.5px,#0082f8 211.5px)"></div>
<div class="b" style="top:88px;background:linear-gradient(90deg,#0020ec 0.5px,#0029ee 127.5px,#0038f0 211.5px)"></div>
<div class="b" style="top:89px;background:linear-gradient(90deg,#0023ed 0.5px,#001deb 211.5px)"></div>
<div class="b" style="top:90px;background:linear-gradient(90deg,#003ff3 0.5px,#0033f0 110.5px,#0026ee 211.5px)"></div>
<div class="b" style="top:91px;background:linear-gradient(90deg,#0064f9 0.5px,#0060f8 82.5px,#0044f3 211.5px)"></div>
<div class="b" style="top:92px;background:linear-gradient(90deg,#0082fd 0.5px,#009ffd 99.5px,#0099f9 132.5px,#0083f1 211.5px)"></div>
<div class="b" style="top:93px;background:linear-gradient(90deg,#0098ff 0.5px,#00d1ff 72.5px,#00e8fa 102.5px,#00e5e8 143.5px,#00dfd4 211.5px)"></div>
<div class="b" style="top:94px;background:linear-gradient(90deg,#00a3ff 0.5px,#00e0ff 66.5px,#00f9fd 86.5px,#00fee3 121.5px,#00fcb1 211.5px)"></div>
<div class="b" style="top:95px;background:linear-gradient(90deg,#0098ff 0.5px,#00caff 63.5px,#00f6fc 91.5px,#00fee3 124.5px,#00fca6 209.5px,#00fca6 211.5px)"></div>
<div class="b" style="top:96px;background:linear-gradient(90deg,#0080fd 0.5px,#00a1fe 63.5px,#00e3fc 105.5px,#00edf6 116.5px,#00fecd 182.5px,#00fdba 209.5px,#00fdba 211.5px)"></div>
<div class="b" style="top:97px;background:linear-gradient(90deg,#0063f9 0.5px,#0073fa 64.5px,#00bcfa 129.5px,#00e9f2 175.5px,#00f2df 210.5px,#00f2df 211.5px)"></div>
<div class="b" style="top:98px;background:linear-gradient(90deg,#0043f4 0.5px,#004af5 68.5px,#006cf8 127.5px,#00a9fa 186.5px,#00bdf7 209.5px,#00bdf7 211.5px)"></div>
<div class="b" style="top:99px;background:linear-gradient(90deg,#0028ee 0.5px,#002dee 124.5px,#006cf7 209.5px,#006cf7 211.5px)"></div>
<div class="b" style="top:100px;background:linear-gradient(90deg,#0018ea 0.5px,#0015e9 131.5px,#002fee 211.5px)"></div>
<div class="b" style="top:101px;background:linear-gradient(90deg,#0015e9 0.5px,#0011e8 85.5px,#0010e7 155.5px,#0014e8 211.5px)"></div>
<div class="b" style="top:102px;background:linear-gradient(90deg,#0019ea 0.5px,#0015e9 84.5px,#000ee6 182.5px,#000de6 211.5px)"></div>
<div class="b" style="top:103px;background:linear-gradient(90deg,#001deb 0.5px,#0018ea 84.5px,#000ee6 195.5px,#000de6 211.5px)"></div>
<div class="b" style="top:104px;background:linear-gradient(90deg,#001ceb 0.5px,#0018ea 87.5px,#000de6 211.5px)"></div>
<div class="b" style="top:105px;background:linear-gradient(90deg,#0017ea 0.5px,#0011e8 124.5px,#000de6 211.5px)"></div>
<div class="b" style="top:106px;background:linear-gradient(90deg,#0011e8 0.5px,#000de6 211.5px)"></div>
<div class="b" style="top:107px;background:linear-gradient(90deg,#000fe7 0.5px,#000de6 211.5px)"></div>
<div class="b" style="top:108px;background:linear-gradient(90deg,#000fe7 0.5px,#000de6 211.5px)"></div>
<div class="b" style="top:109px;background:linear-gradient(90deg,#0015e9 0.5px,#000de6 211.5px)"></div>
<div class="b" style="top:110px;background:linear-gradient(90deg,#001beb 0.5px,#0016ea 93.5px,#000de6 211.5px)"></div>
<div class="b" style="top:111px;background:linear-gradient(90deg,#001ceb 0.5px,#0018ea 92.5px,#000de6 211.5px)"></div>
<div class="b" style="top:112px;background:linear-gradient(90deg,#001aeb 0.5px,#0015ea 94.5px,#000de6 211.5px)"></div>
<div class="b" style="top:113px;background:linear-gradient(90deg,#0015e9 0.5px,#000de6 211.5px)"></div>
<div class="b" style="top:114px;background:linear-gradient(90deg,#0010e8 0.5px,#000de6 211.5px)"></div>
<div class="b" style="top:115px;background:linear-gradient(90deg,#000ee6 0.5px,#000de6 211.5px)"></div>
<div class="b" style="top:116px;background:linear-gradient(90deg,#000de6 0.5px,#000de6 211.5px)"></div>
<div class="b" style="top:117px;background:linear-gradient(90deg,#000de6 0.5px,#000de6 211.5px)"></div>
<div class="b" style="top:118px;background:linear-gradient(90deg,#000ee6 0.5px,#000de6 211.5px)"></div>
<div class="b" style="top:119px;background:linear-gradient(90deg,#0013e8 0.5px,#000fe7 170.5px,#000de6 211.5px)"></div>
<div class="b" style="top:120px;background:linear-gradient(90deg,#0022ed 0.5px,#0015e9 100.5px,#000ee6 211.5px)"></div>
<div class="b" style="top:121px;background:linear-gradient(90deg,#0037f2 0.5px,#001aeb 70.5px,#000ee7 211.5px)"></div>
<div class="b" style="top:122px;background:linear-gradient(90deg,#003af2 0.5px,#0018ea 66.5px,#0010e8 211.5px)"></div>
<div class="b" style="top:123px;background:linear-gradient(90deg,#002aef 0.5px,#0011e8 66.5px,#0013e9 211.5px)"></div>
<div class="b" style="top:124px;background:linear-gradient(90deg,#001eec 0.5px,#000fe8 69.5px,#0014e9 190.5px,#0014e9 211.5px)"></div>
<div class="b" style="top:125px;background:linear-gradient(90deg,#001fec 0.5px,#0015e9 84.5px,#0015e9 211.5px)"></div>
<div class="b" style="top:126px;background:linear-gradient(90deg,#0030ef 0.5px,#0017ea 133.5px,#0014e9 211.5px)"></div>
<div class="b" style="top:127px;background:linear-gradient(90deg,#0058f6 0.5px,#0049f4 61.5px,#002aef 117.5px,#0014e9 158.5px,#0014e9 211.5px)"></div>
<div class="b" style="top:128px;background:linear-gradient(90deg,#009ff9 0.5px,#008efc 55.5px,#004bf5 113.5px,#002aee 136.5px,#001beb 151.5px,#0014e9 157.5px,#0014e9 211.5px)"></div>
<div class="b" style="top:129px;background:linear-gradient(90deg,#00e8e3 0.5px,#00e2f1 53.5px,#00a4fd 93.5px,#0040f3 133.5px,#0028ee 150.5px,#0015e9 155.5px,#0014e9 211.5px)"></div>
<div class="b" style="top:130px;background:linear-gradient(90deg,#00fcb8 0.5px,#00fdc7 52.5px,#00e8fc 91.5px,#00bcff 105.5px,#0076fc 121.5px,#0051f7 132.5px,#0036f1 149.5px,#0015e9 155.5px,#0014e9 211.5px)"></div>
<div class="b" style="top:131px;background:linear-gradient(90deg,#00fcaa 0.5px,#00fdb2 51.5px,#00fbf8 92.5px,#00ebff 99.5px,#00b7ff 110.5px,#0082fe 120.5px,#0055f7 132.5px,#0038f2 149.5px,#001aea 154.5px,#0015e9 164.5px,#0014e9 211.5px)"></div>
<div class="b" style="top:132px;background:linear-gradient(90deg,#00f2cc 0.5px,#00f5cf 52.5px,#00f5fc 91.5px,#00d0ff 103.5px,#009eff 113.5px,#0071fb 123.5px,#0052f7 132.5px,#0030f0 150.5px,#001ceb 155.5px,#0014e9 200.5px,#0014e9 211.5px)"></div>
<div class="b" style="top:133px;background:linear-gradient(90deg,#00b9f1 0.5px,#00bcf0 24.5px,#00caf1 45.5px,#00c9f6 61.5px,#00d7fa 77.5px,#00e4ff 91.5px,#00b9ff 108.5px,#0079fc 123.5px,#0058f7 134.5px,#0032f0 152.5px,#0022ed 164.5px,#0017ea 190.5px,#0016e9 211.5px)"></div>
<div class="b" style="top:134px;background:linear-gradient(90deg,#0053f2 0.5px,#0054f1 23.5px,#006af6 46.5px,#0077f9 55.5px,#0090fd 60.5px,#00acff 70.5px,#00dffd 85.5px,#00ebf9 92.5px,#00d6f7 110.5px,#008afc 132.5px,#0045f4 159.5px,#0024ed 180.5px,#001ceb 211.5px)"></div>
<div class="b" style="top:135px;background:linear-gradient(90deg,#0017e6 0.5px,#0018e6 26.5px,#0025ec 46.5px,#003bf1 54.5px,#004ef6 56.5px,#0077fc 59.5px,#008bfe 62.5px,#00ecfc 81.5px,#00f6f6 85.5px,#00fae4 93.5px,#00f5d9 111.5px,#00e3f3 127.5px,#008cfc 154.5px,#004ef6 173.5px,#003bf2 183.5px,#002def 211.5px)"></div>
<div class="b" style="top:136px;background:linear-gradient(90deg,#000ee5 0.5px,#0010e7 40.5px,#0017ea 45.5px,#0032f0 51.5px,#003cf2 54.5px,#0051f6 56.5px,#0088fe 60.5px,#00f2fd 78.5px,#00feef 84.5px,#00ffd4 93.5px,#00fdb5 111.5px,#00fad6 130.5px,#00e5fa 149.5px,#00c0fe 159.5px,#0080fc 172.5px,#0061f9 181.5px,#0049f5 211.5px)"></div>
<div class="b" style="top:137px;background:linear-gradient(90deg,#0019ea 0.5px,#0016ea 43.5px,#0029ee 46.5px,#0044f4 49.5px,#005bf8 55.5px,#0082fd 61.5px,#00c9ff 75.5px,#00ebfb 82.5px,#00fcd7 97.5px,#00fdb6 111.5px,#00fed3 134.5px,#00faf3 150.5px,#00e7ff 159.5px,#0080fd 180.5px,#0063f9 211.5px)"></div>
<div class="b" style="top:138px;background:linear-gradient(90deg,#0032f0 0.5px,#001dec 43.5px,#002bef 46.5px,#0040f3 49.5px,#0080fc 72.5px,#00bffa 87.5px,#00e7f1 100.5px,#00f0da 112.5px,#00eee8 135.5px,#00e6fb 150.5px,#00cdff 160.5px,#007efd 181.5px,#0066fa 211.5px)"></div>
<div class="b" style="top:139px;background:linear-gradient(90deg,#0052f6 0.5px,#0029ef 44.5px,#0038f1 52.5px,#0047f4 67.5px,#006bf9 82.5px,#00a4fa 103.5px,#00b8f6 111.5px,#00aff9 135.5px,#0096fd 155.5px,#005ff8 182.5px,#004ff6 211.5px)"></div>
<div class="b" style="top:140px;background:linear-gradient(90deg,#006cfb 0.5px,#003bf2 47.5px,#0038f2 66.5px,#004cf5 87.5px,#006cf8 112.5px,#005bf6 144.5px,#0035f0 185.5px,#002dee 211.5px)"></div>
<div class="b" style="top:141px;background:linear-gradient(90deg,#0080fe 0.5px,#0040f4 64.5px,#0038f1 96.5px,#0036f0 114.5px,#0015e8 192.5px,#0013e7 211.5px)"></div>
<div class="b" style="top:142px;background:linear-gradient(90deg,#0086fe 0.5px,#001fec 106.5px,#0013e6 126.5px,#000ae2 211.5px)"></div>
<div class="b" style="top:143px;background:linear-gradient(90deg,#007cfd 0.5px,#000fe7 112.5px,#000ae2 178.5px,#0009e2 211.5px)"></div>
<div class="b" style="top:144px;background:linear-gradient(90deg,#0065f9 0.5px,#0025ed 69.5px,#000de5 118.5px,#000be4 211.5px)"></div>
<div class="b" style="top:145px;background:linear-gradient(90deg,#0045f4 0.5px,#0016e9 67.5px,#000ce5 135.5px,#000de6 211.5px)"></div>
<div class="b" style="top:146px;background:linear-gradient(90deg,#0022eb 0.5px,#000de4 67.5px,#000de5 211.5px)"></div>
<div class="b" style="top:147px;background:linear-gradient(90deg,#000ce2 0.5px,#000ae2 161.5px,#000be3 211.5px)"></div>
<div class="b" style="top:148px;background:linear-gradient(90deg,#0007df 0.5px,#0009e1 211.5px)"></div>
<div class="b" style="top:149px;background:linear-gradient(90deg,#0009e1 0.5px,#0009e1 211.5px)"></div>
<div class="b" style="top:150px;background:linear-gradient(90deg,#0010e6 0.5px,#001be9 90.5px,#0012e7 149.5px,#000ae2 211.5px)"></div>
<div class="b" style="top:151px;background:linear-gradient(90deg,#0020eb 0.5px,#003af2 76.5px,#0033f0 127.5px,#000de5 205.5px,#000de5 211.5px)"></div>
<div class="b" style="top:152px;background:linear-gradient(90deg,#003af2 0.5px,#005ff8 74.5px,#005af8 106.5px,#004ff6 129.5px,#0012e8 209.5px,#0012e8 211.5px)"></div>
<div class="b" style="top:153px;background:linear-gradient(90deg,#0058f7 0.5px,#007cfd 70.5px,#0078fc 98.5px,#0069fa 128.5px,#001eec 209.5px,#001eec 211.5px)"></div>
<div class="b" style="top:154px;background:linear-gradient(90deg,#0065f9 0.5px,#0086fe 71.5px,#007ffd 95.5px,#004ff6 165.5px,#0024ed 208.5px,#0024ed 211.5px)"></div>
<div class="b" style="top:155px;background:linear-gradient(90deg,#0053f6 0.5px,#006bfa 52.5px,#007cfd 80.5px,#0071fb 95.5px,#0057f7 117.5px,#003cf2 170.5px,#001eec 209.5px,#001eec 211.5px)"></div>
<div class="b" style="top:156px;background:linear-gradient(90deg,#0031ef 0.5px,#0041f3 49.5px,#005df8 80.5px,#0053f6 93.5px,#0034f0 115.5px,#001feb 181.5px,#0013e8 211.5px)"></div>
<div class="b" style="top:157px;background:linear-gradient(90deg,#0017e9 0.5px,#0022eb 54.5px,#0032ef 82.5px,#001beb 120.5px,#000ce4 211.5px)"></div>
<div class="b" style="top:158px;background:linear-gradient(90deg,#000ce4 0.5px,#0013e9 102.5px,#000ee6 150.5px,#0009e1 211.5px)"></div>
<div class="b" style="top:159px;background:linear-gradient(90deg,#000ae2 0.5px,#0011e8 109.5px,#0011e8 132.5px,#0009e1 205.5px,#0009e1 211.5px)"></div>
<div class="b" style="top:160px;background:linear-gradient(90deg,#000fe5 0.5px,#0016e8 69.5px,#0014e9 118.5px,#000be3 211.5px)"></div>
<div class="b" style="top:161px;background:linear-gradient(90deg,#001feb 0.5px,#0033f0 64.5px,#0018ea 116.5px,#0012e8 194.5px,#0010e7 211.5px)"></div>
<div class="b" style="top:162px;background:linear-gradient(90deg,#003af2 0.5px,#0051f6 63.5px,#0033f0 97.5px,#0022ed 119.5px,#0026ed 168.5px,#0019ea 211.5px)"></div>
<div class="b" style="top:163px;background:linear-gradient(90deg,#0058f7 0.5px,#0068fa 64.5px,#004ff6 93.5px,#0037f2 118.5px,#0036f1 166.5px,#0022ed 211.5px)"></div>
<div class="b" style="top:164px;background:linear-gradient(90deg,#0064f9 0.5px,#006dfb 65.5px,#0050f6 104.5px,#0043f4 132.5px,#003cf3 167.5px,#0025ed 211.5px)"></div>
<div class="b" style="top:165px;background:linear-gradient(90deg,#0052f6 0.5px,#0054f7 70.5px,#0039f2 136.5px,#0024ed 192.5px,#001dec 211.5px)"></div>
<div class="b" style="top:166px;background:linear-gradient(90deg,#0031ef 0.5px,#002eef 80.5px,#0012e8 211.5px)"></div>
<div class="b" style="top:167px;background:linear-gradient(90deg,#0019ea 0.5px,#0013e8 111.5px,#000de6 195.5px,#000de5 211.5px)"></div>
<div class="b" style="top:168px;background:linear-gradient(90deg,#000fe6 0.5px,#000fe7 136.5px,#0016ea 160.5px,#000be4 195.5px,#000be3 211.5px)"></div>
<div class="b" style="top:169px;background:linear-gradient(90deg,#000be3 0.5px,#000ee6 128.5px,#002cef 155.5px,#001fec 169.5px,#000de6 184.5px,#000ae2 211.5px)"></div>
<div class="b" style="top:170px;background:linear-gradient(90deg,#000ae2 0.5px,#000de6 122.5px,#0019ea 131.5px,#004ff6 151.5px,#0051f6 159.5px,#0032f0 171.5px,#0013e8 183.5px,#000be3 199.5px,#000ae2 211.5px)"></div>
<div class="b" style="top:171px;background:linear-gradient(90deg,#000ae2 0.5px,#000be4 77.5px,#000fe7 121.5px,#001fec 129.5px,#0058f7 142.5px,#007dfc 151.5px,#0082fc 157.5px,#0073fb 163.5px,#0023ed 181.5px,#000fe7 190.5px,#000be3 211.5px)"></div>
<div class="b" style="top:172px;background:linear-gradient(90deg,#000be3 0.5px,#000de6 71.5px,#000ee7 118.5px,#001eec 126.5px,#0047f5 135.5px,#00a5fe 151.5px,#00aeff 156.5px,#00a1fe 161.5px,#0032f1 180.5px,#0014e9 189.5px,#000ce5 201.5px,#000ce4 211.5px)"></div>
<div class="b" style="top:173px;background:linear-gradient(90deg,#000ce5 0.5px,#0010e8 63.5px,#000ee7 115.5px,#001ceb 124.5px,#0040f3 133.5px,#00a3ff 149.5px,#00b6ff 154.5px,#00b1ff 159.5px,#0091fe 165.5px,#003bf2 179.5px,#001ceb 187.5px,#000ee7 196.5px,#000ce5 211.5px)"></div>
<div class="b" style="top:174px;background:linear-gradient(90deg,#000de6 0.5px,#0012e9 61.5px,#000fe7 115.5px,#001deb 125.5px,#003ef3 134.5px,#008dfe 150.5px,#0098fe 155.5px,#0091fe 160.5px,#005cf8 171.5px,#0029ee 182.5px,#0012e9 192.5px,#000de6 211.5px)"></div>
<div class="b" style="top:175px;background:linear-gradient(90deg,#000de6 0.5px,#0012e9 61.5px,#000fe8 116.5px,#001eec 128.5px,#004bf5 142.5px,#0067f9 152.5px,#0067f9 159.5px,#004bf5 169.5px,#001eec 183.5px,#000fe8 195.5px,#000de6 211.5px)"></div>
<div class="b" style="top:176px;background:linear-gradient(90deg,#000de6 0.5px,#0011e8 63.5px,#000fe8 121.5px,#0023ed 136.5px,#003ff3 152.5px,#003cf2 162.5px,#0014e9 185.5px,#000ee7 204.5px,#000ee6 211.5px)"></div>
<div class="b" style="top:177px;background:linear-gradient(90deg,#000ce5 0.5px,#000ee7 76.5px,#0011e8 130.5px,#0023ed 156.5px,#000ee7 191.5px,#000ee6 211.5px)"></div>
<div class="b" style="top:178px;background:linear-gradient(90deg,#000ce5 0.5px,#0011e8 140.5px,#0011e8 168.5px,#000ee6 211.5px)"></div>
<div class="b" style="top:179px;background:linear-gradient(90deg,#000ee6 0.5px,#000ee6 211.5px)"></div>
<div class="b" style="top:180px;background:linear-gradient(90deg,#0014e9 0.5px,#0013e9 51.5px,#000ee6 211.5px)"></div>
<div class="b" style="top:181px;background:linear-gradient(90deg,#0024ed 0.5px,#0022ed 42.5px,#0015e9 88.5px,#000ee6 211.5px)"></div>
<div class="b" style="top:182px;background:linear-gradient(90deg,#0036f1 0.5px,#0032f0 41.5px,#001eec 81.5px,#000de6 211.5px)"></div>
<div class="b" style="top:183px;background:linear-gradient(90deg,#0041f4 0.5px,#003cf3 43.5px,#0024ed 81.5px,#000de6 211.5px)"></div>
<div class="b" style="top:184px;background:linear-gradient(90deg,#0042f4 0.5px,#0042f4 40.5px,#0024ed 80.5px,#000de6 210.5px,#000de6 211.5px)"></div>
<div class="b" style="top:185px;background:linear-gradient(90deg,#0039f2 0.5px,#0043f4 35.5px,#002aee 63.5px,#001ceb 94.5px,#000de6 211.5px)"></div>
<div class="b" style="top:186px;background:linear-gradient(90deg,#002bef 0.5px,#003af2 31.5px,#002cef 52.5px,#0018ea 78.5px,#000de6 211.5px)"></div>
<div class="b" style="top:187px;background:linear-gradient(90deg,#001bea 0.5px,#002aee 32.5px,#0010e8 79.5px,#000de6 211.5px)"></div>
<div class="b" style="top:188px;background:linear-gradient(90deg,#0010e7 0.5px,#0019ea 36.5px,#000de6 86.5px,#000ee6 211.5px)"></div>
<div class="b" style="top:189px;background:linear-gradient(90deg,#000ce5 0.5px,#000de6 57.5px,#000ee6 211.5px)"></div>
<div class="b" style="top:190px;background:linear-gradient(90deg,#000be3 0.5px,#000ee6 211.5px)"></div>
<div class="b" style="top:191px;background:linear-gradient(90deg,#000ae3 0.5px,#000de6 211.5px)"></div>
<div class="b" style="top:192px;background:linear-gradient(90deg,#000ae2 0.5px,#000de6 211.5px)"></div>
<div class="b" style="top:193px;background:linear-gradient(90deg,#000ae2 0.5px,#000de6 211.5px)"></div>
<div class="b" style="top:194px;background:linear-gradient(90deg,#000ae2 0.5px,#000ce5 211.5px)"></div>
<div class="b" style="top:195px;background:linear-gradient(90deg,#000ae2 0.5px,#000ce5 211.5px)"></div>
<div class="b" style="top:196px;background:linear-gradient(90deg,#000ae2 0.5px,#000ce4 211.5px)"></div>
<div class="b" style="top:197px;background:linear-gradient(90deg,#000ae2 0.5px,#000be4 211.5px)"></div>
<div class="b" style="top:198px;background:linear-gradient(90deg,#000ae2 0.5px,#000be3 211.5px)"></div>
<div class="b" style="top:199px;background:linear-gradient(90deg,#000ae2 0.5px,#000ae3 211.5px)"></div>
<div class="c1" style="background:linear-gradient(90deg,#0019f0 0.5px,#0019f0 3.5px,#0002d9 4.5px,#0011e8 13.5px,#006efb 32.5px,#0092ff 39.5px,#00fbff 54.5px,#00fff9 56.5px,#00fdaf 74.5px,#01f459 91.5px,#0ceb00 106.5px,#abf700 135.5px,#cef900 142.5px,#fdf500 156.5px,#ffed00 158.5px,#ff9200 174.5px,#ff0000 208.5px,#ff0000 211.5px)"></div>
<div class="c2" style="background:linear-gradient(90deg,#0019f0 0.5px,#0019f0 1.5px,#0002d9 2.5px,#000fe8 11.5px,#0074fc 32.5px,#0093ff 38.5px,#00fcff 53.5px,#00fff5 56.5px,#00fdaf 73.5px,#01f45a 90.5px,#0beb00 105.5px,#a3f600 133.5px,#c9fa00 140.5px,#fef500 156.5px,#ff9500 173.5px,#ff0000 208.5px,#ff0000 210.5px)"></div>
<svg width="760" height="257" viewBox="0 0 760 257">
<defs><clipPath id="cl"><rect x="252.5" y="1" width="94.5" height="200"/></clipPath><clipPath id="cr"><rect x="637" y="1" width="94.5" height="200"/></clipPath></defs>
<g clip-path="url(#cl)" fill="none">
<path d="M347.82,43.50 C347.51,43.83 346.45,44.83 345.93,45.50 C345.41,46.17 345.30,46.83 344.71,47.50 C344.12,48.17 343.00,48.83 342.41,49.50 C341.82,50.17 341.68,50.83 341.15,51.50 C340.63,52.17 339.92,52.83 339.26,53.50 C338.61,54.17 337.78,54.83 337.23,55.50 C336.68,56.17 336.54,56.83 335.96,57.50 C335.39,58.17 334.36,58.83 333.77,59.50 C333.18,60.17 333.04,60.83 332.44,61.50 C331.84,62.17 330.88,62.83 330.20,63.50 C329.52,64.17 328.91,64.83 328.35,65.50 C327.78,66.17 327.31,66.83 326.80,67.50 C326.30,68.17 326.01,68.83 325.33,69.50 C324.65,70.17 323.48,70.83 322.75,71.50 C322.03,72.17 321.52,72.83 320.97,73.50 C320.43,74.17 320.01,74.83 319.50,75.50 C319.00,76.17 318.66,76.83 317.95,77.50 C317.23,78.17 316.09,78.83 315.21,79.50 C314.33,80.17 313.39,80.83 312.67,81.50 C311.95,82.17 311.73,82.83 310.89,83.50 C310.04,84.17 308.40,84.83 307.59,85.50 C306.78,86.17 306.74,86.83 306.04,87.50 C305.34,88.17 304.16,88.83 303.40,89.50 C302.65,90.17 302.11,90.83 301.49,91.50 C300.87,92.17 300.25,92.83 299.69,93.50 C299.13,94.17 298.58,94.83 298.11,95.50 C297.63,96.17 297.46,96.83 296.84,97.50 C296.23,98.17 295.07,98.83 294.44,99.50 C293.81,100.17 293.52,100.83 293.07,101.50 C292.62,102.17 292.18,102.83 291.75,103.50 C291.32,104.17 290.85,104.83 290.51,105.50 C290.17,106.17 290.08,106.83 289.71,107.50 C289.33,108.17 288.65,108.83 288.25,109.50 C287.84,110.17 287.57,110.83 287.27,111.50 C286.97,112.17 286.65,112.83 286.44,113.50 C286.22,114.17 286.23,114.83 285.98,115.50 C285.73,116.17 285.26,116.83 284.93,117.50 C284.61,118.17 284.26,118.83 284.03,119.50 C283.79,120.17 283.74,120.83 283.50,121.50 C283.26,122.17 282.89,122.83 282.57,123.50 C282.26,124.17 281.83,124.83 281.63,125.50 C281.42,126.17 281.52,126.83 281.33,127.50 C281.13,128.17 280.79,128.83 280.44,129.50 C280.08,130.17 279.47,130.83 279.17,131.50 C278.87,132.17 278.87,132.83 278.62,133.50 C278.37,134.17 277.93,134.83 277.69,135.50 C277.45,136.17 277.42,136.83 277.16,137.50 C276.90,138.17 276.53,138.83 276.14,139.50 C275.74,140.17 275.07,140.83 274.81,141.50 C274.56,142.17 274.95,142.83 274.63,143.50 C274.31,144.17 273.27,144.83 272.91,145.50 C272.55,146.17 272.62,146.83 272.48,147.50 C272.35,148.17 272.38,148.83 272.09,149.50 C271.81,150.17 271.05,150.83 270.76,151.50 C270.47,152.17 270.67,152.83 270.37,153.50 C270.08,154.17 269.28,154.83 268.99,155.50 C268.70,156.17 268.83,156.83 268.62,157.50 C268.41,158.17 268.06,158.83 267.71,159.50 C267.37,160.17 266.73,160.83 266.52,161.50 C266.32,162.17 266.60,162.83 266.47,163.50 C266.34,164.17 265.85,164.83 265.77,165.50 C265.69,166.17 266.01,166.83 266.01,167.50 C266.01,168.17 265.84,168.83 265.77,169.50 C265.70,170.17 265.69,170.83 265.62,171.50 C265.55,172.17 265.36,172.83 265.35,173.50 C265.35,174.17 265.55,174.83 265.60,175.50 C265.64,176.17 265.71,176.83 265.64,177.50 C265.57,178.17 265.22,178.83 265.17,179.50 C265.13,180.17 265.43,180.83 265.36,181.50 C265.30,182.17 264.75,182.83 264.76,183.50 C264.77,184.17 265.30,184.83 265.40,185.50 C265.50,186.17 265.30,186.83 265.35,187.50 C265.40,188.17 265.66,188.83 265.69,189.50 C265.72,190.17 265.64,190.83 265.52,191.50 C265.40,192.17 265.06,192.83 264.98,193.50 C264.91,194.17 265.02,194.83 265.09,195.50 C265.15,196.17 265.43,196.83 265.37,197.50 C265.31,198.17 264.83,199.17 264.72,199.50" stroke="#ff9c9c" stroke-width="0.8"/>
<path d="M347.78,27.00 C347.71,27.33 347.70,28.33 347.35,29.00 C346.99,29.67 346.03,30.33 345.66,31.00 C345.28,31.67 345.44,32.33 345.10,33.00 C344.75,33.67 343.96,34.33 343.58,35.00 C343.19,35.67 342.96,36.33 342.79,37.00 C342.62,37.67 342.84,38.33 342.56,39.00 C342.27,39.67 341.41,40.33 341.09,41.00 C340.76,41.67 340.84,42.33 340.59,43.00 C340.35,43.67 339.91,44.33 339.61,45.00 C339.30,45.67 339.04,46.33 338.76,47.00 C338.49,47.67 338.27,48.33 337.96,49.00 C337.64,49.67 337.11,50.33 336.88,51.00 C336.64,51.67 336.84,52.33 336.55,53.00 C336.25,53.67 335.47,54.33 335.11,55.00 C334.76,55.67 334.68,56.33 334.39,57.00 C334.10,57.67 333.65,58.33 333.37,59.00 C333.09,59.67 332.94,60.33 332.71,61.00 C332.47,61.67 332.16,62.33 331.96,63.00 C331.76,63.67 331.78,64.33 331.49,65.00 C331.20,65.67 330.60,66.33 330.21,67.00 C329.82,67.67 329.44,68.33 329.14,69.00 C328.83,69.67 328.56,70.33 328.39,71.00 C328.22,71.67 328.43,72.33 328.12,73.00 C327.80,73.67 326.85,74.33 326.51,75.00 C326.18,75.67 326.41,76.33 326.10,77.00 C325.78,77.67 325.03,78.33 324.61,79.00 C324.18,79.67 323.97,80.33 323.54,81.00 C323.10,81.67 322.41,82.33 321.98,83.00 C321.55,83.67 321.35,84.33 320.97,85.00 C320.58,85.67 320.03,86.33 319.68,87.00 C319.33,87.67 319.13,88.33 318.87,89.00 C318.61,89.67 318.46,90.33 318.14,91.00 C317.82,91.67 317.37,92.33 316.95,93.00 C316.54,93.67 316.06,94.33 315.67,95.00 C315.29,95.67 314.87,96.33 314.66,97.00 C314.44,97.67 314.64,98.33 314.37,99.00 C314.10,99.67 313.45,100.33 313.02,101.00 C312.59,101.67 312.06,102.33 311.79,103.00 C311.52,103.67 311.68,104.33 311.40,105.00 C311.13,105.67 310.48,106.33 310.12,107.00 C309.76,107.67 309.54,108.33 309.25,109.00 C308.96,109.67 308.77,110.33 308.38,111.00 C307.99,111.67 307.32,112.33 306.92,113.00 C306.52,113.67 306.27,114.33 305.99,115.00 C305.70,115.67 305.65,116.33 305.23,117.00 C304.82,117.67 303.88,118.33 303.47,119.00 C303.07,119.67 303.20,120.33 302.81,121.00 C302.41,121.67 301.51,122.33 301.11,123.00 C300.71,123.67 300.72,124.33 300.41,125.00 C300.11,125.67 299.61,126.33 299.26,127.00 C298.90,127.67 298.66,128.33 298.29,129.00 C297.92,129.67 297.48,130.33 297.03,131.00 C296.59,131.67 296.09,132.33 295.62,133.00 C295.16,133.67 294.67,134.33 294.24,135.00 C293.81,135.67 293.40,136.33 293.06,137.00 C292.73,137.67 292.56,138.33 292.23,139.00 C291.90,139.67 291.51,140.33 291.08,141.00 C290.64,141.67 289.94,142.33 289.64,143.00 C289.33,143.67 289.55,144.33 289.26,145.00 C288.97,145.67 288.28,146.33 287.91,147.00 C287.53,147.67 287.41,148.33 287.02,149.00 C286.64,149.67 286.00,150.33 285.60,151.00 C285.19,151.67 284.96,152.33 284.60,153.00 C284.24,153.67 283.75,154.33 283.43,155.00 C283.12,155.67 283.00,156.33 282.71,157.00 C282.42,157.67 281.98,158.33 281.66,159.00 C281.34,159.67 281.12,160.33 280.80,161.00 C280.49,161.67 280.05,162.33 279.78,163.00 C279.51,163.67 279.40,164.33 279.16,165.00 C278.92,165.67 278.69,166.33 278.35,167.00 C278.01,167.67 277.40,168.33 277.11,169.00 C276.83,169.67 276.85,170.33 276.63,171.00 C276.41,171.67 275.97,172.33 275.79,173.00 C275.60,173.67 275.63,174.33 275.52,175.00 C275.41,175.67 275.39,176.33 275.11,177.00 C274.83,177.67 274.08,178.33 273.83,179.00 C273.58,179.67 273.82,180.33 273.61,181.00 C273.39,181.67 272.89,182.33 272.56,183.00 C272.24,183.67 271.82,184.33 271.66,185.00 C271.50,185.67 271.77,186.33 271.59,187.00 C271.41,187.67 270.86,188.33 270.58,189.00 C270.29,189.67 270.00,190.33 269.88,191.00 C269.76,191.67 269.94,192.33 269.87,193.00 C269.80,193.67 269.56,194.33 269.49,195.00 C269.41,195.67 269.45,196.33 269.41,197.00 C269.36,197.67 269.24,198.67 269.21,199.00" stroke="#4545ff" stroke-width="1.0" stroke-dasharray="2.2,1.4,0.8,1.4"/>
<path d="M279.60,0.50 C279.03,7.08 277.23,27.08 276.20,40.00 C275.17,52.92 274.40,65.33 273.40,78.00 C272.40,90.67 271.25,103.33 270.20,116.00 C269.15,128.67 268.10,140.08 267.10,154.00 C266.10,167.92 264.68,191.92 264.20,199.50" stroke="#52bd52" stroke-width="1.1"/>
<path d="M274.50,-0.50 C273.50,-0.03 270.38,1.18 268.50,2.30 C266.62,3.42 264.27,4.90 263.20,6.20 C262.13,7.50 261.83,8.85 262.10,10.10 C262.37,11.35 262.15,12.78 264.80,13.70 C267.45,14.62 272.68,14.77 278.00,15.60 C283.32,16.43 290.98,17.67 296.70,18.70 C302.42,19.73 308.67,21.02 312.30,21.80 C315.93,22.58 318.50,22.75 318.50,23.40 C318.50,24.05 315.93,24.80 312.30,25.70 C308.67,26.60 301.88,27.63 296.70,28.80 C291.52,29.97 284.57,31.40 281.20,32.70 C277.83,34.00 275.22,35.45 276.50,36.60 C277.78,37.75 284.88,38.45 288.90,39.60 C292.92,40.75 300.60,42.47 300.60,43.50 C300.60,44.53 293.05,45.03 288.90,45.80 C284.75,46.57 279.85,47.20 275.70,48.10 C271.55,49.00 266.47,50.28 264.00,51.20 C261.53,52.12 260.63,52.82 260.90,53.60 C261.17,54.38 262.75,55.13 265.60,55.90 C268.45,56.67 274.37,57.42 278.00,58.20 C281.63,58.98 287.40,59.82 287.40,60.60 C287.40,61.38 281.38,62.12 278.00,62.90 C274.62,63.68 269.43,64.52 267.10,65.30 C264.77,66.08 263.48,66.57 264.00,67.60 C264.52,68.63 270.07,70.47 270.20,71.50 C270.33,72.53 266.48,72.90 264.80,73.80 C263.12,74.70 261.02,76.15 260.10,76.90 C259.18,77.65 257.87,77.53 259.30,78.30 C260.73,79.07 264.53,80.45 268.70,81.50 C272.87,82.55 284.05,83.57 284.30,84.60 C284.55,85.63 273.97,86.67 270.20,87.70 C266.43,88.73 262.98,89.77 261.70,90.80 C260.42,91.83 261.85,93.12 262.50,93.90 C263.15,94.68 265.60,94.58 265.60,95.50 C265.60,96.42 262.50,98.23 262.50,99.40 C262.50,100.57 264.57,101.60 265.60,102.50 C266.63,103.40 268.70,104.15 268.70,104.80 C268.70,105.45 264.95,105.75 265.60,106.40 C266.25,107.05 271.95,107.80 272.60,108.70 C273.25,109.60 269.90,110.53 269.50,111.80 C269.10,113.07 271.12,115.02 270.20,116.30 C269.28,117.58 264.90,118.45 264.00,119.50 C263.10,120.55 263.50,121.43 264.80,122.60 C266.10,123.77 269.20,125.33 271.80,126.50 C274.40,127.67 280.13,128.57 280.40,129.60 C280.67,130.63 276.13,131.67 273.40,132.70 C270.67,133.73 265.95,134.77 264.00,135.80 C262.05,136.83 261.30,137.73 261.70,138.90 C262.10,140.07 265.37,141.63 266.40,142.80 C267.43,143.97 268.17,144.60 267.90,145.90 C267.63,147.20 265.08,149.42 264.80,150.60 C264.52,151.78 265.63,151.58 266.20,153.00 C266.77,154.42 268.70,157.40 268.20,159.10 C267.70,160.80 264.38,161.35 263.20,163.20 C262.02,165.05 261.28,167.68 261.10,170.20 C260.92,172.72 261.93,175.77 262.10,178.30 C262.27,180.83 261.92,183.03 262.10,185.40 C262.28,187.77 263.20,190.15 263.20,192.50 C263.20,194.85 262.28,198.33 262.10,199.50" stroke="#f52020" stroke-width="1.3"/>
<path d="M272.23,-0.50 C271.94,-0.28 271.30,0.37 270.46,0.80 C269.61,1.23 267.84,1.67 267.17,2.10 C266.50,2.53 266.99,2.97 266.42,3.40 C265.86,3.83 264.31,4.27 263.78,4.70 C263.24,5.13 263.52,5.57 263.22,6.00 C262.93,6.43 262.07,6.87 262.00,7.30 C261.94,7.73 262.82,8.17 262.84,8.60 C262.86,9.03 261.97,9.47 262.10,9.90 C262.24,10.33 263.24,10.77 263.65,11.20 C264.06,11.63 263.31,12.07 264.56,12.50 C265.82,12.93 268.62,13.37 271.18,13.80 C273.74,14.23 277.17,14.67 279.91,15.10 C282.66,15.53 285.03,15.97 287.65,16.40 C290.27,16.83 293.25,17.27 295.63,17.70 C298.01,18.13 299.69,18.57 301.92,19.00 C304.16,19.43 306.93,19.87 309.04,20.30 C311.15,20.73 313.08,21.17 314.58,21.60 C316.07,22.03 318.11,22.47 318.01,22.90 C317.91,23.33 315.34,23.77 313.97,24.20 C312.59,24.63 311.74,25.07 309.76,25.50 C307.78,25.93 304.23,26.37 302.09,26.80 C299.94,27.23 298.77,27.67 296.88,28.10 C294.99,28.53 292.50,28.97 290.74,29.40 C288.97,29.83 288.05,30.27 286.30,30.70 C284.56,31.13 281.44,31.57 280.27,32.00 C279.10,32.43 280.26,32.87 279.30,33.30 C278.34,33.73 275.80,34.17 274.49,34.60 C273.18,35.03 271.19,35.47 271.46,35.90 C271.73,36.33 273.90,36.77 276.12,37.20 C278.33,37.63 282.26,38.07 284.74,38.50 C287.22,38.93 289.17,39.37 291.00,39.80 C292.83,40.23 294.26,40.67 295.73,41.10 C297.19,41.53 299.83,41.97 299.79,42.40 C299.75,42.83 297.24,43.27 295.47,43.70 C293.71,44.13 291.54,44.57 289.21,45.00 C286.88,45.43 283.94,45.87 281.50,46.30 C279.06,46.73 276.61,47.17 274.56,47.60 C272.51,48.03 270.81,48.47 269.20,48.90 C267.59,49.33 266.04,49.77 264.92,50.20 C263.80,50.63 263.08,51.07 262.47,51.50 C261.86,51.93 261.14,52.37 261.26,52.80 C261.38,53.23 262.15,53.67 263.20,54.10 C264.25,54.53 265.79,54.97 267.55,55.40 C269.32,55.83 271.58,56.27 273.78,56.70 C275.98,57.13 278.88,57.57 280.74,58.00 C282.59,58.43 284.29,58.87 284.93,59.30 C285.57,59.73 285.66,60.17 284.59,60.60 C283.51,61.03 280.33,61.47 278.48,61.90 C276.63,62.33 275.57,62.77 273.48,63.20 C271.40,63.63 267.68,64.07 265.99,64.50 C264.30,64.93 263.85,65.37 263.36,65.80 C262.86,66.23 262.48,66.67 263.04,67.10 C263.60,67.53 265.79,67.97 266.72,68.40 C267.66,68.83 268.19,69.27 268.66,69.70 C269.13,70.13 269.38,70.57 269.53,71.00 C269.69,71.43 269.99,71.87 269.58,72.30 C269.17,72.73 268.24,73.17 267.10,73.60 C265.95,74.03 263.90,74.47 262.69,74.90 C261.47,75.33 260.29,75.77 259.80,76.20 C259.31,76.63 259.28,77.07 259.74,77.50 C260.21,77.93 261.29,78.37 262.59,78.80 C263.89,79.23 265.98,79.67 267.52,80.10 C269.07,80.53 269.75,80.97 271.85,81.40 C273.96,81.83 277.14,82.27 280.16,82.70 C283.18,83.13 289.20,83.57 289.98,84.00 C290.76,84.43 287.80,84.87 284.85,85.30 C281.89,85.73 275.11,86.17 272.24,86.60 C269.38,87.03 269.08,87.47 267.65,87.90 C266.23,88.33 264.61,88.77 263.69,89.20 C262.76,89.63 262.44,90.07 262.11,90.50 C261.77,90.93 261.62,91.37 261.70,91.80 C261.79,92.23 262.05,92.67 262.61,93.10 C263.16,93.53 264.59,93.97 265.01,94.40 C265.42,94.83 265.35,95.27 265.09,95.70 C264.84,96.13 263.95,96.57 263.47,97.00 C262.99,97.43 262.53,97.87 262.20,98.30 C261.87,98.73 261.31,99.17 261.51,99.60 C261.70,100.03 262.56,100.47 263.34,100.90 C264.12,101.33 265.42,101.77 266.19,102.20 C266.95,102.63 267.67,103.07 267.93,103.50 C268.19,103.93 267.95,104.37 267.75,104.80 C267.55,105.23 266.07,105.67 266.74,106.10 C267.41,106.53 271.01,106.97 271.76,107.40 C272.51,107.83 271.44,108.27 271.26,108.70 C271.09,109.13 271.15,109.57 270.71,110.00 C270.27,110.43 269.34,110.87 268.61,111.30 C267.89,111.73 266.58,112.17 266.36,112.60 C266.14,113.03 265.83,113.47 267.29,113.90 C268.75,114.33 273.21,114.77 275.11,115.20 C277.00,115.63 279.82,116.07 278.66,116.50 C277.51,116.93 270.69,117.37 268.17,117.80 C265.66,118.23 264.29,118.67 263.57,119.10 C262.86,119.53 264.20,119.97 263.88,120.40 C263.56,120.83 261.41,121.27 261.65,121.70 C261.90,122.13 264.09,122.57 265.35,123.00 C266.61,123.43 268.19,123.87 269.21,124.30 C270.24,124.73 270.42,125.17 271.48,125.60 C272.55,126.03 273.51,126.47 275.60,126.90 C277.70,127.33 280.99,127.77 284.07,128.20 C287.15,128.63 294.28,129.07 294.08,129.50 C293.87,129.93 286.20,130.37 282.82,130.80 C279.44,131.23 276.18,131.67 273.80,132.10 C271.42,132.53 269.91,132.97 268.53,133.40 C267.16,133.83 266.52,134.27 265.57,134.70 C264.62,135.13 263.30,135.57 262.82,136.00 C262.34,136.43 262.85,136.87 262.71,137.30 C262.56,137.73 261.73,138.17 261.97,138.60 C262.22,139.03 263.67,139.47 264.16,139.90 C264.65,140.33 264.40,140.77 264.91,141.20 C265.42,141.63 267.14,142.07 267.23,142.50 C267.32,142.93 265.96,143.37 265.47,143.80 C264.97,144.23 264.24,144.67 264.25,145.10 C264.26,145.53 265.17,145.97 265.51,146.40 C265.85,146.83 266.35,147.27 266.30,147.70 C266.24,148.13 265.57,148.57 265.20,149.00 C264.82,149.43 264.40,149.87 264.05,150.30 C263.71,150.73 263.09,151.17 263.14,151.60 C263.18,152.03 263.78,152.47 264.32,152.90 C264.87,153.33 265.95,153.77 266.42,154.20 C266.89,154.63 266.82,155.07 267.14,155.50 C267.45,155.93 267.83,156.37 268.31,156.80 C268.79,157.23 269.73,157.67 270.00,158.10 C270.27,158.53 270.64,158.97 269.94,159.40 C269.24,159.83 266.75,160.27 265.81,160.70 C264.87,161.13 264.90,161.57 264.30,162.00 C263.70,162.43 262.49,162.87 262.23,163.30 C261.97,163.73 262.83,164.17 262.75,164.60 C262.67,165.03 261.87,165.47 261.77,165.90 C261.67,166.33 262.53,166.77 262.13,167.20 C261.73,167.63 259.96,168.07 259.37,168.50 C258.79,168.93 258.75,169.37 258.62,169.80 C258.49,170.23 258.22,170.67 258.58,171.10 C258.93,171.53 260.33,171.97 260.76,172.40 C261.20,172.83 261.01,173.27 261.19,173.70 C261.37,174.13 261.75,174.57 261.85,175.00 C261.94,175.43 261.72,175.87 261.78,176.30 C261.84,176.73 262.14,177.17 262.18,177.60 C262.23,178.03 262.07,178.47 262.03,178.90 C261.99,179.33 261.87,179.77 261.93,180.20 C262.00,180.63 262.47,181.07 262.41,181.50 C262.36,181.93 261.61,182.37 261.62,182.80 C261.62,183.23 262.35,183.67 262.42,184.10 C262.49,184.53 261.93,184.97 262.02,185.40 C262.11,185.83 262.45,186.27 262.94,186.70 C263.44,187.13 263.62,187.57 265.01,188.00 C266.40,188.43 270.93,188.87 271.28,189.30 C271.63,189.73 268.39,190.17 267.11,190.60 C265.82,191.03 264.80,191.47 263.56,191.90 C262.32,192.33 259.98,192.77 259.69,193.20 C259.39,193.63 261.43,194.07 261.80,194.50 C262.16,194.93 261.73,195.37 261.87,195.80 C262.00,196.23 262.64,196.67 262.62,197.10 C262.60,197.53 261.88,198.18 261.74,198.40" stroke="#3030ff" stroke-width="1.0" stroke-dasharray="1.1,1.7"/>
</g>
<g clip-path="url(#cr)" fill="none">
<path d="M720.75,0.50 C720.70,0.83 720.60,1.83 720.48,2.50 C720.35,3.17 719.94,3.83 720.00,4.50 C720.07,5.17 720.96,5.83 720.88,6.50 C720.80,7.17 719.66,7.83 719.53,8.50 C719.39,9.17 719.92,9.83 720.08,10.50 C720.23,11.17 720.63,11.83 720.48,12.50 C720.34,13.17 719.31,13.83 719.19,14.50 C719.07,15.17 719.65,15.83 719.75,16.50 C719.85,17.17 719.93,17.83 719.79,18.50 C719.66,19.17 719.01,19.83 718.94,20.50 C718.87,21.17 719.23,21.83 719.36,22.50 C719.50,23.17 719.77,23.83 719.77,24.50 C719.77,25.17 719.39,25.83 719.37,26.50 C719.34,27.17 719.77,27.83 719.62,28.50 C719.46,29.17 718.68,29.83 718.44,30.50 C718.20,31.17 718.31,31.83 718.17,32.50 C718.03,33.17 717.67,33.83 717.60,34.50 C717.54,35.17 717.71,35.83 717.77,36.50 C717.83,37.17 718.04,37.83 717.97,38.50 C717.90,39.17 717.42,39.83 717.34,40.50 C717.26,41.17 717.58,41.83 717.49,42.50 C717.41,43.17 716.88,43.83 716.84,44.50 C716.80,45.17 717.34,45.83 717.24,46.50 C717.14,47.17 716.37,47.83 716.23,48.50 C716.09,49.17 716.31,49.83 716.39,50.50 C716.47,51.17 716.73,51.83 716.72,52.50 C716.70,53.17 716.51,53.83 716.28,54.50 C716.05,55.17 715.66,55.83 715.34,56.50 C715.02,57.17 714.57,57.83 714.36,58.50 C714.16,59.17 714.26,59.83 714.10,60.50 C713.95,61.17 713.65,61.83 713.45,62.50 C713.25,63.17 712.99,63.83 712.92,64.50 C712.85,65.17 713.26,65.83 713.03,66.50 C712.80,67.17 711.74,67.83 711.55,68.50 C711.35,69.17 711.93,69.83 711.88,70.50 C711.83,71.17 711.67,71.83 711.24,72.50 C710.81,73.17 709.72,73.83 709.29,74.50 C708.86,75.17 708.90,75.83 708.65,76.50 C708.41,77.17 708.18,77.83 707.83,78.50 C707.48,79.17 706.77,79.83 706.55,80.50 C706.32,81.17 706.48,81.83 706.48,82.50 C706.47,83.17 706.88,83.83 706.52,84.50 C706.17,85.17 704.82,85.83 704.35,86.50 C703.88,87.17 704.14,87.83 703.69,88.50 C703.25,89.17 702.14,89.83 701.68,90.50 C701.23,91.17 701.25,91.83 700.98,92.50 C700.72,93.17 700.64,93.83 700.09,94.50 C699.54,95.17 698.38,95.83 697.70,96.50 C697.01,97.17 696.50,97.83 695.99,98.50 C695.49,99.17 695.02,99.83 694.67,100.50 C694.31,101.17 694.37,101.83 693.87,102.50 C693.38,103.17 692.30,103.83 691.71,104.50 C691.12,105.17 690.73,105.83 690.34,106.50 C689.96,107.17 689.73,107.83 689.42,108.50 C689.12,109.17 689.03,109.83 688.51,110.50 C688.00,111.17 686.94,111.83 686.31,112.50 C685.69,113.17 685.24,113.83 684.78,114.50 C684.32,115.17 684.18,115.83 683.54,116.50 C682.90,117.17 681.58,117.83 680.96,118.50 C680.34,119.17 680.41,119.83 679.82,120.50 C679.24,121.17 678.04,121.83 677.44,122.50 C676.84,123.17 676.65,123.83 676.23,124.50 C675.81,125.17 675.61,125.83 674.90,126.50 C674.19,127.17 672.55,127.83 671.97,128.50 C671.39,129.17 671.72,129.83 671.44,130.50 C671.16,131.17 670.78,131.83 670.28,132.50 C669.77,133.17 668.89,133.83 668.41,134.50 C667.92,135.17 667.55,135.83 667.34,136.50 C667.13,137.17 667.37,137.83 667.12,138.50 C666.88,139.17 666.46,139.83 665.90,140.50 C665.33,141.17 664.12,141.83 663.74,142.50 C663.36,143.17 663.74,143.83 663.62,144.50 C663.50,145.17 663.45,145.83 663.03,146.50 C662.61,147.17 661.49,147.83 661.10,148.50 C660.71,149.17 661.05,149.83 660.69,150.50 C660.33,151.17 659.33,151.83 658.96,152.50 C658.59,153.17 658.64,153.83 658.48,154.50 C658.32,155.17 658.25,155.83 657.99,156.50 C657.74,157.17 657.24,157.83 656.95,158.50 C656.67,159.17 656.71,159.83 656.29,160.50 C655.86,161.17 654.80,161.83 654.40,162.50 C654.01,163.17 653.96,163.83 653.90,164.50 C653.84,165.17 654.19,165.83 654.06,166.50 C653.92,167.17 653.38,167.83 653.10,168.50 C652.81,169.17 652.58,169.83 652.34,170.50 C652.11,171.17 651.77,171.83 651.71,172.50 C651.64,173.17 652.11,173.83 651.96,174.50 C651.81,175.17 651.22,175.83 650.81,176.50 C650.41,177.17 649.58,177.83 649.50,178.50 C649.43,179.17 650.37,179.83 650.37,180.50 C650.37,181.17 649.65,181.83 649.48,182.50 C649.32,183.17 649.51,183.83 649.41,184.50 C649.30,185.17 648.94,185.83 648.87,186.50 C648.80,187.17 649.02,187.83 648.97,188.50 C648.92,189.17 648.73,189.83 648.57,190.50 C648.42,191.17 648.02,191.83 648.02,192.50 C648.01,193.17 648.62,193.83 648.55,194.50 C648.48,195.17 647.62,195.83 647.58,196.50 C647.54,197.17 648.19,198.17 648.31,198.50" stroke="#ff9c9c" stroke-width="0.8"/>
<path d="M708.59,0.50 C708.45,0.83 707.99,1.83 707.78,2.50 C707.57,3.17 707.58,3.83 707.32,4.50 C707.06,5.17 706.40,5.83 706.24,6.50 C706.07,7.17 706.34,7.83 706.33,8.50 C706.32,9.17 706.21,9.83 706.18,10.50 C706.14,11.17 706.21,11.83 706.12,12.50 C706.04,13.17 705.66,13.83 705.68,14.50 C705.70,15.17 706.18,15.83 706.26,16.50 C706.34,17.17 706.14,17.83 706.18,18.50 C706.22,19.17 706.23,19.83 706.50,20.50 C706.76,21.17 707.48,21.83 707.78,22.50 C708.08,23.17 708.31,23.83 708.27,24.50 C708.24,25.17 707.45,25.83 707.57,26.50 C707.69,27.17 708.80,27.83 708.99,28.50 C709.18,29.17 708.87,29.83 708.69,30.50 C708.51,31.17 708.15,31.83 707.91,32.50 C707.67,33.17 707.39,33.83 707.28,34.50 C707.16,35.17 707.37,35.83 707.23,36.50 C707.09,37.17 706.54,37.83 706.45,38.50 C706.37,39.17 706.66,39.83 706.72,40.50 C706.77,41.17 706.87,41.83 706.80,42.50 C706.73,43.17 706.22,43.83 706.28,44.50 C706.34,45.17 706.95,45.83 707.16,46.50 C707.37,47.17 707.45,47.83 707.53,48.50 C707.61,49.17 707.67,49.83 707.63,50.50 C707.60,51.17 707.56,51.83 707.32,52.50 C707.08,53.17 706.49,53.83 706.20,54.50 C705.92,55.17 705.78,55.83 705.62,56.50 C705.47,57.17 705.24,57.83 705.25,58.50 C705.26,59.17 705.83,59.83 705.69,60.50 C705.55,61.17 704.68,61.83 704.39,62.50 C704.10,63.17 704.00,63.83 703.94,64.50 C703.87,65.17 704.20,65.83 704.00,66.50 C703.80,67.17 702.98,67.83 702.72,68.50 C702.46,69.17 702.59,69.83 702.43,70.50 C702.26,71.17 702.00,71.83 701.71,72.50 C701.42,73.17 700.85,73.83 700.69,74.50 C700.53,75.17 700.77,75.83 700.73,76.50 C700.70,77.17 700.75,77.83 700.47,78.50 C700.19,79.17 699.39,79.83 699.07,80.50 C698.76,81.17 698.72,81.83 698.58,82.50 C698.44,83.17 698.46,83.83 698.23,84.50 C698.00,85.17 697.38,85.83 697.21,86.50 C697.03,87.17 697.22,87.83 697.18,88.50 C697.15,89.17 697.17,89.83 697.00,90.50 C696.82,91.17 696.44,91.83 696.15,92.50 C695.86,93.17 695.45,93.83 695.24,94.50 C695.03,95.17 695.20,95.83 694.87,96.50 C694.54,97.17 693.57,97.83 693.26,98.50 C692.95,99.17 693.22,99.83 693.01,100.50 C692.80,101.17 692.27,101.83 692.02,102.50 C691.77,103.17 691.83,103.83 691.50,104.50 C691.16,105.17 690.28,105.83 690.01,106.50 C689.75,107.17 690.21,107.83 689.91,108.50 C689.60,109.17 688.61,109.83 688.19,110.50 C687.77,111.17 687.53,111.83 687.37,112.50 C687.22,113.17 687.39,113.83 687.24,114.50 C687.09,115.17 686.88,115.83 686.48,116.50 C686.08,117.17 685.28,117.83 684.83,118.50 C684.38,119.17 684.16,119.83 683.78,120.50 C683.40,121.17 682.92,121.83 682.55,122.50 C682.18,123.17 681.82,123.83 681.55,124.50 C681.29,125.17 681.30,125.83 680.94,126.50 C680.57,127.17 679.83,127.83 679.38,128.50 C678.93,129.17 678.54,129.83 678.22,130.50 C677.90,131.17 677.85,131.83 677.47,132.50 C677.09,133.17 676.31,133.83 675.97,134.50 C675.62,135.17 675.64,135.83 675.39,136.50 C675.14,137.17 674.80,137.83 674.44,138.50 C674.08,139.17 673.63,139.83 673.23,140.50 C672.84,141.17 672.43,141.83 672.08,142.50 C671.72,143.17 671.39,143.83 671.12,144.50 C670.84,145.17 670.76,145.83 670.42,146.50 C670.09,147.17 669.32,147.83 669.11,148.50 C668.89,149.17 669.36,149.83 669.16,150.50 C668.95,151.17 668.25,151.83 667.90,152.50 C667.55,153.17 667.40,153.83 667.07,154.50 C666.74,155.17 666.19,155.83 665.93,156.50 C665.67,157.17 665.70,157.83 665.52,158.50 C665.34,159.17 665.12,159.83 664.83,160.50 C664.53,161.17 663.97,161.83 663.75,162.50 C663.52,163.17 663.69,163.83 663.47,164.50 C663.24,165.17 662.78,165.83 662.40,166.50 C662.02,167.17 661.44,167.83 661.18,168.50 C660.92,169.17 660.92,169.83 660.82,170.50 C660.72,171.17 660.81,171.83 660.57,172.50 C660.34,173.17 659.70,173.83 659.40,174.50 C659.11,175.17 659.12,175.83 658.80,176.50 C658.47,177.17 657.70,177.83 657.44,178.50 C657.19,179.17 657.37,179.83 657.27,180.50 C657.16,181.17 656.96,181.83 656.80,182.50 C656.64,183.17 656.45,183.83 656.30,184.50 C656.15,185.17 656.00,185.83 655.90,186.50 C655.79,187.17 655.78,187.83 655.66,188.50 C655.54,189.17 655.34,189.83 655.18,190.50 C655.02,191.17 654.91,191.83 654.69,192.50 C654.47,193.17 654.03,193.83 653.87,194.50 C653.72,195.17 653.76,195.83 653.77,196.50 C653.79,197.17 653.94,198.17 653.98,198.50" stroke="#4545ff" stroke-width="1.0" stroke-dasharray="2.2,1.4,0.8,1.4"/>
<path d="M662.80,0.50 C662.28,7.08 660.73,27.08 659.70,40.00 C658.67,52.92 657.82,65.33 656.60,78.00 C655.38,90.67 653.97,103.33 652.40,116.00 C650.83,128.67 648.58,140.08 647.20,154.00 C645.82,167.92 644.62,191.92 644.10,199.50" stroke="#52bd52" stroke-width="1.1"/>
<path d="M648.80,0.00 C648.80,1.03 648.42,4.12 648.80,6.20 C649.18,8.28 649.67,10.17 651.10,12.50 C652.53,14.83 655.18,17.73 657.40,20.20 C659.62,22.67 663.10,25.60 664.40,27.30 C665.70,29.00 665.85,29.12 665.20,30.40 C664.55,31.68 662.58,33.40 660.50,35.00 C658.42,36.60 654.52,38.85 652.70,40.00 C650.88,41.15 651.28,40.55 649.60,41.90 C647.92,43.25 643.12,46.42 642.60,48.10 C642.08,49.78 644.57,50.43 646.50,52.00 C648.43,53.57 652.13,55.93 654.20,57.50 C656.27,59.07 657.47,59.85 658.90,61.40 C660.33,62.95 660.47,65.25 662.80,66.80 C665.13,68.35 668.62,69.53 672.90,70.70 C677.18,71.87 684.08,72.75 688.50,73.80 C692.92,74.85 699.13,75.98 699.40,77.00 C699.67,78.02 695.80,79.03 690.10,79.90 C684.40,80.77 671.95,81.42 665.20,82.20 C658.45,82.98 653.12,83.82 649.60,84.60 C646.08,85.38 644.10,86.13 644.10,86.90 C644.10,87.67 647.38,88.42 649.60,89.20 C651.82,89.98 656.63,90.68 657.40,91.60 C658.17,92.52 655.50,93.67 654.20,94.70 C652.90,95.73 651.15,96.77 649.60,97.80 C648.05,98.83 645.95,99.87 644.90,100.90 C643.85,101.93 643.30,102.95 643.30,104.00 C643.30,105.05 644.90,105.90 644.90,107.20 C644.90,108.50 643.68,110.33 643.30,111.80 C642.92,113.27 642.47,114.85 642.60,116.00 C642.73,117.15 643.45,117.22 644.10,118.70 C644.75,120.18 645.58,123.22 646.50,124.90 C647.42,126.58 648.32,127.88 649.60,128.80 C650.88,129.72 653.95,129.50 654.20,130.40 C654.45,131.30 651.10,132.52 651.10,134.20 C651.10,135.88 654.45,139.07 654.20,140.50 C653.95,141.93 650.88,142.02 649.60,142.80 C648.32,143.58 646.77,144.28 646.50,145.20 C646.23,146.12 648.13,147.27 648.00,148.30 C647.87,149.33 646.00,150.45 645.70,151.40 C645.40,152.35 645.95,152.88 646.20,154.00 C646.45,155.12 647.55,156.92 647.20,158.10 C646.85,159.28 644.10,159.92 644.10,161.10 C644.10,162.28 647.20,163.85 647.20,165.20 C647.20,166.55 644.45,167.35 644.10,169.20 C643.75,171.05 644.93,173.43 645.10,176.30 C645.27,179.17 645.27,183.53 645.10,186.40 C644.93,189.27 644.27,191.32 644.10,193.50 C643.93,195.68 644.10,198.50 644.10,199.50" stroke="#f52020" stroke-width="1.3"/>
<path d="M648.86,0.00 C648.88,0.22 648.98,0.87 648.98,1.30 C648.97,1.73 648.79,2.17 648.82,2.60 C648.86,3.03 649.21,3.47 649.19,3.90 C649.17,4.33 648.61,4.77 648.69,5.20 C648.77,5.63 649.60,6.07 649.68,6.50 C649.75,6.93 649.00,7.37 649.13,7.80 C649.27,8.23 650.26,8.67 650.48,9.10 C650.70,9.53 650.28,9.97 650.46,10.40 C650.64,10.83 651.31,11.27 651.56,11.70 C651.81,12.13 651.64,12.57 651.96,13.00 C652.27,13.43 653.12,13.87 653.44,14.30 C653.76,14.73 653.53,15.17 653.89,15.60 C654.25,16.03 655.23,16.47 655.60,16.90 C655.97,17.33 655.73,17.77 656.10,18.20 C656.47,18.63 657.47,19.07 657.84,19.50 C658.20,19.93 657.90,20.37 658.28,20.80 C658.67,21.23 659.67,21.67 660.14,22.10 C660.61,22.53 660.61,22.97 661.08,23.40 C661.54,23.83 662.44,24.27 662.93,24.70 C663.41,25.13 663.74,25.57 663.99,26.00 C664.24,26.43 664.23,26.87 664.43,27.30 C664.62,27.73 665.14,28.17 665.16,28.60 C665.19,29.03 664.81,29.47 664.58,29.90 C664.36,30.33 664.27,30.77 663.81,31.20 C663.35,31.63 662.29,32.07 661.82,32.50 C661.34,32.93 661.43,33.37 660.96,33.80 C660.48,34.23 659.56,34.67 658.95,35.10 C658.34,35.53 658.02,35.97 657.29,36.40 C656.55,36.83 655.13,37.27 654.52,37.70 C653.92,38.13 654.28,38.57 653.64,39.00 C653.00,39.43 651.40,39.87 650.68,40.30 C649.97,40.73 649.88,41.17 649.33,41.60 C648.78,42.03 647.88,42.47 647.41,42.90 C646.93,43.33 646.98,43.77 646.48,44.20 C645.98,44.63 644.91,45.07 644.39,45.50 C643.86,45.93 643.49,46.37 643.32,46.80 C643.15,47.23 643.08,47.67 643.36,48.10 C643.64,48.53 644.54,48.97 644.99,49.40 C645.44,49.83 645.59,50.27 646.08,50.70 C646.56,51.13 647.36,51.57 647.90,52.00 C648.44,52.43 648.77,52.87 649.32,53.30 C649.86,53.73 650.54,54.17 651.16,54.60 C651.78,55.03 652.46,55.47 653.01,55.90 C653.56,56.33 653.92,56.77 654.48,57.20 C655.04,57.63 655.84,58.07 656.35,58.50 C656.87,58.93 657.02,59.37 657.55,59.80 C658.08,60.23 659.23,60.67 659.55,61.10 C659.87,61.53 659.19,61.97 659.48,62.40 C659.77,62.83 661.03,63.27 661.29,63.70 C661.56,64.13 660.88,64.57 661.08,65.00 C661.28,65.43 662.24,65.87 662.49,66.30 C662.74,66.73 662.04,67.17 662.58,67.60 C663.13,68.03 664.85,68.47 665.76,68.90 C666.67,69.33 666.89,69.77 668.04,70.20 C669.19,70.63 670.72,71.07 672.64,71.50 C674.55,71.93 677.14,72.37 679.53,72.80 C681.91,73.23 684.94,73.67 686.93,74.10 C688.91,74.53 689.77,74.97 691.43,75.40 C693.10,75.83 696.27,76.27 696.91,76.70 C697.56,77.13 696.52,77.57 695.29,78.00 C694.07,78.43 693.13,78.87 689.56,79.30 C686.00,79.73 678.50,80.17 673.92,80.60 C669.34,81.03 665.48,81.47 662.08,81.90 C658.69,82.33 655.94,82.77 653.56,83.20 C651.18,83.63 649.26,84.07 647.80,84.50 C646.34,84.93 645.10,85.37 644.80,85.80 C644.50,86.23 645.18,86.67 646.01,87.10 C646.83,87.53 648.44,87.97 649.76,88.40 C651.08,88.83 652.28,89.27 653.94,89.70 C655.61,90.13 659.13,90.57 659.76,91.00 C660.38,91.43 658.46,91.87 657.72,92.30 C656.98,92.73 656.18,93.17 655.30,93.60 C654.42,94.03 653.35,94.47 652.44,94.90 C651.52,95.33 650.77,95.77 649.82,96.20 C648.87,96.63 647.19,97.07 646.72,97.50 C646.25,97.93 647.35,98.37 647.02,98.80 C646.68,99.23 645.17,99.67 644.72,100.10 C644.27,100.53 644.52,100.97 644.31,101.40 C644.10,101.83 643.50,102.27 643.45,102.70 C643.40,103.13 643.85,103.57 644.01,104.00 C644.17,104.43 644.25,104.87 644.42,105.30 C644.59,105.73 644.77,106.17 645.05,106.60 C645.32,107.03 646.23,107.47 646.09,107.90 C645.95,108.33 644.64,108.77 644.22,109.20 C643.79,109.63 643.74,110.07 643.54,110.50 C643.35,110.93 643.07,111.37 643.04,111.80 C643.01,112.23 643.49,112.67 643.38,113.10 C643.27,113.53 642.37,113.97 642.38,114.40 C642.38,114.83 643.25,115.27 643.40,115.70 C643.55,116.13 643.02,116.57 643.28,117.00 C643.55,117.43 644.45,117.87 644.99,118.30 C645.54,118.73 646.21,119.17 646.55,119.60 C646.89,120.03 647.26,120.47 647.05,120.90 C646.85,121.33 645.48,121.77 645.30,122.20 C645.11,122.63 646.12,123.07 645.96,123.50 C645.81,123.93 644.08,124.37 644.35,124.80 C644.62,125.23 646.87,125.67 647.59,126.10 C648.30,126.53 647.87,126.97 648.62,127.40 C649.36,127.83 650.73,128.27 652.06,128.70 C653.38,129.13 656.14,129.57 656.58,130.00 C657.02,130.43 655.50,130.87 654.69,131.30 C653.88,131.73 652.29,132.17 651.71,132.60 C651.14,133.03 651.20,133.47 651.26,133.90 C651.31,134.33 651.81,134.77 652.05,135.20 C652.29,135.63 652.47,136.07 652.70,136.50 C652.93,136.93 653.10,137.37 653.45,137.80 C653.81,138.23 654.62,138.67 654.81,139.10 C655.01,139.53 655.36,139.97 654.62,140.40 C653.88,140.83 651.41,141.27 650.38,141.70 C649.34,142.13 649.10,142.57 648.42,143.00 C647.73,143.43 646.49,143.87 646.25,144.30 C646.01,144.73 647.25,145.17 646.98,145.60 C646.72,146.03 644.64,146.47 644.65,146.90 C644.67,147.33 646.80,147.77 647.07,148.20 C647.35,148.63 646.45,149.07 646.30,149.50 C646.16,149.93 646.18,150.37 646.22,150.80 C646.27,151.23 645.98,151.67 646.57,152.10 C647.17,152.53 649.31,152.97 649.80,153.40 C650.28,153.83 649.82,154.27 649.46,154.70 C649.10,155.13 648.01,155.57 647.64,156.00 C647.26,156.43 647.58,156.87 647.19,157.30 C646.79,157.73 646.13,158.17 645.26,158.60 C644.38,159.03 642.12,159.47 641.93,159.90 C641.74,160.33 643.45,160.77 644.12,161.20 C644.79,161.63 645.37,162.07 645.96,162.50 C646.55,162.93 647.01,163.37 647.64,163.80 C648.28,164.23 649.96,164.67 649.77,165.10 C649.59,165.53 647.32,165.97 646.54,166.40 C645.75,166.83 645.50,167.27 645.05,167.70 C644.61,168.13 643.95,168.57 643.87,169.00 C643.80,169.43 644.56,169.87 644.61,170.30 C644.65,170.73 644.08,171.17 644.14,171.60 C644.20,172.03 644.90,172.47 644.95,172.90 C645.00,173.33 644.33,173.77 644.46,174.20 C644.59,174.63 645.66,175.07 645.73,175.50 C645.81,175.93 644.96,176.37 644.93,176.80 C644.90,177.23 645.57,177.67 645.54,178.10 C645.51,178.53 644.78,178.97 644.75,179.40 C644.72,179.83 645.36,180.27 645.34,180.70 C645.32,181.13 644.64,181.57 644.62,182.00 C644.61,182.43 645.15,182.87 645.22,183.30 C645.29,183.73 645.03,184.17 645.06,184.60 C645.08,185.03 645.41,185.47 645.36,185.90 C645.31,186.33 644.83,186.77 644.74,187.20 C644.66,187.63 644.84,188.07 644.83,188.50 C644.83,188.93 644.79,189.37 644.70,189.80 C644.61,190.23 644.35,190.67 644.30,191.10 C644.25,191.53 644.44,191.97 644.39,192.40 C644.34,192.83 644.01,193.27 644.00,193.70 C643.99,194.13 644.33,194.57 644.31,195.00 C644.29,195.43 643.88,195.87 643.88,196.30 C643.89,196.73 644.37,197.17 644.34,197.60 C644.31,198.03 643.82,198.68 643.72,198.90" stroke="#3030ff" stroke-width="1.0" stroke-dasharray="1.1,1.7"/>
</g>
<rect x="32.5" y="0.5" width="215.0" height="201.0" fill="none" stroke="#2a2a2a" stroke-width="1"/>
<line x1="39.50" y1="201.50" x2="39.50" y2="198.00" stroke="#2a2a2a" stroke-width="1" />
<line x1="39.50" y1="0.50" x2="39.50" y2="4.00" stroke="#2a2a2a" stroke-width="1" />
<text x="27.41" y="211.60" font-size="8.70" textLength="24.18" lengthAdjust="spacingAndGlyphs">47500</text>
<line x1="82.78" y1="201.50" x2="82.78" y2="198.00" stroke="#2a2a2a" stroke-width="1" />
<line x1="82.78" y1="0.50" x2="82.78" y2="4.00" stroke="#2a2a2a" stroke-width="1" />
<text x="70.69" y="211.60" font-size="8.70" textLength="24.18" lengthAdjust="spacingAndGlyphs">50000</text>
<line x1="126.06" y1="201.50" x2="126.06" y2="198.00" stroke="#2a2a2a" stroke-width="1" />
<line x1="126.06" y1="0.50" x2="126.06" y2="4.00" stroke="#2a2a2a" stroke-width="1" />
<text x="113.97" y="211.60" font-size="8.70" textLength="24.18" lengthAdjust="spacingAndGlyphs">52500</text>
<line x1="169.34" y1="201.50" x2="169.34" y2="198.00" stroke="#2a2a2a" stroke-width="1" />
<line x1="169.34" y1="0.50" x2="169.34" y2="4.00" stroke="#2a2a2a" stroke-width="1" />
<text x="157.25" y="211.60" font-size="8.70" textLength="24.18" lengthAdjust="spacingAndGlyphs">55000</text>
<line x1="212.62" y1="201.50" x2="212.62" y2="198.00" stroke="#2a2a2a" stroke-width="1" />
<line x1="212.62" y1="0.50" x2="212.62" y2="4.00" stroke="#2a2a2a" stroke-width="1" />
<text x="200.53" y="211.60" font-size="8.70" textLength="24.18" lengthAdjust="spacingAndGlyphs">57500</text>
<line x1="32.50" y1="75.00" x2="36.00" y2="75.00" stroke="#2a2a2a" stroke-width="1" />
<line x1="247.50" y1="75.00" x2="244.00" y2="75.00" stroke="#2a2a2a" stroke-width="1" />
<line x1="32.50" y1="200.50" x2="36.00" y2="200.50" stroke="#2a2a2a" stroke-width="1" />
<line x1="247.50" y1="200.50" x2="244.00" y2="200.50" stroke="#2a2a2a" stroke-width="1" />
<line x1="32.50" y1="80.40" x2="34.50" y2="80.40" stroke="#2a2a2a" stroke-width="1" />
<line x1="247.50" y1="80.40" x2="245.50" y2="80.40" stroke="#2a2a2a" stroke-width="1" />
<line x1="32.50" y1="86.50" x2="34.50" y2="86.50" stroke="#2a2a2a" stroke-width="1" />
<line x1="247.50" y1="86.50" x2="245.50" y2="86.50" stroke="#2a2a2a" stroke-width="1" />
<line x1="32.50" y1="92.70" x2="34.50" y2="92.70" stroke="#2a2a2a" stroke-width="1" />
<line x1="247.50" y1="92.70" x2="245.50" y2="92.70" stroke="#2a2a2a" stroke-width="1" />
<line x1="32.50" y1="99.30" x2="34.50" y2="99.30" stroke="#2a2a2a" stroke-width="1" />
<line x1="247.50" y1="99.30" x2="245.50" y2="99.30" stroke="#2a2a2a" stroke-width="1" />
<line x1="32.50" y1="107.20" x2="34.50" y2="107.20" stroke="#2a2a2a" stroke-width="1" />
<line x1="247.50" y1="107.20" x2="245.50" y2="107.20" stroke="#2a2a2a" stroke-width="1" />
<line x1="32.50" y1="117.40" x2="34.50" y2="117.40" stroke="#2a2a2a" stroke-width="1" />
<line x1="247.50" y1="117.40" x2="245.50" y2="117.40" stroke="#2a2a2a" stroke-width="1" />
<line x1="32.50" y1="129.00" x2="34.50" y2="129.00" stroke="#2a2a2a" stroke-width="1" />
<line x1="247.50" y1="129.00" x2="245.50" y2="129.00" stroke="#2a2a2a" stroke-width="1" />
<line x1="32.50" y1="144.20" x2="34.50" y2="144.20" stroke="#2a2a2a" stroke-width="1" />
<line x1="247.50" y1="144.20" x2="245.50" y2="144.20" stroke="#2a2a2a" stroke-width="1" />
<line x1="32.50" y1="164.40" x2="34.50" y2="164.40" stroke="#2a2a2a" stroke-width="1" />
<line x1="247.50" y1="164.40" x2="245.50" y2="164.40" stroke="#2a2a2a" stroke-width="1" />
<line x1="32.50" y1="4.40" x2="34.50" y2="4.40" stroke="#2a2a2a" stroke-width="1" />
<line x1="247.50" y1="4.40" x2="245.50" y2="4.40" stroke="#2a2a2a" stroke-width="1" />
<line x1="32.50" y1="19.20" x2="34.50" y2="19.20" stroke="#2a2a2a" stroke-width="1" />
<line x1="247.50" y1="19.20" x2="245.50" y2="19.20" stroke="#2a2a2a" stroke-width="1" />
<line x1="32.50" y1="40.50" x2="34.50" y2="40.50" stroke="#2a2a2a" stroke-width="1" />
<line x1="247.50" y1="40.50" x2="245.50" y2="40.50" stroke="#2a2a2a" stroke-width="1" />
<text x="9.81" y="77.60" font-size="8.60" textLength="17.87" lengthAdjust="spacingAndGlyphs">1000</text>
<text x="14.30" y="202.20" font-size="8.80" textLength="13.39" lengthAdjust="spacingAndGlyphs">100</text>
<text transform="translate(7.60,101.35) rotate(-90)" x="-25.48" y="0" font-size="9.60" textLength="50.96" lengthAdjust="spacingAndGlyphs">Period (days)</text>
<text x="117.40" y="225.10" font-size="8.80" textLength="44.39" lengthAdjust="spacingAndGlyphs">Time (MJD)</text>
<rect x="252.0" y="0.5" width="95.5" height="201.0" fill="none" stroke="#2a2a2a" stroke-width="1"/>
<line x1="259.20" y1="201.50" x2="259.20" y2="198.00" stroke="#2a2a2a" stroke-width="1" />
<line x1="259.20" y1="0.50" x2="259.20" y2="4.00" stroke="#2a2a2a" stroke-width="1" />
<line x1="266.27" y1="201.50" x2="266.27" y2="199.50" stroke="#2a2a2a" stroke-width="1" />
<line x1="266.27" y1="0.50" x2="266.27" y2="2.50" stroke="#2a2a2a" stroke-width="1" />
<line x1="273.34" y1="201.50" x2="273.34" y2="199.50" stroke="#2a2a2a" stroke-width="1" />
<line x1="273.34" y1="0.50" x2="273.34" y2="2.50" stroke="#2a2a2a" stroke-width="1" />
<line x1="280.41" y1="201.50" x2="280.41" y2="199.50" stroke="#2a2a2a" stroke-width="1" />
<line x1="280.41" y1="0.50" x2="280.41" y2="2.50" stroke="#2a2a2a" stroke-width="1" />
<line x1="287.48" y1="201.50" x2="287.48" y2="199.50" stroke="#2a2a2a" stroke-width="1" />
<line x1="287.48" y1="0.50" x2="287.48" y2="2.50" stroke="#2a2a2a" stroke-width="1" />
<line x1="294.55" y1="201.50" x2="294.55" y2="198.00" stroke="#2a2a2a" stroke-width="1" />
<line x1="294.55" y1="0.50" x2="294.55" y2="4.00" stroke="#2a2a2a" stroke-width="1" />
<line x1="301.62" y1="201.50" x2="301.62" y2="199.50" stroke="#2a2a2a" stroke-width="1" />
<line x1="301.62" y1="0.50" x2="301.62" y2="2.50" stroke="#2a2a2a" stroke-width="1" />
<line x1="308.69" y1="201.50" x2="308.69" y2="199.50" stroke="#2a2a2a" stroke-width="1" />
<line x1="308.69" y1="0.50" x2="308.69" y2="2.50" stroke="#2a2a2a" stroke-width="1" />
<line x1="315.76" y1="201.50" x2="315.76" y2="199.50" stroke="#2a2a2a" stroke-width="1" />
<line x1="315.76" y1="0.50" x2="315.76" y2="2.50" stroke="#2a2a2a" stroke-width="1" />
<line x1="322.83" y1="201.50" x2="322.83" y2="199.50" stroke="#2a2a2a" stroke-width="1" />
<line x1="322.83" y1="0.50" x2="322.83" y2="2.50" stroke="#2a2a2a" stroke-width="1" />
<line x1="329.90" y1="201.50" x2="329.90" y2="198.00" stroke="#2a2a2a" stroke-width="1" />
<line x1="329.90" y1="0.50" x2="329.90" y2="4.00" stroke="#2a2a2a" stroke-width="1" />
<line x1="336.97" y1="201.50" x2="336.97" y2="199.50" stroke="#2a2a2a" stroke-width="1" />
<line x1="336.97" y1="0.50" x2="336.97" y2="2.50" stroke="#2a2a2a" stroke-width="1" />
<line x1="344.04" y1="201.50" x2="344.04" y2="199.50" stroke="#2a2a2a" stroke-width="1" />
<line x1="344.04" y1="0.50" x2="344.04" y2="2.50" stroke="#2a2a2a" stroke-width="1" />
<text x="256.92" y="210.40" font-size="7.30" textLength="4.56" lengthAdjust="spacingAndGlyphs">0</text>
<text x="290.32" y="210.40" font-size="7.30" textLength="8.46" lengthAdjust="spacingAndGlyphs">20</text>
<text x="325.67" y="210.40" font-size="7.30" textLength="8.46" lengthAdjust="spacingAndGlyphs">40</text>
<line x1="252.00" y1="75.00" x2="255.50" y2="75.00" stroke="#2a2a2a" stroke-width="1" />
<line x1="347.50" y1="75.00" x2="344.00" y2="75.00" stroke="#2a2a2a" stroke-width="1" />
<line x1="252.00" y1="200.50" x2="255.50" y2="200.50" stroke="#2a2a2a" stroke-width="1" />
<line x1="347.50" y1="200.50" x2="344.00" y2="200.50" stroke="#2a2a2a" stroke-width="1" />
<line x1="252.00" y1="162.37" x2="254.00" y2="162.37" stroke="#2a2a2a" stroke-width="1" />
<line x1="347.50" y1="162.37" x2="345.50" y2="162.37" stroke="#2a2a2a" stroke-width="1" />
<line x1="252.00" y1="140.36" x2="254.00" y2="140.36" stroke="#2a2a2a" stroke-width="1" />
<line x1="347.50" y1="140.36" x2="345.50" y2="140.36" stroke="#2a2a2a" stroke-width="1" />
<line x1="252.00" y1="124.74" x2="254.00" y2="124.74" stroke="#2a2a2a" stroke-width="1" />
<line x1="347.50" y1="124.74" x2="345.50" y2="124.74" stroke="#2a2a2a" stroke-width="1" />
<line x1="252.00" y1="112.63" x2="254.00" y2="112.63" stroke="#2a2a2a" stroke-width="1" />
<line x1="347.50" y1="112.63" x2="345.50" y2="112.63" stroke="#2a2a2a" stroke-width="1" />
<line x1="252.00" y1="102.73" x2="254.00" y2="102.73" stroke="#2a2a2a" stroke-width="1" />
<line x1="347.50" y1="102.73" x2="345.50" y2="102.73" stroke="#2a2a2a" stroke-width="1" />
<line x1="252.00" y1="94.36" x2="254.00" y2="94.36" stroke="#2a2a2a" stroke-width="1" />
<line x1="347.50" y1="94.36" x2="345.50" y2="94.36" stroke="#2a2a2a" stroke-width="1" />
<line x1="252.00" y1="87.11" x2="254.00" y2="87.11" stroke="#2a2a2a" stroke-width="1" />
<line x1="347.50" y1="87.11" x2="345.50" y2="87.11" stroke="#2a2a2a" stroke-width="1" />
<line x1="252.00" y1="80.72" x2="254.00" y2="80.72" stroke="#2a2a2a" stroke-width="1" />
<line x1="347.50" y1="80.72" x2="345.50" y2="80.72" stroke="#2a2a2a" stroke-width="1" />
<line x1="252.00" y1="37.37" x2="254.00" y2="37.37" stroke="#2a2a2a" stroke-width="1" />
<line x1="347.50" y1="37.37" x2="345.50" y2="37.37" stroke="#2a2a2a" stroke-width="1" />
<line x1="252.00" y1="15.36" x2="254.00" y2="15.36" stroke="#2a2a2a" stroke-width="1" />
<line x1="347.50" y1="15.36" x2="345.50" y2="15.36" stroke="#2a2a2a" stroke-width="1" />
<text x="286.45" y="220.70" font-size="7.80" textLength="23.90" lengthAdjust="spacingAndGlyphs">Powers</text>
<text x="351.56" y="77.40" font-size="7.50" textLength="15.18" lengthAdjust="spacingAndGlyphs">1000</text>
<text x="351.26" y="201.60" font-size="7.50" textLength="11.57" lengthAdjust="spacingAndGlyphs">100</text>
<text transform="translate(369.80,100.10) rotate(90)" x="-21.33" y="0" font-size="7.40" textLength="42.67" lengthAdjust="spacingAndGlyphs">Period (days)</text>
<text x="25.29" y="247.90" font-size="6.90" textLength="17.22" lengthAdjust="spacingAndGlyphs">0.000</text>
<text x="59.36" y="247.90" font-size="6.90" textLength="17.22" lengthAdjust="spacingAndGlyphs">5.000</text>
<text x="93.43" y="247.90" font-size="6.90" textLength="17.22" lengthAdjust="spacingAndGlyphs">10.00</text>
<text x="127.50" y="247.90" font-size="6.90" textLength="17.22" lengthAdjust="spacingAndGlyphs">15.00</text>
<text x="161.57" y="247.90" font-size="6.90" textLength="17.22" lengthAdjust="spacingAndGlyphs">20.00</text>
<text x="195.64" y="247.90" font-size="6.90" textLength="17.22" lengthAdjust="spacingAndGlyphs">25.00</text>
<text x="229.71" y="247.90" font-size="6.90" textLength="17.22" lengthAdjust="spacingAndGlyphs">30.00</text>
<line x1="33.50" y1="232.00" x2="33.50" y2="239.00" stroke="rgba(20,20,20,0.55)" stroke-width="1" />
<line x1="67.50" y1="232.00" x2="67.50" y2="239.00" stroke="rgba(20,20,20,0.55)" stroke-width="1" />
<line x1="101.50" y1="232.00" x2="101.50" y2="239.00" stroke="rgba(20,20,20,0.55)" stroke-width="1" />
<line x1="135.50" y1="232.00" x2="135.50" y2="239.00" stroke="rgba(20,20,20,0.55)" stroke-width="1" />
<line x1="169.50" y1="232.00" x2="169.50" y2="239.00" stroke="rgba(20,20,20,0.55)" stroke-width="1" />
<line x1="203.50" y1="232.00" x2="203.50" y2="239.00" stroke="rgba(20,20,20,0.55)" stroke-width="1" />
<line x1="237.50" y1="232.00" x2="237.50" y2="239.00" stroke="rgba(20,20,20,0.55)" stroke-width="1" />
<text x="125.54" y="257.20" font-size="8.10" textLength="21.03" lengthAdjust="spacingAndGlyphs">WWZ</text>
<rect x="316.30" y="11.30" width="26.90" height="11.00" fill="#fff" stroke="#c4c4c4" stroke-width="0.9"/>
<text x="316.96" y="19.50" font-size="7.50" textLength="24.77" lengthAdjust="spacingAndGlyphs">37 GHz</text>
<rect x="292.50" y="156.20" width="50.30" height="37.40" fill="#fff" stroke="#c8c8c8" stroke-width="0.9"/>
<line x1="293.60" y1="160.00" x2="307.20" y2="160.00" stroke="#f52828" stroke-width="1.15" />
<text x="308.92" y="162.10" font-size="6.20" textLength="32.36" lengthAdjust="spacingAndGlyphs">WWZ power</text>
<line x1="293.60" y1="167.10" x2="307.20" y2="167.10" stroke="#5050ff" stroke-width="1.0" stroke-dasharray="1.2,1.4,0.6,1.4"/>
<text x="308.92" y="169.20" font-size="6.20" textLength="30.86" lengthAdjust="spacingAndGlyphs">LSP power</text>
<line x1="293.60" y1="174.70" x2="307.20" y2="174.70" stroke="#ffb0b0" stroke-width="0.9" />
<text x="308.92" y="176.80" font-size="6.20" textLength="26.36" lengthAdjust="spacingAndGlyphs">WWZ 3-&#963;</text>
<line x1="293.60" y1="182.30" x2="307.20" y2="182.30" stroke="#5050ff" stroke-width="1.0" stroke-dasharray="1.2,1.4,0.6,1.4"/>
<text x="308.92" y="184.40" font-size="6.20" textLength="21.66" lengthAdjust="spacingAndGlyphs">LSP 3-&#963;</text>
<line x1="293.60" y1="189.50" x2="307.20" y2="189.50" stroke="#6ac46a" stroke-width="1.0" />
<text x="308.92" y="191.60" font-size="6.20" textLength="12.46" lengthAdjust="spacingAndGlyphs">PSD</text>
<line x1="309.00" y1="156.70" x2="324.00" y2="156.70" stroke="#666" stroke-width="0.8" />
<line x1="309.00" y1="171.40" x2="324.00" y2="171.40" stroke="#666" stroke-width="0.8" />
<rect x="417.0" y="0.5" width="215.0" height="201.0" fill="none" stroke="#2a2a2a" stroke-width="1"/>
<line x1="422.30" y1="201.50" x2="422.30" y2="198.00" stroke="#2a2a2a" stroke-width="1" />
<line x1="422.30" y1="0.50" x2="422.30" y2="4.00" stroke="#2a2a2a" stroke-width="1" />
<text x="410.21" y="211.60" font-size="8.70" textLength="24.18" lengthAdjust="spacingAndGlyphs">54720</text>
<line x1="465.38" y1="201.50" x2="465.38" y2="198.00" stroke="#2a2a2a" stroke-width="1" />
<line x1="465.38" y1="0.50" x2="465.38" y2="4.00" stroke="#2a2a2a" stroke-width="1" />
<text x="453.29" y="211.60" font-size="8.70" textLength="24.18" lengthAdjust="spacingAndGlyphs">55680</text>
<line x1="508.46" y1="201.50" x2="508.46" y2="198.00" stroke="#2a2a2a" stroke-width="1" />
<line x1="508.46" y1="0.50" x2="508.46" y2="4.00" stroke="#2a2a2a" stroke-width="1" />
<text x="496.37" y="211.60" font-size="8.70" textLength="24.18" lengthAdjust="spacingAndGlyphs">56640</text>
<line x1="551.54" y1="201.50" x2="551.54" y2="198.00" stroke="#2a2a2a" stroke-width="1" />
<line x1="551.54" y1="0.50" x2="551.54" y2="4.00" stroke="#2a2a2a" stroke-width="1" />
<text x="539.45" y="211.60" font-size="8.70" textLength="24.18" lengthAdjust="spacingAndGlyphs">57600</text>
<line x1="594.62" y1="201.50" x2="594.62" y2="198.00" stroke="#2a2a2a" stroke-width="1" />
<line x1="594.62" y1="0.50" x2="594.62" y2="4.00" stroke="#2a2a2a" stroke-width="1" />
<text x="582.53" y="211.60" font-size="8.70" textLength="24.18" lengthAdjust="spacingAndGlyphs">58560</text>
<line x1="417.00" y1="75.00" x2="420.50" y2="75.00" stroke="#2a2a2a" stroke-width="1" />
<line x1="632.00" y1="75.00" x2="628.50" y2="75.00" stroke="#2a2a2a" stroke-width="1" />
<line x1="417.00" y1="200.50" x2="420.50" y2="200.50" stroke="#2a2a2a" stroke-width="1" />
<line x1="632.00" y1="200.50" x2="628.50" y2="200.50" stroke="#2a2a2a" stroke-width="1" />
<line x1="417.00" y1="80.40" x2="419.00" y2="80.40" stroke="#2a2a2a" stroke-width="1" />
<line x1="632.00" y1="80.40" x2="630.00" y2="80.40" stroke="#2a2a2a" stroke-width="1" />
<line x1="417.00" y1="86.50" x2="419.00" y2="86.50" stroke="#2a2a2a" stroke-width="1" />
<line x1="632.00" y1="86.50" x2="630.00" y2="86.50" stroke="#2a2a2a" stroke-width="1" />
<line x1="417.00" y1="92.70" x2="419.00" y2="92.70" stroke="#2a2a2a" stroke-width="1" />
<line x1="632.00" y1="92.70" x2="630.00" y2="92.70" stroke="#2a2a2a" stroke-width="1" />
<line x1="417.00" y1="99.30" x2="419.00" y2="99.30" stroke="#2a2a2a" stroke-width="1" />
<line x1="632.00" y1="99.30" x2="630.00" y2="99.30" stroke="#2a2a2a" stroke-width="1" />
<line x1="417.00" y1="107.20" x2="419.00" y2="107.20" stroke="#2a2a2a" stroke-width="1" />
<line x1="632.00" y1="107.20" x2="630.00" y2="107.20" stroke="#2a2a2a" stroke-width="1" />
<line x1="417.00" y1="117.40" x2="419.00" y2="117.40" stroke="#2a2a2a" stroke-width="1" />
<line x1="632.00" y1="117.40" x2="630.00" y2="117.40" stroke="#2a2a2a" stroke-width="1" />
<line x1="417.00" y1="129.00" x2="419.00" y2="129.00" stroke="#2a2a2a" stroke-width="1" />
<line x1="632.00" y1="129.00" x2="630.00" y2="129.00" stroke="#2a2a2a" stroke-width="1" />
<line x1="417.00" y1="144.20" x2="419.00" y2="144.20" stroke="#2a2a2a" stroke-width="1" />
<line x1="632.00" y1="144.20" x2="630.00" y2="144.20" stroke="#2a2a2a" stroke-width="1" />
<line x1="417.00" y1="164.40" x2="419.00" y2="164.40" stroke="#2a2a2a" stroke-width="1" />
<line x1="632.00" y1="164.40" x2="630.00" y2="164.40" stroke="#2a2a2a" stroke-width="1" />
<line x1="417.00" y1="4.40" x2="419.00" y2="4.40" stroke="#2a2a2a" stroke-width="1" />
<line x1="632.00" y1="4.40" x2="630.00" y2="4.40" stroke="#2a2a2a" stroke-width="1" />
<line x1="417.00" y1="19.40" x2="419.00" y2="19.40" stroke="#2a2a2a" stroke-width="1" />
<line x1="632.00" y1="19.40" x2="630.00" y2="19.40" stroke="#2a2a2a" stroke-width="1" />
<line x1="417.00" y1="40.40" x2="419.00" y2="40.40" stroke="#2a2a2a" stroke-width="1" />
<line x1="632.00" y1="40.40" x2="630.00" y2="40.40" stroke="#2a2a2a" stroke-width="1" />
<text x="394.31" y="77.60" font-size="8.60" textLength="17.87" lengthAdjust="spacingAndGlyphs">1000</text>
<text x="398.80" y="202.20" font-size="8.80" textLength="13.39" lengthAdjust="spacingAndGlyphs">100</text>
<text transform="translate(390.80,101.05) rotate(-90)" x="-25.68" y="0" font-size="9.60" textLength="51.36" lengthAdjust="spacingAndGlyphs">Period (days)</text>
<text x="501.90" y="225.10" font-size="8.80" textLength="44.39" lengthAdjust="spacingAndGlyphs">Time (MJD)</text>
<rect x="636.5" y="0.5" width="95.5" height="201.0" fill="none" stroke="#2a2a2a" stroke-width="1"/>
<line x1="642.50" y1="201.50" x2="642.50" y2="198.00" stroke="#2a2a2a" stroke-width="1" />
<line x1="642.50" y1="0.50" x2="642.50" y2="4.00" stroke="#2a2a2a" stroke-width="1" />
<line x1="648.46" y1="201.50" x2="648.46" y2="199.50" stroke="#2a2a2a" stroke-width="1" />
<line x1="648.46" y1="0.50" x2="648.46" y2="2.50" stroke="#2a2a2a" stroke-width="1" />
<line x1="654.42" y1="201.50" x2="654.42" y2="199.50" stroke="#2a2a2a" stroke-width="1" />
<line x1="654.42" y1="0.50" x2="654.42" y2="2.50" stroke="#2a2a2a" stroke-width="1" />
<line x1="660.38" y1="201.50" x2="660.38" y2="199.50" stroke="#2a2a2a" stroke-width="1" />
<line x1="660.38" y1="0.50" x2="660.38" y2="2.50" stroke="#2a2a2a" stroke-width="1" />
<line x1="666.34" y1="201.50" x2="666.34" y2="199.50" stroke="#2a2a2a" stroke-width="1" />
<line x1="666.34" y1="0.50" x2="666.34" y2="2.50" stroke="#2a2a2a" stroke-width="1" />
<line x1="672.30" y1="201.50" x2="672.30" y2="198.00" stroke="#2a2a2a" stroke-width="1" />
<line x1="672.30" y1="0.50" x2="672.30" y2="4.00" stroke="#2a2a2a" stroke-width="1" />
<line x1="678.26" y1="201.50" x2="678.26" y2="199.50" stroke="#2a2a2a" stroke-width="1" />
<line x1="678.26" y1="0.50" x2="678.26" y2="2.50" stroke="#2a2a2a" stroke-width="1" />
<line x1="684.22" y1="201.50" x2="684.22" y2="199.50" stroke="#2a2a2a" stroke-width="1" />
<line x1="684.22" y1="0.50" x2="684.22" y2="2.50" stroke="#2a2a2a" stroke-width="1" />
<line x1="690.18" y1="201.50" x2="690.18" y2="199.50" stroke="#2a2a2a" stroke-width="1" />
<line x1="690.18" y1="0.50" x2="690.18" y2="2.50" stroke="#2a2a2a" stroke-width="1" />
<line x1="696.14" y1="201.50" x2="696.14" y2="199.50" stroke="#2a2a2a" stroke-width="1" />
<line x1="696.14" y1="0.50" x2="696.14" y2="2.50" stroke="#2a2a2a" stroke-width="1" />
<line x1="702.10" y1="201.50" x2="702.10" y2="198.00" stroke="#2a2a2a" stroke-width="1" />
<line x1="702.10" y1="0.50" x2="702.10" y2="4.00" stroke="#2a2a2a" stroke-width="1" />
<line x1="708.06" y1="201.50" x2="708.06" y2="199.50" stroke="#2a2a2a" stroke-width="1" />
<line x1="708.06" y1="0.50" x2="708.06" y2="2.50" stroke="#2a2a2a" stroke-width="1" />
<line x1="714.02" y1="201.50" x2="714.02" y2="199.50" stroke="#2a2a2a" stroke-width="1" />
<line x1="714.02" y1="0.50" x2="714.02" y2="2.50" stroke="#2a2a2a" stroke-width="1" />
<line x1="719.98" y1="201.50" x2="719.98" y2="199.50" stroke="#2a2a2a" stroke-width="1" />
<line x1="719.98" y1="0.50" x2="719.98" y2="2.50" stroke="#2a2a2a" stroke-width="1" />
<line x1="725.94" y1="201.50" x2="725.94" y2="199.50" stroke="#2a2a2a" stroke-width="1" />
<line x1="725.94" y1="0.50" x2="725.94" y2="2.50" stroke="#2a2a2a" stroke-width="1" />
<line x1="731.90" y1="201.50" x2="731.90" y2="198.00" stroke="#2a2a2a" stroke-width="1" />
<line x1="731.90" y1="0.50" x2="731.90" y2="4.00" stroke="#2a2a2a" stroke-width="1" />
<text x="640.22" y="210.40" font-size="7.30" textLength="4.56" lengthAdjust="spacingAndGlyphs">0</text>
<text x="668.07" y="210.40" font-size="7.30" textLength="8.46" lengthAdjust="spacingAndGlyphs">20</text>
<text x="697.87" y="210.40" font-size="7.30" textLength="8.46" lengthAdjust="spacingAndGlyphs">40</text>
<text x="727.67" y="210.40" font-size="7.30" textLength="8.46" lengthAdjust="spacingAndGlyphs">60</text>
<line x1="636.50" y1="75.00" x2="640.00" y2="75.00" stroke="#2a2a2a" stroke-width="1" />
<line x1="732.00" y1="75.00" x2="728.50" y2="75.00" stroke="#2a2a2a" stroke-width="1" />
<line x1="636.50" y1="200.50" x2="640.00" y2="200.50" stroke="#2a2a2a" stroke-width="1" />
<line x1="732.00" y1="200.50" x2="728.50" y2="200.50" stroke="#2a2a2a" stroke-width="1" />
<line x1="636.50" y1="162.37" x2="638.50" y2="162.37" stroke="#2a2a2a" stroke-width="1" />
<line x1="732.00" y1="162.37" x2="730.00" y2="162.37" stroke="#2a2a2a" stroke-width="1" />
<line x1="636.50" y1="140.36" x2="638.50" y2="140.36" stroke="#2a2a2a" stroke-width="1" />
<line x1="732.00" y1="140.36" x2="730.00" y2="140.36" stroke="#2a2a2a" stroke-width="1" />
<line x1="636.50" y1="124.74" x2="638.50" y2="124.74" stroke="#2a2a2a" stroke-width="1" />
<line x1="732.00" y1="124.74" x2="730.00" y2="124.74" stroke="#2a2a2a" stroke-width="1" />
<line x1="636.50" y1="112.63" x2="638.50" y2="112.63" stroke="#2a2a2a" stroke-width="1" />
<line x1="732.00" y1="112.63" x2="730.00" y2="112.63" stroke="#2a2a2a" stroke-width="1" />
<line x1="636.50" y1="102.73" x2="638.50" y2="102.73" stroke="#2a2a2a" stroke-width="1" />
<line x1="732.00" y1="102.73" x2="730.00" y2="102.73" stroke="#2a2a2a" stroke-width="1" />
<line x1="636.50" y1="94.36" x2="638.50" y2="94.36" stroke="#2a2a2a" stroke-width="1" />
<line x1="732.00" y1="94.36" x2="730.00" y2="94.36" stroke="#2a2a2a" stroke-width="1" />
<line x1="636.50" y1="87.11" x2="638.50" y2="87.11" stroke="#2a2a2a" stroke-width="1" />
<line x1="732.00" y1="87.11" x2="730.00" y2="87.11" stroke="#2a2a2a" stroke-width="1" />
<line x1="636.50" y1="80.72" x2="638.50" y2="80.72" stroke="#2a2a2a" stroke-width="1" />
<line x1="732.00" y1="80.72" x2="730.00" y2="80.72" stroke="#2a2a2a" stroke-width="1" />
<line x1="636.50" y1="37.37" x2="638.50" y2="37.37" stroke="#2a2a2a" stroke-width="1" />
<line x1="732.00" y1="37.37" x2="730.00" y2="37.37" stroke="#2a2a2a" stroke-width="1" />
<line x1="636.50" y1="15.36" x2="638.50" y2="15.36" stroke="#2a2a2a" stroke-width="1" />
<line x1="732.00" y1="15.36" x2="730.00" y2="15.36" stroke="#2a2a2a" stroke-width="1" />
<text x="670.95" y="220.70" font-size="7.80" textLength="23.90" lengthAdjust="spacingAndGlyphs">Powers</text>
<text x="736.06" y="77.40" font-size="7.50" textLength="15.18" lengthAdjust="spacingAndGlyphs">1000</text>
<text x="735.76" y="201.60" font-size="7.50" textLength="11.57" lengthAdjust="spacingAndGlyphs">100</text>
<text transform="translate(754.30,100.10) rotate(90)" x="-21.33" y="0" font-size="7.40" textLength="42.67" lengthAdjust="spacingAndGlyphs">Period (days)</text>
<text x="408.89" y="247.90" font-size="6.90" textLength="17.22" lengthAdjust="spacingAndGlyphs">0.000</text>
<text x="460.32" y="247.90" font-size="6.90" textLength="17.22" lengthAdjust="spacingAndGlyphs">10.00</text>
<text x="511.75" y="247.90" font-size="6.90" textLength="17.22" lengthAdjust="spacingAndGlyphs">20.00</text>
<text x="563.18" y="247.90" font-size="6.90" textLength="17.22" lengthAdjust="spacingAndGlyphs">30.00</text>
<text x="614.61" y="247.90" font-size="6.90" textLength="17.22" lengthAdjust="spacingAndGlyphs">40.00</text>
<line x1="417.50" y1="232.00" x2="417.50" y2="239.00" stroke="rgba(20,20,20,0.55)" stroke-width="1" />
<line x1="468.50" y1="232.00" x2="468.50" y2="239.00" stroke="rgba(20,20,20,0.55)" stroke-width="1" />
<line x1="519.50" y1="232.00" x2="519.50" y2="239.00" stroke="rgba(20,20,20,0.55)" stroke-width="1" />
<line x1="571.50" y1="232.00" x2="571.50" y2="239.00" stroke="rgba(20,20,20,0.55)" stroke-width="1" />
<line x1="622.50" y1="232.00" x2="622.50" y2="239.00" stroke="rgba(20,20,20,0.55)" stroke-width="1" />
<text x="510.04" y="257.20" font-size="8.10" textLength="21.03" lengthAdjust="spacingAndGlyphs">WWZ</text>
<rect x="683.50" y="13.70" width="43.80" height="10.20" fill="#fff" stroke="#c4c4c4" stroke-width="0.9"/>
<text x="684.77" y="21.70" font-size="7.40" textLength="40.37" lengthAdjust="spacingAndGlyphs">0.1-300 GeV</text>
<rect x="677.00" y="156.20" width="50.30" height="37.40" fill="#fff" stroke="#c8c8c8" stroke-width="0.9"/>
<line x1="678.10" y1="160.00" x2="691.70" y2="160.00" stroke="#f52828" stroke-width="1.15" />
<text x="693.42" y="162.10" font-size="6.20" textLength="32.36" lengthAdjust="spacingAndGlyphs">WWZ power</text>
<line x1="678.10" y1="167.10" x2="691.70" y2="167.10" stroke="#5050ff" stroke-width="1.0" stroke-dasharray="1.2,1.4,0.6,1.4"/>
<text x="693.42" y="169.20" font-size="6.20" textLength="30.86" lengthAdjust="spacingAndGlyphs">LSP power</text>
<line x1="678.10" y1="174.70" x2="691.70" y2="174.70" stroke="#ffb0b0" stroke-width="0.9" />
<text x="693.42" y="176.80" font-size="6.20" textLength="26.36" lengthAdjust="spacingAndGlyphs">WWZ 3-&#963;</text>
<line x1="678.10" y1="182.30" x2="691.70" y2="182.30" stroke="#5050ff" stroke-width="1.0" stroke-dasharray="1.2,1.4,0.6,1.4"/>
<text x="693.42" y="184.40" font-size="6.20" textLength="21.66" lengthAdjust="spacingAndGlyphs">LSP 3-&#963;</text>
<line x1="678.10" y1="189.50" x2="691.70" y2="189.50" stroke="#6ac46a" stroke-width="1.0" />
<text x="693.42" y="191.60" font-size="6.20" textLength="12.46" lengthAdjust="spacingAndGlyphs">PSD</text>
<line x1="693.50" y1="156.70" x2="708.50" y2="156.70" stroke="#666" stroke-width="0.8" />
<line x1="693.50" y1="171.40" x2="708.50" y2="171.40" stroke="#666" stroke-width="0.8" />
</svg>
</body></html>
